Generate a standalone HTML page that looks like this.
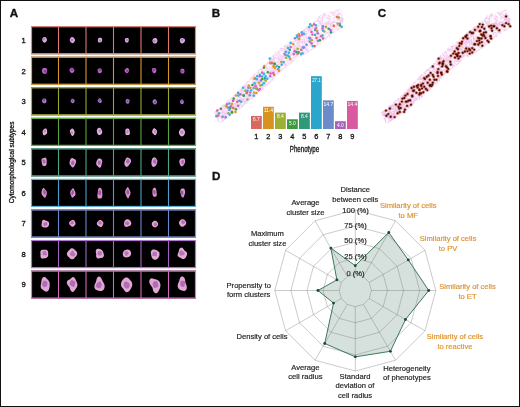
<!DOCTYPE html>
<html><head><meta charset="utf-8"><style>
html,body{margin:0;padding:0;background:#fff}
svg{display:block;filter:blur(0.5px)}
text{font-family:"Liberation Sans",sans-serif;stroke-width:0.18px;paint-order:stroke}
</style></head><body>
<svg width="520" height="407" viewBox="0 0 520 407">
<rect x="0" y="0" width="520" height="407" fill="#fff"/>
<rect x="31" y="26.20" width="165" height="28" fill="#000"/><g transform="translate(44.54,39.78) rotate(-10.3)"><path d="M2.36,0.00 L2.31,0.62 L2.11,1.19 L1.78,1.67 L1.40,2.06 L0.97,2.37 L0.51,2.64 L0.00,2.81 L-0.55,2.82 L-1.07,2.62 L-1.52,2.23 L-1.85,1.74 L-2.10,1.19 L-2.27,0.61 L-2.36,0.00 L-2.31,-0.62 L-2.11,-1.19 L-1.79,-1.68 L-1.40,-2.06 L-0.98,-2.38 L-0.51,-2.64 L-0.00,-2.80 L0.55,-2.81 L1.07,-2.61 L1.51,-2.23 L1.86,-1.74 L2.11,-1.19 L2.28,-0.61Z" fill="#dcaee0"/><path transform="translate(-0.52,-0.77)" d="M1.33,0.00 L1.37,0.33 L1.25,0.64 L1.02,0.86 L0.76,1.02 L0.52,1.16 L0.28,1.32 L0.00,1.43 L-0.30,1.41 L-0.56,1.24 L-0.76,1.01 L-0.93,0.79 L-1.14,0.59 L-1.36,0.33 L-1.50,0.00 L-1.44,-0.35 L-1.20,-0.62 L-0.89,-0.76 L-0.64,-0.86 L-0.46,-1.02 L-0.27,-1.28 L-0.00,-1.52 L0.34,-1.59 L0.64,-1.43 L0.83,-1.11 L0.93,-0.79 L1.03,-0.53 L1.18,-0.29Z" fill="#a070c0" opacity="0.72"/></g><g transform="translate(72.34,40.08) rotate(-10.9)"><path d="M2.65,0.00 L2.59,0.69 L2.32,1.31 L1.91,1.79 L1.48,2.17 L1.04,2.54 L0.56,2.88 L0.00,3.10 L-0.60,3.07 L-1.14,2.77 L-1.55,2.29 L-1.87,1.75 L-2.15,1.21 L-2.40,0.64 L-2.56,0.00 L-2.54,-0.68 L-2.32,-1.31 L-1.96,-1.83 L-1.53,-2.26 L-1.08,-2.62 L-0.57,-2.92 L-0.00,-3.07 L0.58,-2.99 L1.10,-2.67 L1.51,-2.22 L1.86,-1.74 L2.19,-1.24 L2.48,-0.66Z" fill="#dcaee0"/><path transform="translate(-0.38,-0.09)" d="M1.37,0.00 L1.31,0.32 L1.21,0.62 L1.06,0.91 L0.87,1.16 L0.61,1.36 L0.31,1.47 L0.00,1.48 L-0.31,1.43 L-0.60,1.32 L-0.87,1.16 L-1.10,0.94 L-1.27,0.65 L-1.36,0.33 L-1.36,0.00 L-1.31,-0.32 L-1.22,-0.63 L-1.08,-0.92 L-0.88,-1.18 L-0.62,-1.37 L-0.31,-1.46 L-0.00,-1.47 L0.30,-1.41 L0.59,-1.30 L0.86,-1.16 L1.11,-0.94 L1.29,-0.66 L1.37,-0.33Z" fill="#a070c0" opacity="0.72"/></g><g transform="translate(99.97,40.11) rotate(2.1)"><path d="M2.17,0.00 L2.10,0.56 L1.95,1.10 L1.69,1.58 L1.32,1.94 L0.90,2.19 L0.46,2.34 L0.00,2.46 L-0.49,2.51 L-1.00,2.44 L-1.47,2.17 L-1.83,1.71 L-2.03,1.14 L-2.10,0.56 L-2.11,0.00 L-2.07,-0.55 L-1.96,-1.11 L-1.72,-1.61 L-1.36,-2.00 L-0.92,-2.24 L-0.46,-2.37 L-0.00,-2.43 L0.48,-2.45 L0.97,-2.37 L1.44,-2.12 L1.82,-1.70 L2.05,-1.16 L2.16,-0.58Z" fill="#dcaee0"/><path transform="translate(0.03,0.33)" d="M1.23,0.00 L1.26,0.31 L1.17,0.60 L0.95,0.81 L0.69,0.93 L0.46,1.01 L0.24,1.14 L0.00,1.30 L-0.30,1.39 L-0.60,1.33 L-0.82,1.10 L-0.92,0.78 L-0.96,0.49 L-1.01,0.25 L-1.11,0.00 L-1.19,-0.29 L-1.17,-0.60 L-1.01,-0.86 L-0.76,-1.02 L-0.50,-1.12 L-0.26,-1.19 L-0.00,-1.27 L0.28,-1.30 L0.55,-1.21 L0.76,-1.02 L0.90,-0.77 L1.01,-0.52 L1.12,-0.27Z" fill="#a070c0" opacity="0.72"/></g><g transform="translate(126.83,40.19) rotate(4.0)"><path d="M1.92,0.00 L1.89,0.51 L1.80,1.02 L1.61,1.50 L1.30,1.91 L0.90,2.21 L0.47,2.39 L0.00,2.47 L-0.47,2.43 L-0.91,2.23 L-1.28,1.88 L-1.54,1.44 L-1.72,0.97 L-1.87,0.50 L-1.99,0.00 L-2.04,-0.55 L-1.95,-1.10 L-1.69,-1.58 L-1.30,-1.91 L-0.86,-2.09 L-0.43,-2.20 L-0.00,-2.29 L0.46,-2.34 L0.93,-2.27 L1.36,-2.01 L1.67,-1.57 L1.84,-1.04 L1.90,-0.51Z" fill="#dcaee0"/><path transform="translate(0.10,-0.26)" d="M1.06,0.00 L0.99,0.24 L0.92,0.48 L0.87,0.74 L0.76,1.02 L0.56,1.25 L0.29,1.34 L0.00,1.29 L-0.24,1.15 L-0.45,1.00 L-0.65,0.87 L-0.85,0.73 L-1.02,0.53 L-1.10,0.27 L-1.07,0.00 L-0.99,-0.24 L-0.91,-0.47 L-0.85,-0.73 L-0.75,-1.01 L-0.56,-1.25 L-0.29,-1.35 L-0.00,-1.31 L0.25,-1.16 L0.45,-1.00 L0.65,-0.87 L0.85,-0.72 L1.01,-0.52 L1.08,-0.26Z" fill="#a070c0" opacity="0.72"/></g><g transform="translate(154.93,40.79) rotate(-5.2)"><path d="M2.47,0.00 L2.39,0.64 L2.19,1.24 L1.88,1.76 L1.49,2.19 L1.03,2.52 L0.53,2.73 L0.00,2.83 L-0.54,2.78 L-1.06,2.59 L-1.53,2.26 L-1.93,1.81 L-2.24,1.26 L-2.44,0.65 L-2.51,0.00 L-2.43,-0.65 L-2.22,-1.25 L-1.88,-1.76 L-1.47,-2.16 L-1.01,-2.47 L-0.52,-2.68 L-0.00,-2.80 L0.54,-2.79 L1.08,-2.63 L1.56,-2.30 L1.96,-1.84 L2.25,-1.27 L2.42,-0.65Z" fill="#dcaee0"/><path transform="translate(-0.53,0.18)" d="M1.50,0.00 L1.43,0.35 L1.28,0.66 L1.08,0.92 L0.86,1.16 L0.60,1.33 L0.30,1.41 L0.00,1.37 L-0.27,1.25 L-0.50,1.11 L-0.73,0.98 L-0.98,0.84 L-1.24,0.64 L-1.42,0.35 L-1.48,0.00 L-1.41,-0.34 L-1.27,-0.65 L-1.09,-0.93 L-0.88,-1.17 L-0.61,-1.36 L-0.31,-1.43 L-0.00,-1.37 L0.26,-1.23 L0.49,-1.08 L0.72,-0.96 L0.98,-0.83 L1.24,-0.64 L1.44,-0.35Z" fill="#a070c0" opacity="0.72"/></g><g transform="translate(182.31,40.66) rotate(8.7)"><path d="M2.65,0.00 L2.46,0.66 L2.15,1.21 L1.79,1.67 L1.41,2.08 L1.00,2.44 L0.53,2.73 L0.00,2.87 L-0.55,2.83 L-1.07,2.60 L-1.51,2.22 L-1.88,1.76 L-2.17,1.23 L-2.39,0.64 L-2.51,0.00 L-2.50,-0.67 L-2.33,-1.32 L-2.00,-1.88 L-1.56,-2.29 L-1.04,-2.53 L-0.51,-2.62 L-0.00,-2.59 L0.49,-2.51 L0.98,-2.39 L1.50,-2.20 L2.00,-1.87 L2.41,-1.36 L2.65,-0.71Z" fill="#dcaee0"/><path transform="translate(-0.39,-0.58)" d="M1.35,0.00 L1.28,0.31 L1.19,0.61 L1.06,0.91 L0.87,1.16 L0.60,1.33 L0.30,1.38 L0.00,1.35 L-0.27,1.28 L-0.55,1.22 L-0.83,1.11 L-1.10,0.93 L-1.29,0.66 L-1.36,0.33 L-1.35,0.00 L-1.28,-0.31 L-1.19,-0.61 L-1.07,-0.91 L-0.87,-1.16 L-0.60,-1.33 L-0.30,-1.38 L-0.00,-1.35 L0.27,-1.28 L0.55,-1.21 L0.83,-1.11 L1.10,-0.93 L1.29,-0.66 L1.36,-0.33Z" fill="#a070c0" opacity="0.72"/></g><rect x="31.5" y="26.70" width="164" height="27" fill="none" stroke="#e3887f" stroke-width="1.2"/><line x1="58.50" y1="26.20" x2="58.50" y2="54.20" stroke="#e0786e" stroke-width="1.1"/><line x1="86.00" y1="26.20" x2="86.00" y2="54.20" stroke="#e0786e" stroke-width="1.1"/><line x1="113.50" y1="26.20" x2="113.50" y2="54.20" stroke="#e0786e" stroke-width="1.1"/><line x1="141.00" y1="26.20" x2="141.00" y2="54.20" stroke="#e0786e" stroke-width="1.1"/><line x1="168.50" y1="26.20" x2="168.50" y2="54.20" stroke="#e0786e" stroke-width="1.1"/><text x="25.8" y="43.00" text-anchor="end" font-size="7.6" style="stroke-width:0.3px" fill="#111" stroke="#111">1</text><rect x="31" y="56.75" width="165" height="28" fill="#000"/><g transform="translate(44.59,70.83) rotate(4.6)"><path d="M2.41,0.00 L2.30,0.61 L2.21,1.24 L2.06,1.91 L1.73,2.53 L1.22,2.95 L0.61,3.10 L0.00,3.05 L-0.56,2.88 L-1.10,2.65 L-1.60,2.34 L-2.04,1.90 L-2.36,1.33 L-2.54,0.68 L-2.60,0.00 L-2.57,-0.69 L-2.43,-1.37 L-2.14,-1.99 L-1.68,-2.45 L-1.12,-2.70 L-0.54,-2.78 L-0.00,-2.80 L0.55,-2.83 L1.16,-2.80 L1.76,-2.58 L2.25,-2.10 L2.50,-1.41 L2.52,-0.67Z" fill="#b868c6"/><path transform="translate(0.45,0.22)" d="M1.52,0.00 L1.44,0.35 L1.27,0.65 L1.06,0.90 L0.82,1.09 L0.57,1.26 L0.30,1.39 L0.00,1.47 L-0.32,1.48 L-0.64,1.41 L-0.94,1.25 L-1.19,1.01 L-1.38,0.70 L-1.49,0.36 L-1.51,0.00 L-1.44,-0.35 L-1.29,-0.66 L-1.08,-0.91 L-0.83,-1.11 L-0.57,-1.26 L-0.30,-1.38 L-0.00,-1.45 L0.31,-1.46 L0.63,-1.40 L0.94,-1.25 L1.20,-1.01 L1.39,-0.71 L1.51,-0.36Z" fill="#7a3090" opacity="0.72"/></g><g transform="translate(71.90,70.34) rotate(-10.7)"><path d="M2.37,0.00 L2.38,0.63 L2.17,1.22 L1.81,1.69 L1.39,2.04 L0.96,2.33 L0.51,2.59 L0.00,2.75 L-0.53,2.72 L-1.01,2.45 L-1.39,2.03 L-1.67,1.56 L-1.93,1.09 L-2.18,0.58 L-2.36,0.00 L-2.37,-0.63 L-2.17,-1.22 L-1.81,-1.69 L-1.39,-2.04 L-0.96,-2.34 L-0.51,-2.60 L-0.00,-2.76 L0.53,-2.72 L1.01,-2.45 L1.38,-2.02 L1.67,-1.55 L1.93,-1.08 L2.18,-0.58Z" fill="#b868c6"/><path transform="translate(0.14,-0.69)" d="M1.50,0.00 L1.27,0.31 L0.99,0.51 L0.79,0.67 L0.67,0.89 L0.54,1.18 L0.31,1.43 L0.00,1.52 L-0.30,1.41 L-0.54,1.19 L-0.73,0.97 L-0.93,0.78 L-1.12,0.57 L-1.26,0.31 L-1.29,0.00 L-1.20,-0.29 L-1.08,-0.55 L-0.96,-0.81 L-0.83,-1.10 L-0.61,-1.34 L-0.31,-1.45 L-0.00,-1.36 L0.25,-1.15 L0.44,-0.96 L0.65,-0.87 L0.96,-0.81 L1.30,-0.66 L1.51,-0.37Z" fill="#7a3090" opacity="0.72"/></g><g transform="translate(99.71,70.73) rotate(-9.5)"><path d="M2.07,0.00 L2.09,0.56 L2.02,1.13 L1.78,1.65 L1.38,2.02 L0.91,2.21 L0.45,2.30 L0.00,2.37 L-0.47,2.42 L-0.97,2.35 L-1.43,2.09 L-1.76,1.63 L-1.93,1.09 L-2.01,0.54 L-2.06,0.00 L-2.09,-0.56 L-2.02,-1.13 L-1.78,-1.65 L-1.38,-2.02 L-0.91,-2.22 L-0.45,-2.30 L-0.00,-2.37 L0.47,-2.41 L0.97,-2.35 L1.42,-2.08 L1.75,-1.63 L1.93,-1.09 L2.02,-0.54Z" fill="#b868c6"/><path transform="translate(0.03,-0.69)" d="M1.15,0.00 L1.07,0.26 L0.98,0.50 L0.88,0.74 L0.72,0.96 L0.50,1.11 L0.25,1.16 L0.00,1.15 L-0.25,1.15 L-0.53,1.16 L-0.85,1.14 L-1.16,0.98 L-1.33,0.68 L-1.30,0.32 L-1.11,0.00 L-0.89,-0.22 L-0.76,-0.39 L-0.72,-0.61 L-0.68,-0.90 L-0.54,-1.20 L-0.30,-1.38 L-0.00,-1.41 L0.28,-1.32 L0.53,-1.18 L0.77,-1.02 L0.98,-0.83 L1.13,-0.58 L1.19,-0.29Z" fill="#7a3090" opacity="0.72"/></g><g transform="translate(126.96,70.59) rotate(6.5)"><path d="M2.20,0.00 L2.08,0.55 L1.88,1.05 L1.64,1.53 L1.37,2.01 L1.00,2.43 L0.53,2.69 L0.00,2.68 L-0.48,2.46 L-0.88,2.14 L-1.26,1.84 L-1.66,1.54 L-2.07,1.16 L-2.36,0.63 L-2.41,0.00 L-2.22,-0.59 L-1.89,-1.06 L-1.55,-1.44 L-1.24,-1.82 L-0.92,-2.23 L-0.50,-2.57 L-0.00,-2.73 L0.52,-2.64 L0.98,-2.36 L1.36,-1.99 L1.70,-1.59 L1.99,-1.12 L2.18,-0.58Z" fill="#b868c6"/><path transform="translate(0.42,0.23)" d="M1.09,0.00 L1.09,0.26 L1.06,0.54 L0.97,0.82 L0.81,1.08 L0.58,1.27 L0.29,1.37 L0.00,1.36 L-0.27,1.27 L-0.51,1.13 L-0.71,0.95 L-0.89,0.75 L-1.04,0.53 L-1.15,0.28 L-1.20,0.00 L-1.18,-0.28 L-1.09,-0.56 L-0.94,-0.80 L-0.75,-1.00 L-0.53,-1.17 L-0.28,-1.30 L-0.00,-1.36 L0.29,-1.33 L0.55,-1.22 L0.77,-1.03 L0.93,-0.78 L1.02,-0.52 L1.07,-0.26Z" fill="#7a3090" opacity="0.72"/></g><g transform="translate(154.18,70.49) rotate(4.6)"><path d="M2.24,0.00 L2.20,0.58 L2.04,1.15 L1.78,1.65 L1.43,2.09 L1.01,2.44 L0.52,2.68 L0.00,2.79 L-0.53,2.70 L-0.99,2.40 L-1.34,1.96 L-1.58,1.47 L-1.76,0.99 L-1.95,0.52 L-2.15,0.00 L-2.28,-0.61 L-2.24,-1.26 L-1.98,-1.84 L-1.54,-2.25 L-1.02,-2.47 L-0.49,-2.53 L-0.00,-2.50 L0.47,-2.42 L0.93,-2.26 L1.36,-1.99 L1.72,-1.60 L1.99,-1.12 L2.17,-0.58Z" fill="#b868c6"/><path transform="translate(-0.34,-0.58)" d="M1.43,0.00 L1.38,0.33 L1.24,0.63 L1.02,0.87 L0.76,1.02 L0.49,1.08 L0.23,1.08 L0.00,1.09 L-0.24,1.12 L-0.52,1.14 L-0.82,1.09 L-1.07,0.91 L-1.22,0.62 L-1.24,0.30 L-1.19,0.00 L-1.15,-0.28 L-1.13,-0.58 L-1.06,-0.89 L-0.88,-1.17 L-0.60,-1.32 L-0.28,-1.30 L-0.00,-1.16 L0.22,-1.02 L0.42,-0.93 L0.66,-0.88 L0.94,-0.80 L1.20,-0.61 L1.38,-0.33Z" fill="#7a3090" opacity="0.72"/></g><g transform="translate(182.43,71.11) rotate(3.9)"><path d="M2.00,0.00 L2.02,0.54 L1.98,1.11 L1.80,1.68 L1.45,2.12 L0.98,2.38 L0.48,2.45 L0.00,2.43 L-0.46,2.37 L-0.93,2.25 L-1.36,1.99 L-1.71,1.59 L-1.92,1.08 L-2.01,0.54 L-2.04,0.00 L-2.05,-0.55 L-1.98,-1.11 L-1.78,-1.66 L-1.42,-2.08 L-0.96,-2.33 L-0.48,-2.43 L-0.00,-2.44 L0.47,-2.41 L0.95,-2.29 L1.39,-2.03 L1.72,-1.60 L1.90,-1.07 L1.97,-0.52Z" fill="#b868c6"/><path transform="translate(-0.20,0.22)" d="M1.24,0.00 L1.18,0.29 L1.07,0.55 L0.93,0.79 L0.76,1.02 L0.55,1.22 L0.29,1.36 L0.00,1.39 L-0.28,1.29 L-0.50,1.10 L-0.66,0.88 L-0.78,0.66 L-0.89,0.46 L-1.00,0.24 L-1.11,0.00 L-1.19,-0.29 L-1.19,-0.61 L-1.09,-0.92 L-0.88,-1.17 L-0.59,-1.30 L-0.28,-1.31 L-0.00,-1.21 L0.23,-1.08 L0.43,-0.95 L0.64,-0.85 L0.86,-0.72 L1.06,-0.54 L1.20,-0.29Z" fill="#7a3090" opacity="0.72"/></g><rect x="31.5" y="57.25" width="164" height="27" fill="none" stroke="#dca443" stroke-width="1.2"/><line x1="58.50" y1="56.75" x2="58.50" y2="84.75" stroke="#d8982a" stroke-width="1.1"/><line x1="86.00" y1="56.75" x2="86.00" y2="84.75" stroke="#d8982a" stroke-width="1.1"/><line x1="113.50" y1="56.75" x2="113.50" y2="84.75" stroke="#d8982a" stroke-width="1.1"/><line x1="141.00" y1="56.75" x2="141.00" y2="84.75" stroke="#d8982a" stroke-width="1.1"/><line x1="168.50" y1="56.75" x2="168.50" y2="84.75" stroke="#d8982a" stroke-width="1.1"/><text x="25.8" y="73.55" text-anchor="end" font-size="7.6" style="stroke-width:0.3px" fill="#111" stroke="#111">2</text><rect x="31" y="87.30" width="165" height="28" fill="#000"/><g transform="translate(44.30,100.88) rotate(7.4)"><path d="M2.18,0.00 L2.22,0.61 L2.09,1.21 L1.80,1.72 L1.38,2.08 L0.92,2.30 L0.46,2.42 L0.00,2.47 L-0.46,2.44 L-0.91,2.27 L-1.31,1.97 L-1.64,1.57 L-1.91,1.11 L-2.13,0.58 L-2.26,0.00 L-2.25,-0.62 L-2.07,-1.20 L-1.74,-1.67 L-1.33,-1.99 L-0.89,-2.22 L-0.46,-2.40 L-0.00,-2.52 L0.48,-2.53 L0.95,-2.37 L1.35,-2.03 L1.64,-1.57 L1.86,-1.07 L2.04,-0.56Z" fill="#ac7ace"/><path transform="translate(-0.44,-0.88)" d="M1.09,0.00 L1.02,0.26 L1.00,0.53 L0.99,0.86 L0.89,1.21 L0.64,1.46 L0.31,1.50 L0.00,1.34 L-0.23,1.11 L-0.41,0.93 L-0.60,0.83 L-0.84,0.73 L-1.05,0.55 L-1.18,0.29 L-1.19,0.00 L-1.15,-0.29 L-1.09,-0.57 L-1.01,-0.87 L-0.85,-1.16 L-0.60,-1.35 L-0.29,-1.37 L-0.00,-1.26 L0.23,-1.11 L0.45,-1.01 L0.68,-0.93 L0.92,-0.80 L1.10,-0.58 L1.15,-0.29Z" fill="#703098" opacity="0.72"/></g><g transform="translate(72.64,100.95) rotate(-5.0)"><path d="M2.01,0.00 L1.91,0.52 L1.68,0.97 L1.39,1.33 L1.11,1.67 L0.80,1.99 L0.43,2.24 L0.00,2.33 L-0.42,2.21 L-0.78,1.95 L-1.09,1.64 L-1.39,1.33 L-1.69,0.97 L-1.93,0.53 L-2.03,0.00 L-1.94,-0.53 L-1.70,-0.98 L-1.41,-1.34 L-1.11,-1.66 L-0.79,-1.96 L-0.42,-2.20 L-0.00,-2.30 L0.42,-2.20 L0.79,-1.96 L1.11,-1.67 L1.41,-1.35 L1.70,-0.98 L1.93,-0.53Z" fill="#ac7ace"/><path transform="translate(-0.18,-0.26)" d="M0.97,0.00 L0.89,0.22 L0.81,0.42 L0.73,0.63 L0.62,0.85 L0.46,1.04 L0.24,1.15 L0.00,1.16 L-0.23,1.10 L-0.45,1.01 L-0.67,0.92 L-0.89,0.78 L-1.06,0.56 L-1.12,0.28 L-1.04,0.00 L-0.88,-0.22 L-0.73,-0.38 L-0.63,-0.55 L-0.55,-0.76 L-0.44,-1.00 L-0.25,-1.19 L-0.00,-1.27 L0.26,-1.23 L0.49,-1.10 L0.68,-0.93 L0.84,-0.73 L0.96,-0.50 L1.00,-0.25Z" fill="#703098" opacity="0.72"/></g><g transform="translate(99.78,100.72) rotate(-7.6)"><path d="M1.93,0.00 L1.94,0.53 L1.82,1.05 L1.59,1.52 L1.26,1.90 L0.88,2.19 L0.45,2.36 L0.00,2.38 L-0.43,2.24 L-0.80,1.99 L-1.12,1.69 L-1.42,1.36 L-1.72,1.00 L-1.97,0.54 L-2.09,0.00 L-2.03,-0.56 L-1.81,-1.05 L-1.49,-1.43 L-1.16,-1.74 L-0.82,-2.03 L-0.44,-2.29 L-0.00,-2.44 L0.46,-2.41 L0.87,-2.17 L1.20,-1.80 L1.44,-1.38 L1.64,-0.95 L1.82,-0.50Z" fill="#ac7ace"/><path transform="translate(-0.21,-0.17)" d="M1.04,0.00 L1.01,0.25 L0.93,0.49 L0.79,0.69 L0.63,0.86 L0.45,1.02 L0.24,1.14 L0.00,1.22 L-0.25,1.21 L-0.49,1.11 L-0.69,0.95 L-0.86,0.75 L-0.99,0.52 L-1.07,0.27 L-1.10,0.00 L-1.05,-0.26 L-0.93,-0.49 L-0.76,-0.66 L-0.59,-0.81 L-0.42,-0.96 L-0.23,-1.11 L-0.00,-1.23 L0.26,-1.26 L0.52,-1.18 L0.73,-0.99 L0.87,-0.76 L0.96,-0.50 L1.02,-0.25Z" fill="#703098" opacity="0.72"/></g><g transform="translate(127.58,101.31) rotate(6.2)"><path d="M1.94,0.00 L1.85,0.51 L1.74,1.00 L1.57,1.50 L1.31,1.97 L0.93,2.31 L0.47,2.46 L0.00,2.45 L-0.44,2.33 L-0.86,2.13 L-1.23,1.86 L-1.55,1.48 L-1.77,1.02 L-1.87,0.51 L-1.90,0.00 L-1.89,-0.52 L-1.83,-1.06 L-1.67,-1.60 L-1.36,-2.05 L-0.93,-2.32 L-0.45,-2.39 L-0.00,-2.31 L0.42,-2.19 L0.83,-2.06 L1.24,-1.87 L1.62,-1.55 L1.88,-1.08 L1.97,-0.54Z" fill="#ac7ace"/><path transform="translate(-0.06,-0.15)" d="M1.04,0.00 L1.05,0.26 L1.01,0.53 L0.89,0.78 L0.69,0.95 L0.45,1.02 L0.21,1.03 L0.00,1.02 L-0.22,1.05 L-0.48,1.09 L-0.78,1.06 L-1.05,0.91 L-1.21,0.64 L-1.23,0.31 L-1.13,0.00 L-0.98,-0.24 L-0.83,-0.43 L-0.70,-0.61 L-0.58,-0.79 L-0.44,-0.99 L-0.24,-1.16 L-0.00,-1.28 L0.27,-1.31 L0.54,-1.23 L0.77,-1.05 L0.91,-0.79 L0.99,-0.52 L1.02,-0.25Z" fill="#703098" opacity="0.72"/></g><g transform="translate(154.82,101.83) rotate(-8.7)"><path d="M2.19,0.00 L2.18,0.60 L2.00,1.16 L1.68,1.61 L1.29,1.94 L0.89,2.22 L0.46,2.44 L0.00,2.59 L-0.49,2.57 L-0.94,2.35 L-1.31,1.97 L-1.59,1.53 L-1.83,1.06 L-2.04,0.56 L-2.19,0.00 L-2.19,-0.60 L-2.01,-1.16 L-1.69,-1.62 L-1.30,-1.96 L-0.89,-2.22 L-0.46,-2.43 L-0.00,-2.56 L0.48,-2.55 L0.94,-2.34 L1.31,-1.97 L1.60,-1.54 L1.85,-1.07 L2.06,-0.56Z" fill="#ac7ace"/><path transform="translate(0.34,0.36)" d="M0.95,0.00 L0.93,0.23 L0.98,0.52 L1.01,0.88 L0.88,1.20 L0.60,1.37 L0.28,1.32 L0.00,1.16 L-0.22,1.03 L-0.43,0.98 L-0.69,0.94 L-0.96,0.83 L-1.14,0.60 L-1.21,0.30 L-1.19,0.00 L-1.14,-0.28 L-1.08,-0.57 L-0.96,-0.84 L-0.76,-1.04 L-0.50,-1.12 L-0.23,-1.12 L-0.00,-1.11 L0.24,-1.15 L0.53,-1.20 L0.84,-1.15 L1.08,-0.94 L1.14,-0.60 L1.06,-0.26Z" fill="#703098" opacity="0.72"/></g><g transform="translate(181.91,101.84) rotate(-0.3)"><path d="M1.91,0.00 L1.92,0.53 L1.80,1.04 L1.57,1.50 L1.25,1.88 L0.86,2.15 L0.44,2.31 L0.00,2.33 L-0.42,2.22 L-0.80,2.00 L-1.14,1.72 L-1.45,1.38 L-1.72,0.99 L-1.92,0.53 L-2.02,0.00 L-1.96,-0.54 L-1.77,-1.02 L-1.50,-1.43 L-1.18,-1.77 L-0.83,-2.06 L-0.44,-2.29 L-0.00,-2.40 L0.45,-2.35 L0.85,-2.13 L1.18,-1.78 L1.44,-1.38 L1.65,-0.95 L1.81,-0.50Z" fill="#ac7ace"/><path transform="translate(-0.37,-0.45)" d="M1.00,0.00 L0.95,0.24 L0.89,0.47 L0.81,0.71 L0.68,0.94 L0.49,1.11 L0.25,1.20 L0.00,1.20 L-0.24,1.15 L-0.46,1.05 L-0.68,0.92 L-0.86,0.74 L-0.97,0.51 L-1.02,0.25 L-0.99,0.00 L-0.94,-0.24 L-0.89,-0.47 L-0.81,-0.70 L-0.68,-0.94 L-0.49,-1.11 L-0.25,-1.21 L-0.00,-1.21 L0.24,-1.15 L0.46,-1.05 L0.67,-0.92 L0.85,-0.74 L0.97,-0.51 L1.01,-0.25Z" fill="#703098" opacity="0.72"/></g><rect x="31.5" y="87.80" width="164" height="27" fill="none" stroke="#a6b045" stroke-width="1.2"/><line x1="58.50" y1="87.30" x2="58.50" y2="115.30" stroke="#9aa62c" stroke-width="1.1"/><line x1="86.00" y1="87.30" x2="86.00" y2="115.30" stroke="#9aa62c" stroke-width="1.1"/><line x1="113.50" y1="87.30" x2="113.50" y2="115.30" stroke="#9aa62c" stroke-width="1.1"/><line x1="141.00" y1="87.30" x2="141.00" y2="115.30" stroke="#9aa62c" stroke-width="1.1"/><line x1="168.50" y1="87.30" x2="168.50" y2="115.30" stroke="#9aa62c" stroke-width="1.1"/><text x="25.8" y="104.10" text-anchor="end" font-size="7.6" style="stroke-width:0.3px" fill="#111" stroke="#111">3</text><rect x="31" y="117.85" width="165" height="28" fill="#000"/><g transform="translate(44.90,131.86) rotate(11.6)"><path d="M2.36,0.00 L2.37,0.77 L2.16,1.48 L1.80,2.04 L1.39,2.47 L0.97,2.86 L0.52,3.24 L0.00,3.49 L-0.56,3.47 L-1.06,3.12 L-1.43,2.55 L-1.70,1.93 L-1.95,1.33 L-2.19,0.71 L-2.37,0.00 L-2.37,-0.77 L-2.15,-1.48 L-1.79,-2.03 L-1.38,-2.46 L-0.97,-2.86 L-0.52,-3.25 L-0.00,-3.51 L0.56,-3.49 L1.06,-3.13 L1.43,-2.55 L1.69,-1.92 L1.93,-1.33 L2.18,-0.71Z" fill="#e6b6dc"/><path transform="translate(-0.28,-0.72)" d="M1.16,0.00 L1.22,0.36 L1.23,0.77 L1.10,1.14 L0.84,1.37 L0.53,1.42 L0.25,1.40 L0.00,1.44 L-0.27,1.54 L-0.59,1.59 L-0.90,1.46 L-1.11,1.14 L-1.18,0.74 L-1.18,0.35 L-1.18,0.00 L-1.21,-0.36 L-1.20,-0.75 L-1.07,-1.10 L-0.82,-1.33 L-0.52,-1.40 L-0.25,-1.42 L-0.00,-1.49 L0.28,-1.60 L0.61,-1.63 L0.91,-1.47 L1.09,-1.12 L1.14,-0.71 L1.13,-0.33Z" fill="#b070c0" opacity="0.72"/></g><g transform="translate(72.33,132.09) rotate(-10.6)"><path d="M2.30,0.00 L2.23,0.72 L1.99,1.37 L1.66,1.88 L1.31,2.33 L0.96,2.84 L0.54,3.39 L0.00,3.80 L-0.62,3.85 L-1.17,3.44 L-1.52,2.72 L-1.70,1.93 L-1.83,1.25 L-2.00,0.65 L-2.19,0.00 L-2.28,-0.74 L-2.16,-1.48 L-1.84,-2.09 L-1.43,-2.54 L-0.99,-2.91 L-0.52,-3.25 L-0.00,-3.50 L0.57,-3.53 L1.10,-3.25 L1.52,-2.71 L1.82,-2.06 L2.04,-1.39 L2.21,-0.72Z" fill="#e6b6dc"/><path transform="translate(-0.50,0.30)" d="M1.28,0.00 L1.20,0.35 L1.11,0.69 L1.03,1.06 L0.89,1.45 L0.64,1.73 L0.32,1.79 L0.00,1.62 L-0.24,1.36 L-0.44,1.19 L-0.69,1.12 L-1.01,1.04 L-1.31,0.82 L-1.47,0.43 L-1.41,0.00 L-1.23,-0.36 L-1.04,-0.65 L-0.91,-0.94 L-0.79,-1.28 L-0.60,-1.61 L-0.32,-1.80 L-0.00,-1.76 L0.28,-1.58 L0.51,-1.36 L0.73,-1.19 L0.97,-1.00 L1.19,-0.74 L1.30,-0.38Z" fill="#b070c0" opacity="0.72"/></g><g transform="translate(99.47,131.41) rotate(-6.3)"><path d="M2.69,0.00 L2.68,0.87 L2.46,1.69 L2.07,2.34 L1.58,2.82 L1.07,3.17 L0.55,3.45 L0.00,3.63 L-0.58,3.63 L-1.15,3.39 L-1.64,2.92 L-2.01,2.28 L-2.29,1.57 L-2.48,0.81 L-2.58,0.00 L-2.56,-0.83 L-2.38,-1.63 L-2.05,-2.33 L-1.62,-2.90 L-1.13,-3.33 L-0.58,-3.62 L-0.00,-3.72 L0.58,-3.61 L1.11,-3.28 L1.56,-2.78 L1.93,-2.19 L2.25,-1.54 L2.52,-0.82Z" fill="#e6b6dc"/><path transform="translate(0.31,-0.49)" d="M1.46,0.00 L1.43,0.42 L1.30,0.81 L1.11,1.14 L0.87,1.41 L0.60,1.61 L0.31,1.75 L0.00,1.82 L-0.32,1.81 L-0.63,1.70 L-0.91,1.48 L-1.14,1.18 L-1.29,0.81 L-1.37,0.41 L-1.39,0.00 L-1.35,-0.40 L-1.26,-0.78 L-1.11,-1.14 L-0.90,-1.46 L-0.64,-1.71 L-0.33,-1.85 L-0.00,-1.87 L0.32,-1.79 L0.60,-1.62 L0.86,-1.40 L1.09,-1.12 L1.28,-0.80 L1.41,-0.42Z" fill="#b070c0" opacity="0.72"/></g><g transform="translate(127.53,131.91) rotate(-0.6)"><path d="M2.28,0.00 L2.39,0.78 L2.36,1.62 L2.08,2.36 L1.60,2.85 L1.03,3.04 L0.49,3.08 L0.00,3.14 L-0.52,3.24 L-1.08,3.20 L-1.61,2.87 L-1.96,2.23 L-2.11,1.45 L-2.14,0.69 L-2.16,0.00 L-2.21,-0.72 L-2.20,-1.51 L-2.02,-2.29 L-1.62,-2.89 L-1.09,-3.23 L-0.54,-3.35 L-0.00,-3.36 L0.53,-3.30 L1.05,-3.10 L1.50,-2.68 L1.82,-2.06 L2.00,-1.37 L2.14,-0.69Z" fill="#e6b6dc"/><path transform="translate(-0.13,-0.19)" d="M1.27,0.00 L1.22,0.36 L1.11,0.69 L0.98,1.01 L0.81,1.32 L0.60,1.61 L0.32,1.79 L0.00,1.83 L-0.30,1.72 L-0.57,1.54 L-0.83,1.35 L-1.08,1.12 L-1.29,0.80 L-1.37,0.40 L-1.29,0.00 L-1.11,-0.33 L-0.92,-0.58 L-0.81,-0.84 L-0.74,-1.20 L-0.61,-1.63 L-0.35,-1.99 L-0.00,-2.11 L0.35,-1.96 L0.61,-1.63 L0.78,-1.27 L0.93,-0.96 L1.09,-0.68 L1.22,-0.36Z" fill="#b070c0" opacity="0.72"/></g><g transform="translate(154.64,131.67) rotate(-8.9)"><path d="M2.47,0.00 L2.36,0.77 L2.08,1.42 L1.73,1.96 L1.38,2.47 L1.01,2.97 L0.54,3.37 L0.00,3.51 L-0.53,3.30 L-0.97,2.87 L-1.33,2.37 L-1.68,1.91 L-2.05,1.41 L-2.37,0.77 L-2.50,0.00 L-2.39,-0.78 L-2.08,-1.43 L-1.72,-1.95 L-1.37,-2.44 L-0.99,-2.93 L-0.54,-3.34 L-0.00,-3.50 L0.53,-3.33 L0.98,-2.90 L1.35,-2.40 L1.69,-1.92 L2.05,-1.40 L2.35,-0.76Z" fill="#e6b6dc"/><path transform="translate(0.44,0.04)" d="M1.43,0.00 L1.34,0.40 L1.15,0.72 L0.94,0.97 L0.73,1.19 L0.52,1.40 L0.28,1.57 L0.00,1.64 L-0.28,1.59 L-0.54,1.44 L-0.77,1.24 L-0.99,1.02 L-1.20,0.75 L-1.35,0.40 L-1.39,0.00 L-1.31,-0.39 L-1.14,-0.71 L-0.95,-0.98 L-0.76,-1.23 L-0.54,-1.46 L-0.28,-1.61 L-0.00,-1.65 L0.27,-1.55 L0.52,-1.38 L0.74,-1.20 L0.97,-1.00 L1.20,-0.75 L1.38,-0.41Z" fill="#b070c0" opacity="0.72"/></g><g transform="translate(181.97,132.40) rotate(1.1)"><path d="M3.01,0.00 L2.87,0.93 L2.57,1.76 L2.17,2.47 L1.73,3.08 L1.22,3.60 L0.63,3.95 L0.00,4.05 L-0.62,3.88 L-1.19,3.52 L-1.71,3.05 L-2.19,2.48 L-2.62,1.79 L-2.92,0.95 L-3.01,0.00 L-2.87,-0.93 L-2.57,-1.76 L-2.17,-2.47 L-1.73,-3.08 L-1.22,-3.60 L-0.63,-3.95 L-0.00,-4.05 L0.62,-3.88 L1.19,-3.52 L1.71,-3.05 L2.19,-2.48 L2.62,-1.79 L2.92,-0.95Z" fill="#e6b6dc"/><path transform="translate(-0.03,-0.20)" d="M1.61,0.00 L1.62,0.48 L1.50,0.93 L1.25,1.29 L0.95,1.54 L0.64,1.72 L0.33,1.87 L0.00,1.99 L-0.35,2.00 L-0.69,1.86 L-0.97,1.58 L-1.18,1.22 L-1.34,0.84 L-1.49,0.44 L-1.61,0.00 L-1.64,-0.48 L-1.53,-0.95 L-1.28,-1.32 L-0.96,-1.56 L-0.64,-1.71 L-0.32,-1.84 L-0.00,-1.94 L0.35,-1.97 L0.69,-1.86 L0.98,-1.60 L1.20,-1.24 L1.37,-0.86 L1.51,-0.45Z" fill="#b070c0" opacity="0.72"/></g><rect x="31.5" y="118.35" width="164" height="27" fill="none" stroke="#6db053" stroke-width="1.2"/><line x1="58.50" y1="117.85" x2="58.50" y2="145.85" stroke="#5aa63c" stroke-width="1.1"/><line x1="86.00" y1="117.85" x2="86.00" y2="145.85" stroke="#5aa63c" stroke-width="1.1"/><line x1="113.50" y1="117.85" x2="113.50" y2="145.85" stroke="#5aa63c" stroke-width="1.1"/><line x1="141.00" y1="117.85" x2="141.00" y2="145.85" stroke="#5aa63c" stroke-width="1.1"/><line x1="168.50" y1="117.85" x2="168.50" y2="145.85" stroke="#5aa63c" stroke-width="1.1"/><text x="25.8" y="134.65" text-anchor="end" font-size="7.6" style="stroke-width:0.3px" fill="#111" stroke="#111">4</text><rect x="31" y="148.40" width="165" height="28" fill="#000"/><g transform="translate(44.20,161.83) rotate(-6.4)"><path d="M2.45,0.00 L2.33,0.82 L2.24,1.68 L2.08,2.57 L1.73,3.37 L1.21,3.91 L0.62,4.20 L0.00,4.32 L-0.63,4.31 L-1.28,4.11 L-1.85,3.60 L-2.25,2.78 L-2.43,1.81 L-2.48,0.88 L-2.51,0.00 L-2.56,-0.91 L-2.53,-1.89 L-2.27,-2.82 L-1.78,-3.47 L-1.16,-3.74 L-0.56,-3.78 L-0.00,-3.84 L0.59,-4.00 L1.27,-4.09 L1.96,-3.82 L2.48,-3.07 L2.69,-2.01 L2.62,-0.93Z" fill="#e0a2d2"/><path transform="translate(-0.13,-0.44)" d="M1.36,0.00 L1.41,0.45 L1.45,0.98 L1.37,1.54 L1.10,1.95 L0.72,2.11 L0.33,2.05 L0.00,1.93 L-0.30,1.87 L-0.63,1.83 L-0.95,1.69 L-1.21,1.36 L-1.33,0.90 L-1.34,0.43 L-1.34,0.00 L-1.39,-0.45 L-1.44,-0.98 L-1.36,-1.53 L-1.11,-1.96 L-0.73,-2.13 L-0.33,-2.07 L-0.00,-1.94 L0.30,-1.87 L0.62,-1.82 L0.95,-1.67 L1.20,-1.35 L1.32,-0.90 L1.34,-0.43Z" fill="#9050a8" opacity="0.72"/></g><g transform="translate(72.72,162.55) rotate(7.5)"><path d="M3.14,0.00 L2.84,1.01 L2.55,1.91 L2.30,2.84 L1.96,3.82 L1.43,4.60 L0.72,4.93 L0.00,4.74 L-0.62,4.23 L-1.15,3.70 L-1.66,3.24 L-2.22,2.74 L-2.73,2.04 L-3.08,1.09 L-3.20,0.00 L-3.12,-1.10 L-2.90,-2.17 L-2.55,-3.15 L-2.03,-3.96 L-1.37,-4.40 L-0.65,-4.42 L-0.00,-4.14 L0.56,-3.83 L1.13,-3.65 L1.80,-3.50 L2.51,-3.10 L3.06,-2.28 L3.27,-1.16Z" fill="#e0a2d2"/><path transform="translate(0.10,0.35)" d="M1.70,0.00 L1.64,0.53 L1.47,1.00 L1.25,1.41 L1.00,1.78 L0.72,2.12 L0.38,2.37 L0.00,2.46 L-0.38,2.35 L-0.71,2.08 L-0.98,1.74 L-1.23,1.39 L-1.47,1.00 L-1.67,0.54 L-1.75,0.00 L-1.69,-0.54 L-1.50,-1.02 L-1.25,-1.40 L-0.98,-1.74 L-0.70,-2.05 L-0.37,-2.31 L-0.00,-2.44 L0.38,-2.38 L0.73,-2.14 L1.02,-1.80 L1.26,-1.42 L1.48,-1.00 L1.64,-0.53Z" fill="#9050a8" opacity="0.72"/></g><g transform="translate(99.28,162.80) rotate(3.1)"><path d="M2.75,0.00 L2.53,0.90 L2.36,1.76 L2.21,2.73 L1.93,3.75 L1.41,4.55 L0.72,4.87 L0.00,4.65 L-0.61,4.14 L-1.12,3.62 L-1.64,3.20 L-2.21,2.74 L-2.74,2.04 L-3.06,1.08 L-3.09,0.00 L-2.89,-1.02 L-2.57,-1.92 L-2.20,-2.73 L-1.78,-3.46 L-1.26,-4.05 L-0.64,-4.37 L-0.00,-4.41 L0.63,-4.27 L1.25,-4.03 L1.88,-3.65 L2.44,-3.02 L2.81,-2.10 L2.89,-1.03Z" fill="#e0a2d2"/><path transform="translate(0.00,-0.15)" d="M1.51,0.00 L1.49,0.48 L1.42,0.96 L1.27,1.42 L1.02,1.80 L0.70,2.05 L0.35,2.18 L0.00,2.22 L-0.36,2.21 L-0.72,2.10 L-1.05,1.86 L-1.31,1.48 L-1.46,0.99 L-1.51,0.49 L-1.50,0.00 L-1.47,-0.47 L-1.39,-0.95 L-1.25,-1.41 L-1.02,-1.80 L-0.71,-2.07 L-0.36,-2.21 L-0.00,-2.26 L0.36,-2.23 L0.72,-2.10 L1.04,-1.84 L1.29,-1.45 L1.44,-0.98 L1.50,-0.48Z" fill="#9050a8" opacity="0.72"/></g><g transform="translate(127.53,162.05) rotate(11.4)"><path d="M3.18,0.00 L2.80,0.99 L2.38,1.78 L2.04,2.52 L1.71,3.32 L1.28,4.11 L0.69,4.70 L0.00,4.93 L-0.71,4.80 L-1.37,4.41 L-1.97,3.83 L-2.47,3.06 L-2.83,2.11 L-2.97,1.05 L-2.93,0.00 L-2.77,-0.98 L-2.57,-1.92 L-2.31,-2.86 L-1.92,-3.74 L-1.35,-4.36 L-0.68,-4.61 L-0.00,-4.50 L0.62,-4.24 L1.24,-3.98 L1.90,-3.70 L2.58,-3.19 L3.12,-2.33 L3.33,-1.18Z" fill="#e0a2d2"/><path transform="translate(0.17,-0.79)" d="M1.82,0.00 L1.76,0.57 L1.57,1.07 L1.30,1.46 L0.99,1.75 L0.67,1.97 L0.35,2.15 L0.00,2.28 L-0.37,2.30 L-0.74,2.18 L-1.07,1.90 L-1.32,1.48 L-1.48,1.00 L-1.56,0.50 L-1.60,0.00 L-1.59,-0.51 L-1.53,-1.04 L-1.38,-1.55 L-1.12,-1.98 L-0.77,-2.25 L-0.38,-2.34 L-0.00,-2.27 L0.34,-2.10 L0.65,-1.90 L0.95,-1.67 L1.25,-1.40 L1.53,-1.04 L1.74,-0.56Z" fill="#9050a8" opacity="0.72"/></g><g transform="translate(154.22,162.12) rotate(4.6)"><path d="M2.99,0.00 L2.84,1.01 L2.57,1.92 L2.21,2.74 L1.78,3.47 L1.27,4.10 L0.67,4.57 L0.00,4.82 L-0.70,4.78 L-1.37,4.43 L-1.95,3.79 L-2.38,2.94 L-2.64,1.98 L-2.76,0.98 L-2.77,0.00 L-2.71,-0.96 L-2.57,-1.92 L-2.32,-2.88 L-1.92,-3.73 L-1.36,-4.38 L-0.69,-4.71 L-0.00,-4.73 L0.66,-4.51 L1.28,-4.12 L1.84,-3.59 L2.35,-2.90 L2.74,-2.05 L2.96,-1.05Z" fill="#e0a2d2"/><path transform="translate(0.47,-0.62)" d="M1.58,0.00 L1.82,0.59 L1.81,1.23 L1.52,1.71 L1.09,1.93 L0.68,1.98 L0.33,2.03 L0.00,2.15 L-0.36,2.22 L-0.72,2.11 L-1.01,1.79 L-1.22,1.37 L-1.38,0.94 L-1.56,0.50 L-1.71,0.00 L-1.74,-0.56 L-1.58,-1.07 L-1.27,-1.43 L-0.94,-1.66 L-0.65,-1.91 L-0.36,-2.24 L-0.00,-2.57 L0.43,-2.65 L0.80,-2.35 L1.00,-1.78 L1.05,-1.18 L1.09,-0.74 L1.28,-0.41Z" fill="#9050a8" opacity="0.72"/></g><g transform="translate(182.19,162.12) rotate(10.7)"><path d="M2.72,0.00 L2.57,0.91 L2.33,1.74 L2.04,2.52 L1.67,3.24 L1.19,3.85 L0.62,4.24 L0.00,4.31 L-0.60,4.06 L-1.11,3.57 L-1.53,2.98 L-1.92,2.37 L-2.30,1.72 L-2.67,0.95 L-2.92,0.00 L-2.94,-1.04 L-2.69,-2.01 L-2.22,-2.75 L-1.65,-3.21 L-1.08,-3.47 L-0.53,-3.63 L-0.00,-3.76 L0.56,-3.82 L1.16,-3.73 L1.74,-3.38 L2.24,-2.77 L2.58,-1.93 L2.73,-0.97Z" fill="#e0a2d2"/><path transform="translate(0.38,-0.19)" d="M1.29,0.00 L1.32,0.43 L1.32,0.90 L1.24,1.39 L1.05,1.85 L0.75,2.19 L0.38,2.33 L0.00,2.27 L-0.33,2.05 L-0.60,1.74 L-0.81,1.43 L-1.00,1.12 L-1.18,0.80 L-1.35,0.43 L-1.46,0.00 L-1.48,-0.48 L-1.40,-0.95 L-1.22,-1.37 L-0.97,-1.71 L-0.67,-1.97 L-0.35,-2.14 L-0.00,-2.20 L0.35,-2.14 L0.66,-1.93 L0.91,-1.62 L1.09,-1.22 L1.19,-0.81 L1.25,-0.40Z" fill="#9050a8" opacity="0.72"/></g><rect x="31.5" y="148.90" width="164" height="27" fill="none" stroke="#5fb296" stroke-width="1.2"/><line x1="58.50" y1="148.40" x2="58.50" y2="176.40" stroke="#4aa888" stroke-width="1.1"/><line x1="86.00" y1="148.40" x2="86.00" y2="176.40" stroke="#4aa888" stroke-width="1.1"/><line x1="113.50" y1="148.40" x2="113.50" y2="176.40" stroke="#4aa888" stroke-width="1.1"/><line x1="141.00" y1="148.40" x2="141.00" y2="176.40" stroke="#4aa888" stroke-width="1.1"/><line x1="168.50" y1="148.40" x2="168.50" y2="176.40" stroke="#4aa888" stroke-width="1.1"/><text x="25.8" y="165.20" text-anchor="end" font-size="7.6" style="stroke-width:0.3px" fill="#111" stroke="#111">5</text><rect x="31" y="178.95" width="165" height="28" fill="#000"/><g transform="translate(44.15,192.94) rotate(-4.8)"><path d="M2.66,0.00 L2.52,1.20 L2.20,2.20 L1.82,3.03 L1.45,3.78 L1.04,4.48 L0.54,4.92 L0.00,4.91 L-0.49,4.48 L-0.89,3.85 L-1.26,3.29 L-1.68,2.79 L-2.14,2.15 L-2.52,1.20 L-2.66,0.00 L-2.52,-1.20 L-2.20,-2.20 L-1.82,-3.03 L-1.45,-3.79 L-1.04,-4.48 L-0.54,-4.92 L-0.00,-4.91 L0.49,-4.47 L0.89,-3.85 L1.26,-3.29 L1.68,-2.79 L2.15,-2.15 L2.52,-1.20Z" fill="#da96ca"/><path transform="translate(0.41,-0.73)" d="M1.18,0.00 L1.22,0.53 L1.21,1.10 L1.09,1.64 L0.87,2.06 L0.59,2.31 L0.29,2.42 L0.00,2.44 L-0.29,2.37 L-0.55,2.18 L-0.78,1.86 L-0.96,1.44 L-1.09,0.99 L-1.20,0.52 L-1.29,0.00 L-1.33,-0.57 L-1.26,-1.14 L-1.07,-1.62 L-0.81,-1.93 L-0.54,-2.11 L-0.27,-2.26 L-0.00,-2.39 L0.30,-2.46 L0.60,-2.36 L0.85,-2.03 L1.01,-1.53 L1.09,-0.99 L1.13,-0.49Z" fill="#8a3c9c" opacity="0.72"/></g><g transform="translate(72.85,193.06) rotate(-1.7)"><path d="M2.64,0.00 L2.66,1.27 L2.35,2.35 L1.82,3.02 L1.28,3.34 L0.84,3.62 L0.45,4.07 L0.00,4.54 L-0.52,4.72 L-1.02,4.42 L-1.43,3.74 L-1.76,2.92 L-2.08,2.08 L-2.39,1.14 L-2.60,0.00 L-2.56,-1.22 L-2.23,-2.23 L-1.74,-2.89 L-1.27,-3.31 L-0.87,-3.75 L-0.47,-4.32 L-0.00,-4.80 L0.53,-4.87 L1.02,-4.40 L1.37,-3.59 L1.66,-2.75 L1.97,-1.98 L2.35,-1.12Z" fill="#da96ca"/><path transform="translate(-0.30,-0.53)" d="M1.47,0.00 L1.28,0.55 L1.01,0.92 L0.78,1.18 L0.62,1.47 L0.47,1.86 L0.27,2.25 L0.00,2.49 L-0.30,2.52 L-0.60,2.38 L-0.89,2.11 L-1.14,1.73 L-1.31,1.20 L-1.34,0.58 L-1.22,0.00 L-1.03,-0.44 L-0.87,-0.79 L-0.79,-1.20 L-0.73,-1.74 L-0.59,-2.31 L-0.32,-2.68 L-0.00,-2.68 L0.29,-2.38 L0.51,-2.00 L0.72,-1.72 L0.99,-1.49 L1.28,-1.16 L1.47,-0.64Z" fill="#8a3c9c" opacity="0.72"/></g><g transform="translate(99.91,193.45) rotate(1.2)"><path d="M2.39,0.00 L2.48,1.18 L2.46,2.47 L2.22,3.70 L1.74,4.56 L1.14,4.92 L0.54,4.94 L0.00,4.94 L-0.56,5.07 L-1.19,5.13 L-1.83,4.78 L-2.31,3.84 L-2.50,2.51 L-2.43,1.16 L-2.27,0.00 L-2.16,-1.03 L-2.11,-2.12 L-2.00,-3.33 L-1.71,-4.47 L-1.22,-5.29 L-0.62,-5.68 L-0.00,-5.72 L0.60,-5.51 L1.17,-5.07 L1.66,-4.34 L2.01,-3.34 L2.20,-2.21 L2.30,-1.09Z" fill="#da96ca"/><path transform="translate(-0.26,-0.83)" d="M1.47,0.00 L1.37,0.59 L1.24,1.13 L1.11,1.68 L0.94,2.23 L0.68,2.67 L0.34,2.85 L0.00,2.74 L-0.30,2.49 L-0.57,2.24 L-0.85,2.02 L-1.14,1.72 L-1.37,1.25 L-1.46,0.63 L-1.39,0.00 L-1.27,-0.55 L-1.16,-1.06 L-1.09,-1.64 L-0.96,-2.29 L-0.72,-2.82 L-0.37,-3.04 L-0.00,-2.88 L0.30,-2.50 L0.54,-2.14 L0.79,-1.87 L1.07,-1.61 L1.32,-1.21 L1.47,-0.63Z" fill="#8a3c9c" opacity="0.72"/></g><g transform="translate(127.82,192.66) rotate(-4.8)"><path d="M2.67,0.00 L2.57,1.22 L2.21,2.22 L1.75,2.91 L1.34,3.51 L0.98,4.25 L0.56,5.08 L0.00,5.64 L-0.61,5.58 L-1.13,4.88 L-1.49,3.88 L-1.76,2.92 L-2.06,2.06 L-2.38,1.13 L-2.61,0.00 L-2.57,-1.22 L-2.27,-2.28 L-1.83,-3.04 L-1.40,-3.66 L-1.00,-4.33 L-0.55,-5.03 L-0.00,-5.47 L0.59,-5.37 L1.09,-4.73 L1.47,-3.85 L1.79,-2.98 L2.14,-2.15 L2.48,-1.18Z" fill="#da96ca"/><path transform="translate(-0.00,-0.59)" d="M1.34,0.00 L1.33,0.57 L1.24,1.13 L1.08,1.64 L0.87,2.06 L0.60,2.36 L0.30,2.51 L0.00,2.53 L-0.29,2.44 L-0.57,2.26 L-0.83,1.98 L-1.06,1.61 L-1.24,1.13 L-1.33,0.58 L-1.34,0.00 L-1.29,-0.56 L-1.18,-1.08 L-1.04,-1.57 L-0.85,-2.02 L-0.60,-2.38 L-0.31,-2.60 L-0.00,-2.65 L0.31,-2.53 L0.58,-2.28 L0.82,-1.95 L1.02,-1.54 L1.18,-1.08 L1.29,-0.56Z" fill="#8a3c9c" opacity="0.72"/></g><g transform="translate(154.56,192.46) rotate(-5.8)"><path d="M2.02,0.00 L2.04,0.97 L2.01,2.01 L1.83,3.04 L1.47,3.84 L0.98,4.26 L0.48,4.36 L0.00,4.35 L-0.48,4.35 L-0.99,4.28 L-1.50,3.93 L-1.92,3.19 L-2.15,2.16 L-2.20,1.05 L-2.14,0.00 L-2.04,-0.97 L-1.91,-1.92 L-1.69,-2.81 L-1.36,-3.56 L-0.95,-4.09 L-0.49,-4.43 L-0.00,-4.65 L0.52,-4.73 L1.05,-4.56 L1.53,-4.00 L1.86,-3.09 L2.00,-2.01 L2.02,-0.96Z" fill="#da96ca"/><path transform="translate(-0.15,-0.43)" d="M1.29,0.00 L1.32,0.57 L1.21,1.11 L0.99,1.49 L0.72,1.71 L0.47,1.85 L0.25,2.06 L0.00,2.31 L-0.30,2.46 L-0.60,2.36 L-0.83,1.97 L-0.95,1.43 L-1.00,0.91 L-1.05,0.46 L-1.15,0.00 L-1.22,-0.53 L-1.21,-1.10 L-1.05,-1.59 L-0.81,-1.92 L-0.53,-2.09 L-0.26,-2.19 L-0.00,-2.26 L0.27,-2.25 L0.53,-2.10 L0.75,-1.79 L0.92,-1.39 L1.05,-0.96 L1.18,-0.51Z" fill="#8a3c9c" opacity="0.72"/></g><g transform="translate(182.69,192.61) rotate(-6.0)"><path d="M2.43,0.00 L2.17,1.03 L1.84,1.85 L1.51,2.52 L1.21,3.16 L0.88,3.82 L0.49,4.44 L0.00,4.85 L-0.54,4.89 L-1.05,4.53 L-1.47,3.85 L-1.79,2.98 L-2.02,2.03 L-2.20,1.04 L-2.30,0.00 L-2.30,-1.09 L-2.14,-2.15 L-1.82,-3.02 L-1.38,-3.61 L-0.90,-3.91 L-0.44,-4.02 L-0.00,-4.07 L0.45,-4.14 L0.96,-4.14 L1.50,-3.92 L2.01,-3.34 L2.38,-2.38 L2.52,-1.20Z" fill="#da96ca"/><path transform="translate(-0.56,0.09)" d="M1.18,0.00 L1.05,0.45 L0.98,0.89 L0.94,1.41 L0.82,1.96 L0.60,2.35 L0.30,2.45 L0.00,2.32 L-0.26,2.13 L-0.50,1.99 L-0.77,1.83 L-1.02,1.55 L-1.18,1.08 L-1.21,0.52 L-1.16,0.00 L-1.10,-0.48 L-1.08,-0.98 L-1.02,-1.55 L-0.87,-2.06 L-0.59,-2.33 L-0.28,-2.31 L-0.00,-2.10 L0.23,-1.94 L0.49,-1.91 L0.79,-1.88 L1.10,-1.66 L1.29,-1.17 L1.30,-0.56Z" fill="#8a3c9c" opacity="0.72"/></g><rect x="31.5" y="179.45" width="164" height="27" fill="none" stroke="#5fabd2" stroke-width="1.2"/><line x1="58.50" y1="178.95" x2="58.50" y2="206.95" stroke="#4aa0cc" stroke-width="1.1"/><line x1="86.00" y1="178.95" x2="86.00" y2="206.95" stroke="#4aa0cc" stroke-width="1.1"/><line x1="113.50" y1="178.95" x2="113.50" y2="206.95" stroke="#4aa0cc" stroke-width="1.1"/><line x1="141.00" y1="178.95" x2="141.00" y2="206.95" stroke="#4aa0cc" stroke-width="1.1"/><line x1="168.50" y1="178.95" x2="168.50" y2="206.95" stroke="#4aa0cc" stroke-width="1.1"/><text x="25.8" y="195.75" text-anchor="end" font-size="7.6" style="stroke-width:0.3px" fill="#111" stroke="#111">6</text><rect x="31" y="209.50" width="165" height="28" fill="#000"/><g transform="translate(45.14,223.93) rotate(-6.0)"><path d="M4.05,0.00 L3.90,0.94 L3.54,1.80 L3.03,2.56 L2.38,3.17 L1.61,3.54 L0.79,3.67 L0.00,3.60 L-0.75,3.48 L-1.52,3.34 L-2.34,3.10 L-3.09,2.61 L-3.60,1.83 L-3.74,0.90 L-3.59,0.00 L-3.35,-0.81 L-3.17,-1.62 L-2.97,-2.50 L-2.56,-3.40 L-1.84,-4.04 L-0.91,-4.22 L-0.00,-3.94 L0.74,-3.44 L1.36,-2.98 L1.99,-2.64 L2.71,-2.29 L3.41,-1.74 L3.90,-0.94Z" fill="#e6a6d4"/><path transform="translate(0.18,0.17)" d="M2.13,0.00 L2.11,0.46 L1.87,0.87 L1.47,1.13 L1.06,1.28 L0.73,1.45 L0.41,1.72 L0.00,2.03 L-0.52,2.17 L-1.02,2.04 L-1.38,1.67 L-1.59,1.22 L-1.75,0.81 L-1.97,0.43 L-2.17,0.00 L-2.21,-0.49 L-1.97,-0.91 L-1.53,-1.18 L-1.07,-1.29 L-0.70,-1.40 L-0.38,-1.62 L-0.00,-1.92 L0.50,-2.12 L1.03,-2.05 L1.43,-1.73 L1.68,-1.29 L1.84,-0.85 L2.00,-0.44Z" fill="#a85aa8" opacity="0.72"/></g><g transform="translate(72.42,223.26) rotate(-6.0)"><path d="M3.05,0.00 L3.02,0.73 L2.78,1.42 L2.39,2.02 L1.90,2.52 L1.34,2.95 L0.71,3.28 L0.00,3.43 L-0.71,3.31 L-1.34,2.94 L-1.83,2.43 L-2.25,1.90 L-2.66,1.35 L-3.05,0.74 L-3.29,0.00 L-3.25,-0.79 L-2.91,-1.48 L-2.36,-1.99 L-1.78,-2.36 L-1.23,-2.70 L-0.66,-3.05 L-0.00,-3.34 L0.73,-3.40 L1.43,-3.15 L1.99,-2.64 L2.39,-2.02 L2.68,-1.37 L2.91,-0.70Z" fill="#e6a6d4"/><path transform="translate(-0.13,-0.59)" d="M1.78,0.00 L1.75,0.38 L1.56,0.72 L1.29,0.99 L1.01,1.22 L0.71,1.41 L0.37,1.56 L0.00,1.62 L-0.37,1.58 L-0.73,1.47 L-1.09,1.32 L-1.44,1.11 L-1.73,0.80 L-1.86,0.41 L-1.75,0.00 L-1.49,-0.33 L-1.21,-0.56 L-1.03,-0.79 L-0.92,-1.11 L-0.76,-1.51 L-0.44,-1.86 L-0.00,-2.00 L0.44,-1.85 L0.76,-1.52 L0.97,-1.17 L1.16,-0.89 L1.40,-0.65 L1.64,-0.36Z" fill="#a85aa8" opacity="0.72"/></g><g transform="translate(100.21,223.47) rotate(-6.1)"><path d="M3.21,0.00 L3.03,0.73 L2.72,1.39 L2.36,2.00 L1.96,2.61 L1.44,3.17 L0.76,3.53 L0.00,3.56 L-0.71,3.27 L-1.28,2.82 L-1.79,2.37 L-2.31,1.95 L-2.86,1.46 L-3.30,0.80 L-3.45,0.00 L-3.25,-0.79 L-2.83,-1.44 L-2.33,-1.97 L-1.85,-2.45 L-1.33,-2.93 L-0.72,-3.32 L-0.00,-3.49 L0.73,-3.37 L1.38,-3.03 L1.94,-2.58 L2.45,-2.07 L2.88,-1.47 L3.16,-0.76Z" fill="#e6a6d4"/><path transform="translate(-0.10,-0.54)" d="M1.79,0.00 L1.77,0.39 L1.61,0.74 L1.36,1.04 L1.07,1.29 L0.75,1.50 L0.39,1.65 L0.00,1.71 L-0.39,1.64 L-0.74,1.47 L-1.04,1.26 L-1.33,1.02 L-1.60,0.74 L-1.80,0.40 L-1.86,0.00 L-1.74,-0.38 L-1.51,-0.70 L-1.25,-0.96 L-1.00,-1.20 L-0.73,-1.47 L-0.40,-1.71 L-0.00,-1.83 L0.42,-1.77 L0.78,-1.55 L1.04,-1.26 L1.26,-0.97 L1.48,-0.69 L1.67,-0.37Z" fill="#a85aa8" opacity="0.72"/></g><g transform="translate(127.47,223.14) rotate(5.7)"><path d="M3.80,0.00 L3.71,0.90 L3.33,1.70 L2.74,2.31 L2.06,2.74 L1.40,3.08 L0.73,3.41 L0.00,3.72 L-0.84,3.88 L-1.71,3.75 L-2.46,3.27 L-2.98,2.52 L-3.25,1.66 L-3.34,0.81 L-3.35,0.00 L-3.29,-0.79 L-3.13,-1.59 L-2.80,-2.36 L-2.28,-3.03 L-1.60,-3.52 L-0.82,-3.80 L-0.00,-3.86 L0.80,-3.70 L1.53,-3.36 L2.17,-2.88 L2.74,-2.31 L3.23,-1.65 L3.61,-0.87Z" fill="#e6a6d4"/><path transform="translate(-0.33,0.16)" d="M2.00,0.00 L1.90,0.42 L1.75,0.81 L1.55,1.19 L1.26,1.53 L0.88,1.77 L0.44,1.86 L0.00,1.81 L-0.40,1.70 L-0.80,1.59 L-1.21,1.46 L-1.62,1.24 L-1.94,0.90 L-2.09,0.46 L-2.03,0.00 L-1.86,-0.41 L-1.66,-0.77 L-1.46,-1.12 L-1.22,-1.47 L-0.88,-1.76 L-0.45,-1.91 L-0.00,-1.91 L0.43,-1.80 L0.82,-1.64 L1.20,-1.45 L1.56,-1.20 L1.85,-0.86 L2.00,-0.44Z" fill="#a85aa8" opacity="0.72"/></g><g transform="translate(154.95,224.04) rotate(-2.6)"><path d="M3.19,0.00 L3.14,0.76 L2.85,1.46 L2.41,2.03 L1.88,2.50 L1.31,2.88 L0.69,3.18 L0.00,3.34 L-0.71,3.27 L-1.36,2.98 L-1.91,2.53 L-2.36,1.99 L-2.74,1.40 L-3.04,0.74 L-3.19,0.00 L-3.12,-0.75 L-2.83,-1.44 L-2.39,-2.01 L-1.87,-2.48 L-1.31,-2.88 L-0.69,-3.20 L-0.00,-3.37 L0.71,-3.30 L1.36,-3.00 L1.90,-2.52 L2.34,-1.98 L2.72,-1.39 L3.02,-0.73Z" fill="#e6a6d4"/><path transform="translate(0.48,0.34)" d="M1.56,0.00 L1.71,0.38 L1.70,0.79 L1.46,1.12 L1.08,1.30 L0.69,1.37 L0.34,1.45 L0.00,1.59 L-0.41,1.71 L-0.84,1.68 L-1.18,1.42 L-1.35,1.04 L-1.40,0.65 L-1.45,0.32 L-1.56,0.00 L-1.66,-0.37 L-1.63,-0.76 L-1.40,-1.08 L-1.06,-1.27 L-0.69,-1.39 L-0.36,-1.51 L-0.00,-1.67 L0.42,-1.77 L0.85,-1.69 L1.16,-1.40 L1.30,-1.00 L1.33,-0.62 L1.40,-0.31Z" fill="#a85aa8" opacity="0.72"/></g><g transform="translate(182.55,222.94) rotate(-2.9)"><path d="M3.64,0.00 L3.52,0.85 L3.15,1.61 L2.63,2.22 L2.07,2.74 L1.46,3.21 L0.78,3.60 L0.00,3.82 L-0.81,3.77 L-1.56,3.43 L-2.17,2.88 L-2.65,2.24 L-3.04,1.55 L-3.34,0.81 L-3.51,0.00 L-3.46,-0.84 L-3.19,-1.63 L-2.73,-2.31 L-2.16,-2.87 L-1.51,-3.32 L-0.78,-3.63 L-0.00,-3.74 L0.78,-3.62 L1.49,-3.28 L2.11,-2.80 L2.66,-2.24 L3.13,-1.60 L3.49,-0.84Z" fill="#e6a6d4"/><path transform="translate(0.55,-0.73)" d="M2.14,0.00 L2.08,0.46 L1.85,0.86 L1.53,1.18 L1.20,1.45 L0.84,1.69 L0.44,1.86 L0.00,1.92 L-0.43,1.83 L-0.82,1.64 L-1.15,1.38 L-1.42,1.09 L-1.62,0.75 L-1.74,0.38 L-1.77,0.00 L-1.74,-0.38 L-1.68,-0.78 L-1.58,-1.22 L-1.38,-1.66 L-1.01,-2.01 L-0.51,-2.15 L-0.00,-2.01 L0.40,-1.69 L0.68,-1.35 L0.91,-1.10 L1.22,-0.94 L1.61,-0.74 L1.96,-0.43Z" fill="#a85aa8" opacity="0.72"/></g><rect x="31.5" y="210.00" width="164" height="27" fill="none" stroke="#7b96d2" stroke-width="1.2"/><line x1="58.50" y1="209.50" x2="58.50" y2="237.50" stroke="#6a88cc" stroke-width="1.1"/><line x1="86.00" y1="209.50" x2="86.00" y2="237.50" stroke="#6a88cc" stroke-width="1.1"/><line x1="113.50" y1="209.50" x2="113.50" y2="237.50" stroke="#6a88cc" stroke-width="1.1"/><line x1="141.00" y1="209.50" x2="141.00" y2="237.50" stroke="#6a88cc" stroke-width="1.1"/><line x1="168.50" y1="209.50" x2="168.50" y2="237.50" stroke="#6a88cc" stroke-width="1.1"/><text x="25.8" y="226.30" text-anchor="end" font-size="7.6" style="stroke-width:0.3px" fill="#111" stroke="#111">7</text><rect x="31" y="240.05" width="165" height="28" fill="#000"/><g transform="translate(44.21,254.02) rotate(10.1)"><path d="M4.07,0.00 L4.16,1.08 L3.94,2.16 L3.35,3.05 L2.52,3.60 L1.66,3.92 L0.85,4.22 L0.00,4.60 L-0.97,4.86 L-1.99,4.70 L-2.80,4.01 L-3.25,2.95 L-3.41,1.87 L-3.55,0.92 L-3.82,0.00 L-4.10,-1.07 L-4.08,-2.24 L-3.60,-3.27 L-2.72,-3.89 L-1.74,-4.12 L-0.84,-4.20 L-0.00,-4.34 L0.90,-4.49 L1.86,-4.40 L2.72,-3.89 L3.32,-3.02 L3.66,-2.01 L3.88,-1.01Z" fill="#e4aad4"/><path transform="translate(0.32,-0.84)" d="M2.25,0.00 L2.53,0.60 L2.50,1.25 L2.10,1.73 L1.47,1.91 L0.88,1.88 L0.41,1.87 L0.00,2.02 L-0.50,2.25 L-1.08,2.32 L-1.59,2.07 L-1.90,1.57 L-2.00,1.00 L-2.02,0.48 L-2.09,0.00 L-2.18,-0.51 L-2.14,-1.07 L-1.88,-1.56 L-1.46,-1.90 L-0.98,-2.10 L-0.50,-2.27 L-0.00,-2.41 L0.54,-2.45 L1.05,-2.25 L1.40,-1.82 L1.58,-1.31 L1.70,-0.85 L1.91,-0.45Z" fill="#a060b0" opacity="0.72"/></g><g transform="translate(72.06,253.78) rotate(2.8)"><path d="M5.14,0.00 L4.77,1.24 L4.10,2.25 L3.41,3.09 L2.76,3.94 L2.03,4.80 L1.09,5.43 L0.00,5.57 L-1.04,5.19 L-1.91,4.52 L-2.69,3.84 L-3.52,3.20 L-4.37,2.40 L-5.00,1.30 L-5.14,0.00 L-4.77,-1.24 L-4.10,-2.25 L-3.40,-3.09 L-2.76,-3.94 L-2.03,-4.79 L-1.09,-5.42 L-0.00,-5.57 L1.04,-5.19 L1.91,-4.52 L2.69,-3.85 L3.52,-3.20 L4.37,-2.40 L4.99,-1.30Z" fill="#e4aad4"/><path transform="translate(0.50,-0.01)" d="M2.87,0.00 L2.94,0.70 L2.63,1.31 L2.11,1.74 L1.58,2.05 L1.09,2.35 L0.58,2.61 L0.00,2.73 L-0.57,2.60 L-1.06,2.28 L-1.48,1.92 L-1.91,1.58 L-2.36,1.18 L-2.71,0.64 L-2.78,0.00 L-2.52,-0.60 L-2.09,-1.04 L-1.73,-1.43 L-1.47,-1.91 L-1.19,-2.55 L-0.69,-3.13 L-0.00,-3.33 L0.66,-3.00 L1.08,-2.32 L1.27,-1.65 L1.46,-1.21 L1.86,-0.93 L2.42,-0.57Z" fill="#a060b0" opacity="0.72"/></g><g transform="translate(99.61,253.75) rotate(-0.2)"><path d="M4.06,0.00 L4.30,1.12 L4.24,2.32 L3.71,3.37 L2.81,4.01 L1.79,4.23 L0.86,4.28 L0.00,4.42 L-0.93,4.63 L-1.95,4.62 L-2.88,4.11 L-3.43,3.11 L-3.53,1.94 L-3.43,0.89 L-3.43,0.00 L-3.65,-0.95 L-3.86,-2.12 L-3.72,-3.38 L-3.08,-4.41 L-2.08,-4.93 L-0.99,-4.96 L-0.00,-4.74 L0.89,-4.44 L1.72,-4.06 L2.45,-3.50 L3.02,-2.74 L3.41,-1.87 L3.74,-0.97Z" fill="#e4aad4"/><path transform="translate(0.13,-0.44)" d="M2.16,0.00 L2.18,0.52 L2.14,1.07 L1.92,1.58 L1.50,1.95 L0.98,2.11 L0.47,2.15 L0.00,2.19 L-0.50,2.27 L-1.06,2.27 L-1.58,2.05 L-1.93,1.60 L-2.06,1.03 L-2.06,0.49 L-2.08,0.00 L-2.16,-0.51 L-2.18,-1.09 L-2.00,-1.65 L-1.57,-2.03 L-1.01,-2.17 L-0.47,-2.14 L-0.00,-2.12 L0.48,-2.16 L1.01,-2.18 L1.55,-2.02 L1.95,-1.61 L2.14,-1.07 L2.17,-0.51Z" fill="#a060b0" opacity="0.72"/></g><g transform="translate(126.95,253.53) rotate(1.3)"><path d="M4.12,0.00 L4.00,1.04 L3.62,1.98 L3.01,2.73 L2.27,3.24 L1.49,3.54 L0.74,3.71 L0.00,3.83 L-0.78,3.90 L-1.62,3.83 L-2.48,3.54 L-3.25,2.95 L-3.82,2.10 L-4.13,1.07 L-4.14,0.00 L-3.90,-1.01 L-3.44,-1.89 L-2.86,-2.60 L-2.20,-3.14 L-1.50,-3.56 L-0.77,-3.86 L-0.00,-4.06 L0.82,-4.09 L1.65,-3.91 L2.44,-3.48 L3.11,-2.83 L3.64,-2.00 L3.99,-1.04Z" fill="#e4aad4"/><path transform="translate(-0.48,-0.20)" d="M2.22,0.00 L2.01,0.48 L1.68,0.84 L1.37,1.13 L1.14,1.48 L0.90,1.93 L0.52,2.38 L0.00,2.61 L-0.55,2.49 L-0.97,2.10 L-1.24,1.61 L-1.43,1.18 L-1.66,0.83 L-1.93,0.46 L-2.11,0.00 L-2.11,-0.50 L-1.92,-0.96 L-1.61,-1.33 L-1.28,-1.66 L-0.91,-1.96 L-0.49,-2.21 L-0.00,-2.30 L0.48,-2.19 L0.90,-1.94 L1.26,-1.64 L1.61,-1.33 L1.94,-0.97 L2.19,-0.52Z" fill="#a060b0" opacity="0.72"/></g><g transform="translate(155.05,254.47) rotate(-9.1)"><path d="M4.55,0.00 L4.32,1.12 L3.88,2.13 L3.32,3.02 L2.67,3.81 L1.90,4.49 L1.00,4.99 L0.00,5.25 L-1.04,5.20 L-2.03,4.81 L-2.87,4.10 L-3.45,3.14 L-3.77,2.07 L-3.89,1.01 L-3.92,0.00 L-3.95,-1.03 L-3.91,-2.15 L-3.66,-3.33 L-3.07,-4.38 L-2.14,-5.07 L-1.06,-5.27 L-0.00,-5.05 L0.92,-4.61 L1.75,-4.14 L2.56,-3.66 L3.37,-3.06 L4.05,-2.22 L4.47,-1.16Z" fill="#e4aad4"/><path transform="translate(-0.30,-0.56)" d="M2.29,0.00 L2.17,0.51 L2.13,1.06 L2.05,1.69 L1.75,2.27 L1.20,2.57 L0.55,2.50 L0.00,2.20 L-0.43,1.95 L-0.88,1.89 L-1.46,1.89 L-2.09,1.72 L-2.53,1.26 L-2.63,0.62 L-2.45,0.00 L-2.19,-0.52 L-2.01,-1.00 L-1.88,-1.55 L-1.61,-2.10 L-1.15,-2.47 L-0.56,-2.54 L-0.00,-2.38 L0.48,-2.19 L0.96,-2.06 L1.50,-1.94 L2.02,-1.67 L2.35,-1.17 L2.41,-0.57Z" fill="#a060b0" opacity="0.72"/></g><g transform="translate(182.26,253.73) rotate(3.7)"><path d="M4.82,0.00 L4.66,1.21 L4.29,2.35 L3.79,3.44 L3.09,4.42 L2.15,5.08 L1.05,5.23 L0.00,4.94 L-0.90,4.48 L-1.74,4.12 L-2.68,3.82 L-3.65,3.32 L-4.39,2.41 L-4.62,1.20 L-4.36,0.00 L-3.94,-1.02 L-3.66,-2.01 L-3.51,-3.19 L-3.19,-4.55 L-2.40,-5.68 L-1.22,-6.08 L-0.00,-5.63 L0.94,-4.69 L1.61,-3.80 L2.25,-3.22 L3.07,-2.79 L3.95,-2.17 L4.60,-1.20Z" fill="#e4aad4"/><path transform="translate(-0.55,-0.49)" d="M2.86,0.00 L2.93,0.69 L2.65,1.32 L2.11,1.74 L1.48,1.93 L0.93,2.01 L0.47,2.13 L0.00,2.34 L-0.55,2.52 L-1.16,2.49 L-1.68,2.18 L-2.02,1.67 L-2.18,1.09 L-2.26,0.53 L-2.34,0.00 L-2.41,-0.57 L-2.37,-1.18 L-2.14,-1.77 L-1.72,-2.23 L-1.17,-2.52 L-0.58,-2.62 L-0.00,-2.56 L0.52,-2.36 L0.96,-2.06 L1.33,-1.73 L1.69,-1.40 L2.10,-1.05 L2.53,-0.60Z" fill="#a060b0" opacity="0.72"/></g><rect x="31.5" y="240.55" width="164" height="27" fill="none" stroke="#ad76c7" stroke-width="1.2"/><line x1="58.50" y1="240.05" x2="58.50" y2="268.05" stroke="#a264c0" stroke-width="1.1"/><line x1="86.00" y1="240.05" x2="86.00" y2="268.05" stroke="#a264c0" stroke-width="1.1"/><line x1="113.50" y1="240.05" x2="113.50" y2="268.05" stroke="#a264c0" stroke-width="1.1"/><line x1="141.00" y1="240.05" x2="141.00" y2="268.05" stroke="#a264c0" stroke-width="1.1"/><line x1="168.50" y1="240.05" x2="168.50" y2="268.05" stroke="#a264c0" stroke-width="1.1"/><text x="25.8" y="256.85" text-anchor="end" font-size="7.6" style="stroke-width:0.3px" fill="#111" stroke="#111">8</text><rect x="31" y="270.60" width="165" height="28" fill="#000"/><g transform="translate(45.19,284.54) rotate(6.7)"><path d="M4.51,0.00 L4.57,1.45 L4.54,3.04 L4.24,4.71 L3.51,6.13 L2.39,6.91 L1.13,6.92 L0.00,6.43 L-0.96,5.86 L-1.87,5.42 L-2.82,4.92 L-3.67,4.08 L-4.21,2.83 L-4.35,1.38 L-4.25,0.00 L-4.18,-1.33 L-4.20,-2.82 L-4.10,-4.55 L-3.57,-6.22 L-2.53,-7.31 L-1.23,-7.48 L-0.00,-6.88 L0.98,-5.99 L1.80,-5.19 L2.59,-4.51 L3.36,-3.73 L3.98,-2.67 L4.35,-1.38Z" fill="#e2a6d2"/><path transform="translate(-0.43,-0.61)" d="M2.61,0.00 L2.52,0.73 L2.36,1.44 L2.10,2.12 L1.69,2.69 L1.16,3.04 L0.57,3.17 L0.00,3.14 L-0.55,3.05 L-1.11,2.91 L-1.66,2.63 L-2.14,2.16 L-2.47,1.51 L-2.61,0.76 L-2.61,0.00 L-2.53,-0.73 L-2.37,-1.44 L-2.11,-2.12 L-1.69,-2.69 L-1.15,-3.04 L-0.57,-3.16 L-0.00,-3.14 L0.55,-3.05 L1.11,-2.91 L1.66,-2.64 L2.15,-2.17 L2.48,-1.51 L2.61,-0.76Z" fill="#9a58ac" opacity="0.72"/></g><g transform="translate(72.46,284.22) rotate(-7.1)"><path d="M4.84,0.00 L4.84,1.54 L4.37,2.93 L3.59,3.99 L2.76,4.82 L1.99,5.75 L1.12,6.83 L0.00,7.66 L-1.25,7.65 L-2.29,6.62 L-2.87,5.01 L-3.14,3.48 L-3.52,2.36 L-4.24,1.35 L-5.06,0.00 L-5.45,-1.73 L-5.06,-3.39 L-4.03,-4.47 L-2.83,-4.95 L-1.82,-5.27 L-0.96,-5.87 L-0.00,-6.64 L1.16,-7.07 L2.32,-6.69 L3.19,-5.57 L3.73,-4.14 L4.11,-2.76 L4.51,-1.43Z" fill="#e2a6d2"/><path transform="translate(0.17,-0.77)" d="M2.81,0.00 L2.50,0.72 L2.17,1.32 L1.94,1.95 L1.70,2.69 L1.28,3.38 L0.67,3.70 L0.00,3.52 L-0.54,3.01 L-0.96,2.52 L-1.40,2.22 L-1.98,1.99 L-2.59,1.58 L-2.99,0.86 L-2.99,0.00 L-2.68,-0.77 L-2.26,-1.38 L-1.92,-1.94 L-1.61,-2.56 L-1.20,-3.15 L-0.63,-3.49 L-0.00,-3.43 L0.56,-3.09 L1.03,-2.71 L1.52,-2.41 L2.08,-2.10 L2.61,-1.59 L2.89,-0.83Z" fill="#9a58ac" opacity="0.72"/></g><g transform="translate(99.52,284.68) rotate(-2.0)"><path d="M4.88,0.00 L5.10,1.62 L4.89,3.28 L4.25,4.72 L3.30,5.76 L2.18,6.31 L1.05,6.41 L0.00,6.23 L-0.98,5.96 L-1.97,5.70 L-3.05,5.33 L-4.13,4.59 L-4.95,3.32 L-5.22,1.66 L-4.91,0.00 L-4.26,-1.36 L-3.65,-2.44 L-3.24,-3.59 L-2.89,-5.05 L-2.31,-6.66 L-1.29,-7.89 L-0.00,-8.21 L1.23,-7.50 L2.12,-6.14 L2.69,-4.69 L3.14,-3.49 L3.69,-2.47 L4.33,-1.38Z" fill="#e2a6d2"/><path transform="translate(-0.59,0.36)" d="M2.72,0.00 L2.55,0.74 L2.30,1.40 L1.99,2.01 L1.59,2.53 L1.11,2.92 L0.57,3.14 L0.00,3.19 L-0.56,3.12 L-1.13,2.98 L-1.73,2.74 L-2.31,2.33 L-2.79,1.70 L-3.04,0.88 L-2.98,0.00 L-2.68,-0.77 L-2.25,-1.37 L-1.81,-1.82 L-1.41,-2.23 L-1.01,-2.65 L-0.55,-3.06 L-0.00,-3.35 L0.62,-3.45 L1.26,-3.31 L1.84,-2.92 L2.31,-2.33 L2.62,-1.60 L2.75,-0.80Z" fill="#9a58ac" opacity="0.72"/></g><g transform="translate(126.67,284.66) rotate(9.8)"><path d="M5.59,0.00 L5.34,1.70 L4.82,3.23 L4.20,4.66 L3.44,6.01 L2.46,7.10 L1.24,7.59 L0.00,7.31 L-1.06,6.46 L-1.89,5.47 L-2.67,4.67 L-3.58,3.98 L-4.59,3.08 L-5.43,1.73 L-5.81,0.00 L-5.63,-1.79 L-5.06,-3.39 L-4.28,-4.75 L-3.38,-5.91 L-2.34,-6.78 L-1.18,-7.18 L-0.00,-7.01 L1.05,-6.40 L1.96,-5.67 L2.85,-4.98 L3.81,-4.23 L4.74,-3.18 L5.40,-1.72Z" fill="#e2a6d2"/><path transform="translate(0.03,0.40)" d="M3.04,0.00 L3.03,0.88 L2.84,1.73 L2.46,2.48 L1.91,3.03 L1.28,3.35 L0.62,3.45 L0.00,3.39 L-0.58,3.21 L-1.12,2.93 L-1.61,2.56 L-2.06,2.08 L-2.45,1.49 L-2.79,0.81 L-3.03,0.00 L-3.11,-0.90 L-2.96,-1.80 L-2.55,-2.58 L-1.95,-3.10 L-1.27,-3.33 L-0.60,-3.33 L-0.00,-3.22 L0.55,-3.08 L1.10,-2.89 L1.64,-2.61 L2.15,-2.17 L2.57,-1.57 L2.88,-0.83Z" fill="#9a58ac" opacity="0.72"/></g><g transform="translate(155.28,285.17) rotate(-10.7)"><path d="M5.20,0.00 L4.96,1.58 L4.45,2.99 L3.79,4.21 L3.06,5.34 L2.23,6.46 L1.23,7.49 L0.00,8.14 L-1.32,8.03 L-2.42,7.00 L-3.05,5.33 L-3.22,3.57 L-3.22,2.16 L-3.47,1.10 L-4.12,0.00 L-4.91,-1.56 L-5.35,-3.59 L-5.04,-5.60 L-4.00,-6.99 L-2.57,-7.42 L-1.16,-7.06 L-0.00,-6.39 L0.95,-5.78 L1.85,-5.34 L2.79,-4.87 L3.74,-4.15 L4.55,-3.05 L5.06,-1.61Z" fill="#e2a6d2"/><path transform="translate(0.34,-0.59)" d="M2.62,0.00 L2.66,0.77 L2.58,1.57 L2.28,2.30 L1.78,2.83 L1.18,3.10 L0.58,3.20 L0.00,3.26 L-0.59,3.29 L-1.22,3.20 L-1.81,2.87 L-2.28,2.30 L-2.56,1.56 L-2.70,0.78 L-2.74,0.00 L-2.70,-0.78 L-2.53,-1.54 L-2.19,-2.21 L-1.69,-2.69 L-1.14,-2.99 L-0.58,-3.19 L-0.00,-3.36 L0.62,-3.46 L1.28,-3.35 L1.86,-2.94 L2.26,-2.28 L2.47,-1.50 L2.56,-0.74Z" fill="#9a58ac" opacity="0.72"/></g><g transform="translate(182.27,284.46) rotate(-6.1)"><path d="M3.70,0.00 L4.07,1.29 L4.26,2.85 L4.01,4.45 L3.28,5.73 L2.23,6.44 L1.08,6.59 L0.00,6.39 L-0.99,6.05 L-1.95,5.65 L-2.92,5.10 L-3.82,4.24 L-4.48,3.00 L-4.74,1.50 L-4.54,0.00 L-4.04,-1.28 L-3.44,-2.31 L-2.93,-3.26 L-2.50,-4.37 L-1.98,-5.72 L-1.16,-7.06 L-0.00,-7.95 L1.30,-7.95 L2.42,-7.00 L3.10,-5.41 L3.32,-3.69 L3.33,-2.23 L3.41,-1.08Z" fill="#e2a6d2"/><path transform="translate(0.41,-0.74)" d="M2.32,0.00 L2.12,0.61 L2.01,1.22 L1.90,1.91 L1.64,2.61 L1.19,3.12 L0.60,3.33 L0.00,3.28 L-0.56,3.11 L-1.10,2.89 L-1.62,2.58 L-2.07,2.09 L-2.35,1.43 L-2.44,0.70 L-2.40,0.00 L-2.33,-0.67 L-2.24,-1.36 L-2.04,-2.06 L-1.66,-2.64 L-1.13,-2.97 L-0.55,-3.03 L-0.00,-2.97 L0.53,-2.94 L1.11,-2.91 L1.73,-2.75 L2.27,-2.29 L2.55,-1.55 L2.53,-0.73Z" fill="#9a58ac" opacity="0.72"/></g><rect x="31.5" y="271.10" width="164" height="27" fill="none" stroke="#d97ac0" stroke-width="1.2"/><line x1="58.50" y1="270.60" x2="58.50" y2="298.60" stroke="#d468b8" stroke-width="1.1"/><line x1="86.00" y1="270.60" x2="86.00" y2="298.60" stroke="#d468b8" stroke-width="1.1"/><line x1="113.50" y1="270.60" x2="113.50" y2="298.60" stroke="#d468b8" stroke-width="1.1"/><line x1="141.00" y1="270.60" x2="141.00" y2="298.60" stroke="#d468b8" stroke-width="1.1"/><line x1="168.50" y1="270.60" x2="168.50" y2="298.60" stroke="#d468b8" stroke-width="1.1"/><text x="25.8" y="287.40" text-anchor="end" font-size="7.6" style="stroke-width:0.3px" fill="#111" stroke="#111">9</text>
<g transform="translate(0,0)"><polygon points="214.0,112.0 226.0,102.0 236.0,93.0 243.0,86.0 255.0,73.0 262.0,67.0 270.0,58.0 278.0,50.0 289.0,41.0 299.0,33.0 312.0,22.0 322.0,13.5 329.0,12.0 335.0,9.5 339.0,8.5 342.5,9.5 343.8,20.0 342.5,28.0 338.0,31.0 332.0,34.5 321.5,44.0 314.0,49.0 307.0,54.0 299.0,57.5 292.0,63.0 284.0,69.5 274.0,79.5 262.0,91.0 248.0,103.0 232.5,115.0 219.0,124.0" fill="#fdf6fc"/><clipPath id="cp0"><polygon points="214.0,112.0 226.0,102.0 236.0,93.0 243.0,86.0 255.0,73.0 262.0,67.0 270.0,58.0 278.0,50.0 289.0,41.0 299.0,33.0 312.0,22.0 322.0,13.5 329.0,12.0 335.0,9.5 339.0,8.5 342.5,9.5 343.8,20.0 342.5,28.0 338.0,31.0 332.0,34.5 321.5,44.0 314.0,49.0 307.0,54.0 299.0,57.5 292.0,63.0 284.0,69.5 274.0,79.5 262.0,91.0 248.0,103.0 232.5,115.0 219.0,124.0"/></clipPath><g fill="#ecb4e8" opacity="0.62" clip-path="url(#cp0)"><ellipse cx="270.9" cy="74.0" rx="4.5" ry="0.44" transform="rotate(-86 270.9 74.0)"/><ellipse cx="273.0" cy="70.8" rx="1.8" ry="0.34" transform="rotate(62 273.0 70.8)"/><ellipse cx="267.1" cy="64.1" rx="1.9" ry="0.58" transform="rotate(-83 267.1 64.1)"/><ellipse cx="257.9" cy="87.8" rx="4.4" ry="0.34" transform="rotate(71 257.9 87.8)"/><ellipse cx="329.4" cy="36.1" rx="2.4" ry="0.54" transform="rotate(61 329.4 36.1)"/><ellipse cx="318.8" cy="36.5" rx="3.8" ry="0.35" transform="rotate(60 318.8 36.5)"/><ellipse cx="328.5" cy="18.4" rx="2.1" ry="0.38" transform="rotate(27 328.5 18.4)"/><ellipse cx="277.6" cy="58.7" rx="3.5" ry="0.57" transform="rotate(29 277.6 58.7)"/><ellipse cx="240.3" cy="104.6" rx="4.4" ry="0.44" transform="rotate(47 240.3 104.6)"/><ellipse cx="282.3" cy="63.2" rx="3.7" ry="0.41" transform="rotate(33 282.3 63.2)"/><ellipse cx="262.8" cy="75.1" rx="2.0" ry="0.52" transform="rotate(-51 262.8 75.1)"/><ellipse cx="224.6" cy="117.1" rx="4.3" ry="0.57" transform="rotate(87 224.6 117.1)"/><ellipse cx="311.1" cy="43.8" rx="3.0" ry="0.57" transform="rotate(35 311.1 43.8)"/><ellipse cx="232.3" cy="100.9" rx="2.4" ry="0.46" transform="rotate(21 232.3 100.9)"/><ellipse cx="281.7" cy="57.1" rx="2.0" ry="0.30" transform="rotate(27 281.7 57.1)"/><ellipse cx="319.9" cy="36.3" rx="3.8" ry="0.42" transform="rotate(-64 319.9 36.3)"/><ellipse cx="246.9" cy="82.5" rx="3.2" ry="0.48" transform="rotate(-27 246.9 82.5)"/><ellipse cx="280.3" cy="60.3" rx="2.7" ry="0.37" transform="rotate(-50 280.3 60.3)"/><ellipse cx="225.7" cy="115.6" rx="2.7" ry="0.46" transform="rotate(-55 225.7 115.6)"/><ellipse cx="297.8" cy="50.1" rx="2.4" ry="0.31" transform="rotate(-43 297.8 50.1)"/><ellipse cx="331.8" cy="28.7" rx="4.2" ry="0.32" transform="rotate(62 331.8 28.7)"/><ellipse cx="295.7" cy="40.5" rx="2.5" ry="0.52" transform="rotate(-25 295.7 40.5)"/><ellipse cx="307.0" cy="49.5" rx="3.6" ry="0.58" transform="rotate(33 307.0 49.5)"/><ellipse cx="339.5" cy="13.6" rx="1.5" ry="0.38" transform="rotate(-75 339.5 13.6)"/><ellipse cx="248.6" cy="96.8" rx="2.5" ry="0.37" transform="rotate(57 248.6 96.8)"/><ellipse cx="333.2" cy="24.5" rx="2.9" ry="0.46" transform="rotate(53 333.2 24.5)"/><ellipse cx="215.1" cy="111.9" rx="2.7" ry="0.48" transform="rotate(-26 215.1 111.9)"/><ellipse cx="283.9" cy="49.7" rx="2.5" ry="0.34" transform="rotate(-54 283.9 49.7)"/><ellipse cx="218.0" cy="109.7" rx="1.6" ry="0.56" transform="rotate(35 218.0 109.7)"/><ellipse cx="309.9" cy="30.0" rx="4.3" ry="0.33" transform="rotate(30 309.9 30.0)"/><ellipse cx="240.7" cy="91.1" rx="1.8" ry="0.53" transform="rotate(56 240.7 91.1)"/><ellipse cx="295.0" cy="48.0" rx="2.5" ry="0.43" transform="rotate(60 295.0 48.0)"/><ellipse cx="218.1" cy="113.0" rx="3.8" ry="0.48" transform="rotate(56 218.1 113.0)"/><ellipse cx="273.8" cy="61.8" rx="3.8" ry="0.40" transform="rotate(-84 273.8 61.8)"/><ellipse cx="305.5" cy="42.6" rx="2.0" ry="0.30" transform="rotate(63 305.5 42.6)"/><ellipse cx="244.4" cy="100.8" rx="3.6" ry="0.55" transform="rotate(20 244.4 100.8)"/><ellipse cx="340.6" cy="18.6" rx="2.4" ry="0.36" transform="rotate(-26 340.6 18.6)"/><ellipse cx="304.5" cy="42.3" rx="3.2" ry="0.33" transform="rotate(-75 304.5 42.3)"/><ellipse cx="254.6" cy="76.2" rx="4.2" ry="0.31" transform="rotate(65 254.6 76.2)"/><ellipse cx="241.7" cy="93.2" rx="2.2" ry="0.44" transform="rotate(-22 241.7 93.2)"/><ellipse cx="284.1" cy="63.2" rx="3.1" ry="0.56" transform="rotate(52 284.1 63.2)"/><ellipse cx="272.9" cy="69.3" rx="3.2" ry="0.34" transform="rotate(43 272.9 69.3)"/><ellipse cx="276.8" cy="73.4" rx="4.0" ry="0.49" transform="rotate(-36 276.8 73.4)"/><ellipse cx="311.9" cy="49.3" rx="2.5" ry="0.36" transform="rotate(-33 311.9 49.3)"/><ellipse cx="341.8" cy="19.7" rx="2.0" ry="0.34" transform="rotate(68 341.8 19.7)"/><ellipse cx="253.3" cy="82.4" rx="2.1" ry="0.42" transform="rotate(25 253.3 82.4)"/><ellipse cx="220.5" cy="113.4" rx="2.4" ry="0.31" transform="rotate(0 220.5 113.4)"/><ellipse cx="251.1" cy="94.4" rx="3.2" ry="0.52" transform="rotate(64 251.1 94.4)"/><ellipse cx="267.1" cy="67.5" rx="3.3" ry="0.37" transform="rotate(49 267.1 67.5)"/><ellipse cx="237.9" cy="94.0" rx="2.2" ry="0.42" transform="rotate(33 237.9 94.0)"/><ellipse cx="303.1" cy="34.3" rx="3.1" ry="0.50" transform="rotate(44 303.1 34.3)"/><ellipse cx="330.5" cy="32.3" rx="1.6" ry="0.46" transform="rotate(-45 330.5 32.3)"/><ellipse cx="239.3" cy="105.4" rx="2.9" ry="0.36" transform="rotate(-72 239.3 105.4)"/><ellipse cx="271.6" cy="57.3" rx="4.3" ry="0.36" transform="rotate(-28 271.6 57.3)"/><ellipse cx="301.5" cy="41.8" rx="3.4" ry="0.38" transform="rotate(26 301.5 41.8)"/><ellipse cx="261.2" cy="69.5" rx="2.6" ry="0.38" transform="rotate(23 261.2 69.5)"/><ellipse cx="247.1" cy="98.1" rx="2.9" ry="0.35" transform="rotate(46 247.1 98.1)"/><ellipse cx="331.9" cy="12.7" rx="2.2" ry="0.59" transform="rotate(26 331.9 12.7)"/><ellipse cx="262.0" cy="82.0" rx="3.8" ry="0.49" transform="rotate(61 262.0 82.0)"/><ellipse cx="314.8" cy="33.6" rx="2.3" ry="0.43" transform="rotate(37 314.8 33.6)"/><ellipse cx="237.6" cy="91.8" rx="2.5" ry="0.45" transform="rotate(34 237.6 91.8)"/><ellipse cx="290.7" cy="42.1" rx="1.7" ry="0.55" transform="rotate(28 290.7 42.1)"/><ellipse cx="334.2" cy="27.6" rx="3.5" ry="0.36" transform="rotate(-51 334.2 27.6)"/><ellipse cx="225.0" cy="108.2" rx="3.8" ry="0.40" transform="rotate(-37 225.0 108.2)"/><ellipse cx="238.9" cy="107.9" rx="4.4" ry="0.33" transform="rotate(70 238.9 107.9)"/><ellipse cx="331.6" cy="23.4" rx="3.1" ry="0.52" transform="rotate(-36 331.6 23.4)"/><ellipse cx="274.1" cy="76.1" rx="2.9" ry="0.47" transform="rotate(-38 274.1 76.1)"/><ellipse cx="279.6" cy="71.1" rx="4.1" ry="0.30" transform="rotate(-60 279.6 71.1)"/><ellipse cx="322.5" cy="27.0" rx="2.8" ry="0.60" transform="rotate(53 322.5 27.0)"/><ellipse cx="298.5" cy="38.6" rx="3.5" ry="0.58" transform="rotate(-44 298.5 38.6)"/><ellipse cx="261.9" cy="90.1" rx="2.1" ry="0.42" transform="rotate(-40 261.9 90.1)"/><ellipse cx="230.9" cy="99.7" rx="3.8" ry="0.36" transform="rotate(50 230.9 99.7)"/><ellipse cx="270.1" cy="68.9" rx="2.7" ry="0.45" transform="rotate(61 270.1 68.9)"/><ellipse cx="251.2" cy="89.2" rx="2.1" ry="0.51" transform="rotate(53 251.2 89.2)"/><ellipse cx="236.1" cy="111.4" rx="4.2" ry="0.46" transform="rotate(-18 236.1 111.4)"/><ellipse cx="222.1" cy="110.6" rx="3.8" ry="0.32" transform="rotate(76 222.1 110.6)"/><ellipse cx="278.7" cy="63.1" rx="3.3" ry="0.50" transform="rotate(31 278.7 63.1)"/><ellipse cx="245.1" cy="98.3" rx="4.1" ry="0.43" transform="rotate(-41 245.1 98.3)"/><ellipse cx="232.3" cy="113.6" rx="3.2" ry="0.38" transform="rotate(64 232.3 113.6)"/><ellipse cx="254.2" cy="84.4" rx="3.0" ry="0.46" transform="rotate(-45 254.2 84.4)"/><ellipse cx="323.4" cy="35.1" rx="1.5" ry="0.42" transform="rotate(-42 323.4 35.1)"/><ellipse cx="293.3" cy="60.1" rx="1.7" ry="0.44" transform="rotate(-26 293.3 60.1)"/><ellipse cx="331.4" cy="25.2" rx="2.2" ry="0.34" transform="rotate(-42 331.4 25.2)"/><ellipse cx="273.3" cy="62.0" rx="2.6" ry="0.52" transform="rotate(-38 273.3 62.0)"/><ellipse cx="300.7" cy="36.0" rx="2.9" ry="0.58" transform="rotate(35 300.7 36.0)"/><ellipse cx="252.3" cy="98.2" rx="3.6" ry="0.49" transform="rotate(-87 252.3 98.2)"/><ellipse cx="264.0" cy="72.7" rx="1.7" ry="0.41" transform="rotate(60 264.0 72.7)"/><ellipse cx="287.2" cy="53.3" rx="4.4" ry="0.35" transform="rotate(27 287.2 53.3)"/><ellipse cx="317.7" cy="31.5" rx="2.5" ry="0.38" transform="rotate(-41 317.7 31.5)"/><ellipse cx="294.9" cy="52.0" rx="4.4" ry="0.55" transform="rotate(67 294.9 52.0)"/><ellipse cx="289.6" cy="48.3" rx="2.6" ry="0.53" transform="rotate(-22 289.6 48.3)"/><ellipse cx="246.4" cy="92.7" rx="3.3" ry="0.54" transform="rotate(-34 246.4 92.7)"/><ellipse cx="325.0" cy="14.2" rx="1.9" ry="0.59" transform="rotate(66 325.0 14.2)"/><ellipse cx="317.8" cy="33.4" rx="3.2" ry="0.54" transform="rotate(6 317.8 33.4)"/><ellipse cx="244.1" cy="100.8" rx="2.7" ry="0.51" transform="rotate(19 244.1 100.8)"/><ellipse cx="335.6" cy="22.4" rx="3.9" ry="0.53" transform="rotate(7 335.6 22.4)"/><ellipse cx="247.1" cy="94.8" rx="3.0" ry="0.36" transform="rotate(64 247.1 94.8)"/><ellipse cx="241.4" cy="90.0" rx="2.7" ry="0.46" transform="rotate(34 241.4 90.0)"/><ellipse cx="233.4" cy="96.6" rx="2.9" ry="0.32" transform="rotate(-71 233.4 96.6)"/><ellipse cx="252.9" cy="76.5" rx="4.5" ry="0.56" transform="rotate(-47 252.9 76.5)"/><ellipse cx="277.2" cy="65.2" rx="3.8" ry="0.55" transform="rotate(59 277.2 65.2)"/><ellipse cx="338.2" cy="13.6" rx="1.6" ry="0.31" transform="rotate(-54 338.2 13.6)"/><ellipse cx="264.5" cy="81.2" rx="3.4" ry="0.58" transform="rotate(71 264.5 81.2)"/><ellipse cx="301.7" cy="33.7" rx="3.0" ry="0.35" transform="rotate(-74 301.7 33.7)"/><ellipse cx="322.7" cy="24.0" rx="4.3" ry="0.32" transform="rotate(56 322.7 24.0)"/><ellipse cx="281.1" cy="48.6" rx="3.4" ry="0.60" transform="rotate(2 281.1 48.6)"/><ellipse cx="222.1" cy="108.1" rx="3.3" ry="0.43" transform="rotate(67 222.1 108.1)"/><ellipse cx="297.8" cy="46.1" rx="2.0" ry="0.37" transform="rotate(40 297.8 46.1)"/><ellipse cx="236.4" cy="105.8" rx="2.0" ry="0.55" transform="rotate(-55 236.4 105.8)"/><ellipse cx="227.5" cy="111.8" rx="4.3" ry="0.42" transform="rotate(-44 227.5 111.8)"/><ellipse cx="217.3" cy="110.8" rx="3.4" ry="0.34" transform="rotate(-26 217.3 110.8)"/><ellipse cx="242.3" cy="88.4" rx="2.3" ry="0.42" transform="rotate(-34 242.3 88.4)"/><ellipse cx="235.5" cy="99.0" rx="1.8" ry="0.44" transform="rotate(37 235.5 99.0)"/><ellipse cx="273.5" cy="58.8" rx="3.2" ry="0.55" transform="rotate(-40 273.5 58.8)"/><ellipse cx="233.7" cy="109.4" rx="4.3" ry="0.33" transform="rotate(-26 233.7 109.4)"/><ellipse cx="256.2" cy="93.3" rx="1.5" ry="0.54" transform="rotate(-37 256.2 93.3)"/><ellipse cx="256.7" cy="75.3" rx="2.6" ry="0.31" transform="rotate(-55 256.7 75.3)"/><ellipse cx="266.0" cy="69.8" rx="3.6" ry="0.36" transform="rotate(-50 266.0 69.8)"/><ellipse cx="224.8" cy="104.9" rx="1.9" ry="0.50" transform="rotate(-37 224.8 104.9)"/><ellipse cx="292.2" cy="43.4" rx="2.7" ry="0.52" transform="rotate(35 292.2 43.4)"/><ellipse cx="225.5" cy="116.3" rx="1.8" ry="0.42" transform="rotate(62 225.5 116.3)"/><ellipse cx="309.4" cy="28.5" rx="1.6" ry="0.51" transform="rotate(32 309.4 28.5)"/><ellipse cx="290.5" cy="60.4" rx="1.9" ry="0.51" transform="rotate(-44 290.5 60.4)"/><ellipse cx="323.2" cy="37.9" rx="2.4" ry="0.33" transform="rotate(-45 323.2 37.9)"/><ellipse cx="308.1" cy="38.1" rx="4.4" ry="0.37" transform="rotate(-54 308.1 38.1)"/><ellipse cx="237.8" cy="93.6" rx="4.3" ry="0.52" transform="rotate(-47 237.8 93.6)"/><ellipse cx="252.3" cy="95.4" rx="1.8" ry="0.56" transform="rotate(43 252.3 95.4)"/><ellipse cx="302.7" cy="31.7" rx="1.8" ry="0.34" transform="rotate(45 302.7 31.7)"/><ellipse cx="329.0" cy="24.3" rx="3.7" ry="0.35" transform="rotate(31 329.0 24.3)"/><ellipse cx="325.1" cy="38.3" rx="1.6" ry="0.59" transform="rotate(61 325.1 38.3)"/><ellipse cx="222.7" cy="111.1" rx="3.9" ry="0.57" transform="rotate(39 222.7 111.1)"/><ellipse cx="322.9" cy="37.7" rx="2.2" ry="0.43" transform="rotate(46 322.9 37.7)"/><ellipse cx="294.1" cy="46.0" rx="3.5" ry="0.37" transform="rotate(-12 294.1 46.0)"/><ellipse cx="268.3" cy="70.3" rx="1.6" ry="0.49" transform="rotate(-25 268.3 70.3)"/><ellipse cx="251.7" cy="92.5" rx="1.8" ry="0.34" transform="rotate(76 251.7 92.5)"/><ellipse cx="217.0" cy="113.6" rx="1.9" ry="0.48" transform="rotate(-54 217.0 113.6)"/><ellipse cx="339.1" cy="18.5" rx="2.8" ry="0.45" transform="rotate(-47 339.1 18.5)"/><ellipse cx="332.4" cy="31.7" rx="3.1" ry="0.55" transform="rotate(42 332.4 31.7)"/><ellipse cx="292.8" cy="51.9" rx="4.2" ry="0.39" transform="rotate(30 292.8 51.9)"/><ellipse cx="278.1" cy="70.4" rx="2.6" ry="0.48" transform="rotate(-56 278.1 70.4)"/><ellipse cx="217.4" cy="115.1" rx="2.3" ry="0.56" transform="rotate(32 217.4 115.1)"/><ellipse cx="241.6" cy="89.0" rx="2.8" ry="0.32" transform="rotate(48 241.6 89.0)"/><ellipse cx="264.8" cy="74.9" rx="3.7" ry="0.35" transform="rotate(-49 264.8 74.9)"/><ellipse cx="257.9" cy="79.2" rx="1.8" ry="0.56" transform="rotate(63 257.9 79.2)"/><ellipse cx="338.3" cy="30.2" rx="1.9" ry="0.56" transform="rotate(24 338.3 30.2)"/><ellipse cx="218.4" cy="120.6" rx="1.9" ry="0.55" transform="rotate(83 218.4 120.6)"/><ellipse cx="253.0" cy="90.1" rx="3.7" ry="0.39" transform="rotate(63 253.0 90.1)"/><ellipse cx="266.0" cy="76.4" rx="2.6" ry="0.39" transform="rotate(36 266.0 76.4)"/><ellipse cx="285.1" cy="63.5" rx="2.5" ry="0.55" transform="rotate(39 285.1 63.5)"/><ellipse cx="326.8" cy="37.4" rx="1.6" ry="0.38" transform="rotate(-49 326.8 37.4)"/><ellipse cx="328.6" cy="18.9" rx="3.1" ry="0.46" transform="rotate(36 328.6 18.9)"/><ellipse cx="301.6" cy="41.7" rx="3.5" ry="0.46" transform="rotate(-44 301.6 41.7)"/><ellipse cx="229.0" cy="106.5" rx="4.4" ry="0.45" transform="rotate(-43 229.0 106.5)"/><ellipse cx="272.3" cy="71.7" rx="2.0" ry="0.40" transform="rotate(-25 272.3 71.7)"/><ellipse cx="342.4" cy="20.8" rx="2.5" ry="0.58" transform="rotate(71 342.4 20.8)"/><ellipse cx="282.9" cy="69.4" rx="3.0" ry="0.36" transform="rotate(-36 282.9 69.4)"/><ellipse cx="241.1" cy="101.0" rx="3.7" ry="0.51" transform="rotate(89 241.1 101.0)"/><ellipse cx="215.5" cy="111.1" rx="4.0" ry="0.48" transform="rotate(48 215.5 111.1)"/><ellipse cx="297.6" cy="39.6" rx="4.2" ry="0.45" transform="rotate(-42 297.6 39.6)"/><ellipse cx="233.6" cy="99.3" rx="1.8" ry="0.33" transform="rotate(3 233.6 99.3)"/><ellipse cx="238.9" cy="100.8" rx="3.5" ry="0.51" transform="rotate(-30 238.9 100.8)"/><ellipse cx="285.4" cy="47.8" rx="1.8" ry="0.57" transform="rotate(-84 285.4 47.8)"/><ellipse cx="287.4" cy="51.0" rx="3.2" ry="0.59" transform="rotate(39 287.4 51.0)"/><ellipse cx="272.2" cy="71.7" rx="2.4" ry="0.57" transform="rotate(-48 272.2 71.7)"/><ellipse cx="317.8" cy="26.3" rx="2.2" ry="0.42" transform="rotate(-37 317.8 26.3)"/><ellipse cx="304.5" cy="35.0" rx="1.8" ry="0.35" transform="rotate(-46 304.5 35.0)"/><ellipse cx="260.5" cy="68.9" rx="3.1" ry="0.42" transform="rotate(40 260.5 68.9)"/><ellipse cx="263.8" cy="67.1" rx="2.7" ry="0.44" transform="rotate(-51 263.8 67.1)"/><ellipse cx="259.4" cy="79.7" rx="3.6" ry="0.33" transform="rotate(-47 259.4 79.7)"/><ellipse cx="253.3" cy="94.5" rx="2.0" ry="0.41" transform="rotate(-51 253.3 94.5)"/><ellipse cx="306.4" cy="37.6" rx="2.1" ry="0.56" transform="rotate(81 306.4 37.6)"/><ellipse cx="305.0" cy="53.1" rx="3.1" ry="0.42" transform="rotate(50 305.0 53.1)"/><ellipse cx="276.6" cy="55.0" rx="3.7" ry="0.53" transform="rotate(54 276.6 55.0)"/><ellipse cx="221.4" cy="117.8" rx="2.0" ry="0.56" transform="rotate(38 221.4 117.8)"/><ellipse cx="258.3" cy="86.0" rx="3.8" ry="0.36" transform="rotate(-25 258.3 86.0)"/><ellipse cx="303.3" cy="32.3" rx="2.7" ry="0.57" transform="rotate(61 303.3 32.3)"/><ellipse cx="318.1" cy="42.6" rx="2.6" ry="0.54" transform="rotate(-29 318.1 42.6)"/><ellipse cx="306.9" cy="50.9" rx="2.6" ry="0.49" transform="rotate(55 306.9 50.9)"/><ellipse cx="237.8" cy="93.9" rx="2.7" ry="0.48" transform="rotate(-28 237.8 93.9)"/><ellipse cx="272.2" cy="75.0" rx="3.4" ry="0.35" transform="rotate(9 272.2 75.0)"/><ellipse cx="323.3" cy="29.3" rx="3.2" ry="0.58" transform="rotate(-12 323.3 29.3)"/><ellipse cx="232.8" cy="110.2" rx="3.3" ry="0.31" transform="rotate(68 232.8 110.2)"/><ellipse cx="245.3" cy="86.5" rx="4.2" ry="0.43" transform="rotate(75 245.3 86.5)"/><ellipse cx="314.9" cy="47.8" rx="4.3" ry="0.43" transform="rotate(31 314.9 47.8)"/><ellipse cx="337.0" cy="23.9" rx="3.0" ry="0.50" transform="rotate(61 337.0 23.9)"/><ellipse cx="244.3" cy="99.1" rx="1.6" ry="0.51" transform="rotate(-30 244.3 99.1)"/><ellipse cx="316.2" cy="26.6" rx="2.3" ry="0.59" transform="rotate(25 316.2 26.6)"/><ellipse cx="237.6" cy="98.6" rx="3.6" ry="0.50" transform="rotate(-65 237.6 98.6)"/><ellipse cx="245.4" cy="89.2" rx="3.6" ry="0.34" transform="rotate(42 245.4 89.2)"/><ellipse cx="306.3" cy="43.2" rx="3.8" ry="0.35" transform="rotate(51 306.3 43.2)"/><ellipse cx="300.8" cy="47.3" rx="3.6" ry="0.30" transform="rotate(-41 300.8 47.3)"/><ellipse cx="273.1" cy="56.4" rx="2.8" ry="0.33" transform="rotate(35 273.1 56.4)"/><ellipse cx="257.3" cy="82.5" rx="2.9" ry="0.59" transform="rotate(-44 257.3 82.5)"/><ellipse cx="278.5" cy="68.3" rx="3.0" ry="0.43" transform="rotate(-42 278.5 68.3)"/><ellipse cx="241.5" cy="99.0" rx="3.3" ry="0.52" transform="rotate(26 241.5 99.0)"/><ellipse cx="305.8" cy="45.4" rx="4.0" ry="0.39" transform="rotate(57 305.8 45.4)"/><ellipse cx="241.6" cy="100.8" rx="4.0" ry="0.52" transform="rotate(-60 241.6 100.8)"/><ellipse cx="255.3" cy="77.7" rx="4.3" ry="0.55" transform="rotate(-24 255.3 77.7)"/><ellipse cx="246.0" cy="84.6" rx="2.7" ry="0.32" transform="rotate(76 246.0 84.6)"/><ellipse cx="244.0" cy="94.3" rx="1.7" ry="0.51" transform="rotate(18 244.0 94.3)"/><ellipse cx="237.6" cy="100.4" rx="2.9" ry="0.37" transform="rotate(24 237.6 100.4)"/><ellipse cx="259.8" cy="70.0" rx="2.3" ry="0.50" transform="rotate(-37 259.8 70.0)"/><ellipse cx="279.4" cy="59.5" rx="4.2" ry="0.35" transform="rotate(-45 279.4 59.5)"/><ellipse cx="253.6" cy="85.5" rx="3.1" ry="0.46" transform="rotate(-38 253.6 85.5)"/><ellipse cx="270.2" cy="71.6" rx="3.4" ry="0.54" transform="rotate(-18 270.2 71.6)"/><ellipse cx="225.4" cy="114.2" rx="2.9" ry="0.49" transform="rotate(35 225.4 114.2)"/><ellipse cx="253.3" cy="83.5" rx="3.7" ry="0.51" transform="rotate(-56 253.3 83.5)"/><ellipse cx="236.3" cy="104.1" rx="3.2" ry="0.42" transform="rotate(-38 236.3 104.1)"/><ellipse cx="229.8" cy="102.3" rx="3.4" ry="0.36" transform="rotate(47 229.8 102.3)"/><ellipse cx="302.3" cy="49.1" rx="1.8" ry="0.45" transform="rotate(7 302.3 49.1)"/><ellipse cx="286.2" cy="45.7" rx="3.2" ry="0.51" transform="rotate(-11 286.2 45.7)"/><ellipse cx="308.5" cy="28.8" rx="2.7" ry="0.35" transform="rotate(-72 308.5 28.8)"/><ellipse cx="339.8" cy="18.9" rx="2.7" ry="0.31" transform="rotate(-32 339.8 18.9)"/><ellipse cx="223.1" cy="116.3" rx="2.8" ry="0.57" transform="rotate(-26 223.1 116.3)"/><ellipse cx="296.6" cy="55.9" rx="2.6" ry="0.55" transform="rotate(-38 296.6 55.9)"/><ellipse cx="320.5" cy="36.6" rx="3.7" ry="0.58" transform="rotate(-47 320.5 36.6)"/><ellipse cx="303.3" cy="31.1" rx="1.8" ry="0.58" transform="rotate(9 303.3 31.1)"/><ellipse cx="299.1" cy="40.1" rx="2.8" ry="0.54" transform="rotate(61 299.1 40.1)"/><ellipse cx="273.6" cy="56.8" rx="3.5" ry="0.55" transform="rotate(78 273.6 56.8)"/><ellipse cx="287.5" cy="48.6" rx="1.5" ry="0.40" transform="rotate(58 287.5 48.6)"/><ellipse cx="236.3" cy="102.6" rx="3.4" ry="0.49" transform="rotate(-29 236.3 102.6)"/><ellipse cx="293.6" cy="57.6" rx="4.1" ry="0.48" transform="rotate(-26 293.6 57.6)"/><ellipse cx="225.7" cy="108.3" rx="2.1" ry="0.55" transform="rotate(-49 225.7 108.3)"/><ellipse cx="306.6" cy="36.2" rx="3.2" ry="0.40" transform="rotate(67 306.6 36.2)"/><ellipse cx="219.0" cy="115.5" rx="1.9" ry="0.42" transform="rotate(-64 219.0 115.5)"/><ellipse cx="227.6" cy="117.8" rx="4.5" ry="0.31" transform="rotate(-44 227.6 117.8)"/><ellipse cx="287.9" cy="60.4" rx="1.8" ry="0.54" transform="rotate(24 287.9 60.4)"/><ellipse cx="314.3" cy="27.5" rx="3.7" ry="0.45" transform="rotate(27 314.3 27.5)"/><ellipse cx="294.4" cy="45.5" rx="3.5" ry="0.57" transform="rotate(40 294.4 45.5)"/><ellipse cx="315.5" cy="34.1" rx="1.9" ry="0.30" transform="rotate(-28 315.5 34.1)"/><ellipse cx="326.2" cy="23.4" rx="3.3" ry="0.34" transform="rotate(-42 326.2 23.4)"/><ellipse cx="304.9" cy="35.4" rx="4.3" ry="0.48" transform="rotate(-38 304.9 35.4)"/><ellipse cx="225.4" cy="105.9" rx="2.8" ry="0.56" transform="rotate(-26 225.4 105.9)"/><ellipse cx="225.4" cy="111.1" rx="3.8" ry="0.49" transform="rotate(-28 225.4 111.1)"/><ellipse cx="243.8" cy="86.0" rx="4.1" ry="0.49" transform="rotate(42 243.8 86.0)"/><ellipse cx="243.6" cy="101.0" rx="2.5" ry="0.34" transform="rotate(-76 243.6 101.0)"/><ellipse cx="241.2" cy="99.1" rx="2.5" ry="0.56" transform="rotate(-29 241.2 99.1)"/><ellipse cx="220.0" cy="115.1" rx="3.9" ry="0.33" transform="rotate(60 220.0 115.1)"/><ellipse cx="294.7" cy="55.1" rx="1.6" ry="0.40" transform="rotate(-25 294.7 55.1)"/><ellipse cx="296.7" cy="43.1" rx="1.8" ry="0.35" transform="rotate(-43 296.7 43.1)"/><ellipse cx="236.8" cy="107.1" rx="3.5" ry="0.56" transform="rotate(-14 236.8 107.1)"/><ellipse cx="239.5" cy="108.9" rx="2.9" ry="0.31" transform="rotate(21 239.5 108.9)"/><ellipse cx="298.5" cy="49.8" rx="3.1" ry="0.58" transform="rotate(55 298.5 49.8)"/><ellipse cx="231.0" cy="98.0" rx="2.0" ry="0.49" transform="rotate(53 231.0 98.0)"/><ellipse cx="270.3" cy="82.1" rx="3.0" ry="0.47" transform="rotate(-68 270.3 82.1)"/><ellipse cx="242.9" cy="105.4" rx="4.1" ry="0.53" transform="rotate(-58 242.9 105.4)"/><ellipse cx="280.5" cy="56.7" rx="3.4" ry="0.40" transform="rotate(-34 280.5 56.7)"/><ellipse cx="317.4" cy="31.3" rx="1.5" ry="0.54" transform="rotate(-71 317.4 31.3)"/><ellipse cx="334.5" cy="24.9" rx="4.3" ry="0.49" transform="rotate(31 334.5 24.9)"/><ellipse cx="243.8" cy="91.0" rx="2.5" ry="0.43" transform="rotate(-47 243.8 91.0)"/><ellipse cx="254.7" cy="94.2" rx="4.1" ry="0.56" transform="rotate(69 254.7 94.2)"/><ellipse cx="252.4" cy="93.5" rx="4.1" ry="0.37" transform="rotate(34 252.4 93.5)"/><ellipse cx="257.8" cy="85.3" rx="4.1" ry="0.52" transform="rotate(-26 257.8 85.3)"/><ellipse cx="224.1" cy="116.7" rx="3.6" ry="0.54" transform="rotate(42 224.1 116.7)"/><ellipse cx="238.9" cy="108.1" rx="1.8" ry="0.35" transform="rotate(35 238.9 108.1)"/><ellipse cx="298.7" cy="36.2" rx="4.4" ry="0.31" transform="rotate(66 298.7 36.2)"/><ellipse cx="248.7" cy="97.7" rx="3.2" ry="0.51" transform="rotate(-34 248.7 97.7)"/><ellipse cx="304.2" cy="30.5" rx="4.4" ry="0.46" transform="rotate(23 304.2 30.5)"/><ellipse cx="215.5" cy="114.6" rx="3.1" ry="0.55" transform="rotate(-39 215.5 114.6)"/><ellipse cx="336.2" cy="11.0" rx="3.7" ry="0.38" transform="rotate(-26 336.2 11.0)"/><ellipse cx="238.2" cy="96.5" rx="3.9" ry="0.59" transform="rotate(22 238.2 96.5)"/><ellipse cx="249.4" cy="87.0" rx="3.6" ry="0.59" transform="rotate(43 249.4 87.0)"/><ellipse cx="329.0" cy="28.5" rx="2.7" ry="0.42" transform="rotate(-43 329.0 28.5)"/><ellipse cx="265.2" cy="67.5" rx="3.6" ry="0.52" transform="rotate(20 265.2 67.5)"/><ellipse cx="343.1" cy="19.1" rx="4.2" ry="0.31" transform="rotate(-35 343.1 19.1)"/><ellipse cx="302.2" cy="39.5" rx="1.5" ry="0.52" transform="rotate(-33 302.2 39.5)"/><ellipse cx="324.5" cy="26.5" rx="3.9" ry="0.56" transform="rotate(-48 324.5 26.5)"/><ellipse cx="257.9" cy="72.5" rx="1.7" ry="0.54" transform="rotate(33 257.9 72.5)"/><ellipse cx="303.2" cy="53.5" rx="2.5" ry="0.48" transform="rotate(61 303.2 53.5)"/><ellipse cx="291.0" cy="63.3" rx="3.1" ry="0.54" transform="rotate(-53 291.0 63.3)"/><ellipse cx="245.0" cy="88.1" rx="4.1" ry="0.31" transform="rotate(25 245.0 88.1)"/><ellipse cx="266.9" cy="81.9" rx="2.6" ry="0.41" transform="rotate(26 266.9 81.9)"/><ellipse cx="299.7" cy="46.2" rx="4.5" ry="0.51" transform="rotate(53 299.7 46.2)"/><ellipse cx="272.2" cy="68.1" rx="1.9" ry="0.45" transform="rotate(-63 272.2 68.1)"/><ellipse cx="300.1" cy="48.2" rx="2.1" ry="0.47" transform="rotate(-44 300.1 48.2)"/><ellipse cx="222.5" cy="108.3" rx="2.3" ry="0.43" transform="rotate(-33 222.5 108.3)"/><ellipse cx="281.2" cy="59.5" rx="3.4" ry="0.41" transform="rotate(26 281.2 59.5)"/><ellipse cx="222.1" cy="112.9" rx="2.8" ry="0.48" transform="rotate(56 222.1 112.9)"/><ellipse cx="247.6" cy="86.9" rx="3.2" ry="0.32" transform="rotate(21 247.6 86.9)"/><ellipse cx="245.2" cy="102.1" rx="3.0" ry="0.57" transform="rotate(42 245.2 102.1)"/><ellipse cx="307.7" cy="27.0" rx="2.7" ry="0.44" transform="rotate(43 307.7 27.0)"/><ellipse cx="329.0" cy="21.9" rx="2.2" ry="0.36" transform="rotate(58 329.0 21.9)"/><ellipse cx="286.7" cy="65.1" rx="1.9" ry="0.37" transform="rotate(37 286.7 65.1)"/><ellipse cx="228.5" cy="114.4" rx="2.9" ry="0.55" transform="rotate(46 228.5 114.4)"/><ellipse cx="241.4" cy="94.9" rx="1.9" ry="0.42" transform="rotate(45 241.4 94.9)"/><ellipse cx="223.8" cy="114.6" rx="4.5" ry="0.38" transform="rotate(-45 223.8 114.6)"/><ellipse cx="248.8" cy="87.4" rx="4.2" ry="0.50" transform="rotate(10 248.8 87.4)"/><ellipse cx="253.5" cy="81.1" rx="2.1" ry="0.32" transform="rotate(42 253.5 81.1)"/><ellipse cx="281.8" cy="56.2" rx="4.3" ry="0.40" transform="rotate(44 281.8 56.2)"/><ellipse cx="274.8" cy="71.1" rx="2.7" ry="0.47" transform="rotate(-35 274.8 71.1)"/><ellipse cx="255.7" cy="79.5" rx="3.3" ry="0.42" transform="rotate(38 255.7 79.5)"/><ellipse cx="305.5" cy="33.6" rx="1.6" ry="0.56" transform="rotate(-49 305.5 33.6)"/><ellipse cx="226.6" cy="112.1" rx="3.0" ry="0.50" transform="rotate(-50 226.6 112.1)"/><ellipse cx="299.4" cy="40.8" rx="2.1" ry="0.33" transform="rotate(-64 299.4 40.8)"/><ellipse cx="230.8" cy="112.2" rx="3.6" ry="0.43" transform="rotate(41 230.8 112.2)"/><ellipse cx="272.3" cy="77.5" rx="2.4" ry="0.37" transform="rotate(27 272.3 77.5)"/><ellipse cx="287.2" cy="50.5" rx="3.1" ry="0.36" transform="rotate(28 287.2 50.5)"/><ellipse cx="339.0" cy="22.2" rx="3.4" ry="0.37" transform="rotate(-48 339.0 22.2)"/><ellipse cx="280.7" cy="50.5" rx="2.7" ry="0.31" transform="rotate(-13 280.7 50.5)"/><ellipse cx="262.0" cy="82.4" rx="2.4" ry="0.40" transform="rotate(-49 262.0 82.4)"/><ellipse cx="311.2" cy="37.1" rx="3.3" ry="0.46" transform="rotate(25 311.2 37.1)"/><ellipse cx="226.3" cy="104.6" rx="3.2" ry="0.39" transform="rotate(-47 226.3 104.6)"/><ellipse cx="285.2" cy="46.9" rx="1.7" ry="0.40" transform="rotate(30 285.2 46.9)"/><ellipse cx="270.4" cy="64.3" rx="3.9" ry="0.52" transform="rotate(29 270.4 64.3)"/><ellipse cx="274.9" cy="71.9" rx="1.6" ry="0.45" transform="rotate(-52 274.9 71.9)"/><ellipse cx="230.3" cy="110.2" rx="3.7" ry="0.52" transform="rotate(49 230.3 110.2)"/><ellipse cx="263.0" cy="81.7" rx="2.4" ry="0.38" transform="rotate(20 263.0 81.7)"/><ellipse cx="229.2" cy="103.9" rx="2.9" ry="0.35" transform="rotate(34 229.2 103.9)"/><ellipse cx="282.6" cy="58.6" rx="4.5" ry="0.57" transform="rotate(-44 282.6 58.6)"/><ellipse cx="308.4" cy="40.3" rx="3.0" ry="0.54" transform="rotate(-48 308.4 40.3)"/><ellipse cx="288.6" cy="58.0" rx="4.5" ry="0.43" transform="rotate(58 288.6 58.0)"/><ellipse cx="291.0" cy="42.4" rx="2.2" ry="0.48" transform="rotate(-38 291.0 42.4)"/><ellipse cx="317.7" cy="38.2" rx="1.6" ry="0.49" transform="rotate(-53 317.7 38.2)"/><ellipse cx="306.3" cy="49.2" rx="1.5" ry="0.58" transform="rotate(-45 306.3 49.2)"/><ellipse cx="267.4" cy="71.5" rx="2.0" ry="0.54" transform="rotate(42 267.4 71.5)"/><ellipse cx="311.0" cy="29.2" rx="4.5" ry="0.54" transform="rotate(-27 311.0 29.2)"/><ellipse cx="275.9" cy="64.8" rx="1.7" ry="0.56" transform="rotate(45 275.9 64.8)"/><ellipse cx="222.5" cy="111.3" rx="2.0" ry="0.59" transform="rotate(85 222.5 111.3)"/><ellipse cx="303.0" cy="49.5" rx="3.7" ry="0.55" transform="rotate(-51 303.0 49.5)"/><ellipse cx="318.8" cy="33.8" rx="2.4" ry="0.59" transform="rotate(51 318.8 33.8)"/><ellipse cx="285.6" cy="66.5" rx="3.8" ry="0.55" transform="rotate(68 285.6 66.5)"/><ellipse cx="248.0" cy="94.1" rx="4.2" ry="0.32" transform="rotate(14 248.0 94.1)"/><ellipse cx="298.7" cy="43.7" rx="2.7" ry="0.33" transform="rotate(59 298.7 43.7)"/><ellipse cx="300.7" cy="52.7" rx="1.5" ry="0.45" transform="rotate(50 300.7 52.7)"/><ellipse cx="216.8" cy="111.8" rx="1.9" ry="0.46" transform="rotate(41 216.8 111.8)"/><ellipse cx="227.0" cy="108.4" rx="2.1" ry="0.57" transform="rotate(22 227.0 108.4)"/><ellipse cx="267.8" cy="74.2" rx="4.0" ry="0.36" transform="rotate(31 267.8 74.2)"/><ellipse cx="254.4" cy="96.2" rx="4.1" ry="0.59" transform="rotate(70 254.4 96.2)"/><ellipse cx="254.2" cy="82.0" rx="2.7" ry="0.30" transform="rotate(-29 254.2 82.0)"/><ellipse cx="320.7" cy="18.1" rx="2.6" ry="0.33" transform="rotate(28 320.7 18.1)"/><ellipse cx="287.6" cy="62.8" rx="3.5" ry="0.32" transform="rotate(39 287.6 62.8)"/><ellipse cx="293.6" cy="48.2" rx="3.6" ry="0.58" transform="rotate(29 293.6 48.2)"/><ellipse cx="314.6" cy="22.1" rx="1.7" ry="0.55" transform="rotate(-35 314.6 22.1)"/><ellipse cx="302.9" cy="45.1" rx="3.3" ry="0.44" transform="rotate(70 302.9 45.1)"/><ellipse cx="338.0" cy="18.7" rx="3.3" ry="0.47" transform="rotate(-55 338.0 18.7)"/><ellipse cx="222.2" cy="112.0" rx="2.4" ry="0.46" transform="rotate(-33 222.2 112.0)"/><ellipse cx="272.7" cy="79.8" rx="3.0" ry="0.59" transform="rotate(60 272.7 79.8)"/><ellipse cx="264.9" cy="85.5" rx="3.9" ry="0.40" transform="rotate(-45 264.9 85.5)"/><ellipse cx="235.0" cy="104.0" rx="3.5" ry="0.57" transform="rotate(-29 235.0 104.0)"/><ellipse cx="292.9" cy="61.1" rx="2.4" ry="0.58" transform="rotate(38 292.9 61.1)"/><ellipse cx="241.0" cy="95.0" rx="2.5" ry="0.54" transform="rotate(25 241.0 95.0)"/><ellipse cx="272.0" cy="59.2" rx="3.4" ry="0.53" transform="rotate(51 272.0 59.2)"/><ellipse cx="253.7" cy="78.6" rx="2.7" ry="0.32" transform="rotate(11 253.7 78.6)"/><ellipse cx="267.3" cy="78.9" rx="2.3" ry="0.53" transform="rotate(-43 267.3 78.9)"/><ellipse cx="223.7" cy="117.9" rx="4.4" ry="0.57" transform="rotate(38 223.7 117.9)"/><ellipse cx="323.6" cy="15.8" rx="1.8" ry="0.39" transform="rotate(60 323.6 15.8)"/><ellipse cx="300.7" cy="55.6" rx="4.0" ry="0.54" transform="rotate(55 300.7 55.6)"/><ellipse cx="321.7" cy="25.8" rx="4.1" ry="0.46" transform="rotate(66 321.7 25.8)"/><ellipse cx="282.1" cy="62.9" rx="4.3" ry="0.32" transform="rotate(-28 282.1 62.9)"/><ellipse cx="217.3" cy="118.5" rx="2.3" ry="0.55" transform="rotate(-51 217.3 118.5)"/><ellipse cx="319.5" cy="40.4" rx="1.9" ry="0.38" transform="rotate(46 319.5 40.4)"/><ellipse cx="223.3" cy="120.3" rx="3.6" ry="0.51" transform="rotate(-38 223.3 120.3)"/><ellipse cx="290.8" cy="46.5" rx="3.3" ry="0.57" transform="rotate(50 290.8 46.5)"/><ellipse cx="254.6" cy="82.6" rx="3.6" ry="0.32" transform="rotate(-38 254.6 82.6)"/><ellipse cx="320.9" cy="24.3" rx="3.0" ry="0.59" transform="rotate(51 320.9 24.3)"/><ellipse cx="290.4" cy="54.4" rx="2.2" ry="0.49" transform="rotate(47 290.4 54.4)"/><ellipse cx="258.1" cy="78.5" rx="2.3" ry="0.59" transform="rotate(-38 258.1 78.5)"/><ellipse cx="289.7" cy="57.7" rx="2.8" ry="0.32" transform="rotate(29 289.7 57.7)"/><ellipse cx="296.6" cy="52.5" rx="2.7" ry="0.50" transform="rotate(2 296.6 52.5)"/><ellipse cx="324.2" cy="14.7" rx="1.7" ry="0.44" transform="rotate(47 324.2 14.7)"/><ellipse cx="233.8" cy="103.8" rx="3.3" ry="0.33" transform="rotate(55 233.8 103.8)"/><ellipse cx="239.7" cy="104.6" rx="3.9" ry="0.52" transform="rotate(-53 239.7 104.6)"/><ellipse cx="311.4" cy="28.8" rx="4.3" ry="0.52" transform="rotate(-32 311.4 28.8)"/><ellipse cx="303.2" cy="31.7" rx="3.7" ry="0.46" transform="rotate(65 303.2 31.7)"/><ellipse cx="286.4" cy="58.3" rx="1.6" ry="0.35" transform="rotate(-38 286.4 58.3)"/><ellipse cx="264.3" cy="86.0" rx="4.1" ry="0.41" transform="rotate(-31 264.3 86.0)"/><ellipse cx="328.4" cy="23.2" rx="4.0" ry="0.46" transform="rotate(-53 328.4 23.2)"/><ellipse cx="248.0" cy="89.8" rx="3.6" ry="0.58" transform="rotate(-44 248.0 89.8)"/><ellipse cx="341.1" cy="15.1" rx="1.9" ry="0.30" transform="rotate(39 341.1 15.1)"/><ellipse cx="244.8" cy="97.0" rx="2.9" ry="0.31" transform="rotate(-44 244.8 97.0)"/><ellipse cx="329.6" cy="23.8" rx="3.0" ry="0.49" transform="rotate(36 329.6 23.8)"/><ellipse cx="241.6" cy="92.9" rx="4.1" ry="0.58" transform="rotate(-71 241.6 92.9)"/><ellipse cx="271.8" cy="70.8" rx="3.2" ry="0.52" transform="rotate(-27 271.8 70.8)"/><ellipse cx="322.4" cy="18.6" rx="3.4" ry="0.51" transform="rotate(88 322.4 18.6)"/><ellipse cx="272.1" cy="59.8" rx="3.9" ry="0.57" transform="rotate(-28 272.1 59.8)"/><ellipse cx="217.5" cy="118.3" rx="1.6" ry="0.33" transform="rotate(43 217.5 118.3)"/><ellipse cx="342.2" cy="20.7" rx="3.8" ry="0.31" transform="rotate(-54 342.2 20.7)"/><ellipse cx="285.9" cy="57.6" rx="3.8" ry="0.33" transform="rotate(22 285.9 57.6)"/><ellipse cx="341.6" cy="19.7" rx="2.5" ry="0.45" transform="rotate(-61 341.6 19.7)"/><ellipse cx="338.2" cy="16.2" rx="4.0" ry="0.45" transform="rotate(-85 338.2 16.2)"/><ellipse cx="294.2" cy="51.3" rx="3.3" ry="0.44" transform="rotate(-80 294.2 51.3)"/><ellipse cx="301.1" cy="46.2" rx="2.1" ry="0.51" transform="rotate(29 301.1 46.2)"/><ellipse cx="310.8" cy="42.1" rx="2.6" ry="0.33" transform="rotate(-74 310.8 42.1)"/><ellipse cx="311.7" cy="46.2" rx="2.4" ry="0.39" transform="rotate(25 311.7 46.2)"/><ellipse cx="278.2" cy="64.5" rx="1.8" ry="0.51" transform="rotate(-45 278.2 64.5)"/><ellipse cx="290.9" cy="52.2" rx="2.1" ry="0.53" transform="rotate(20 290.9 52.2)"/><ellipse cx="307.5" cy="28.6" rx="3.5" ry="0.55" transform="rotate(41 307.5 28.6)"/><ellipse cx="273.1" cy="77.0" rx="1.9" ry="0.54" transform="rotate(-10 273.1 77.0)"/><ellipse cx="319.1" cy="17.3" rx="3.5" ry="0.44" transform="rotate(-61 319.1 17.3)"/><ellipse cx="295.9" cy="53.7" rx="2.7" ry="0.31" transform="rotate(-32 295.9 53.7)"/><ellipse cx="248.9" cy="99.5" rx="4.2" ry="0.54" transform="rotate(-27 248.9 99.5)"/><ellipse cx="279.0" cy="52.1" rx="1.7" ry="0.34" transform="rotate(36 279.0 52.1)"/><ellipse cx="271.1" cy="62.7" rx="4.3" ry="0.46" transform="rotate(53 271.1 62.7)"/><ellipse cx="315.9" cy="37.3" rx="3.6" ry="0.43" transform="rotate(-36 315.9 37.3)"/><ellipse cx="234.7" cy="112.0" rx="2.4" ry="0.42" transform="rotate(-60 234.7 112.0)"/><ellipse cx="263.1" cy="88.5" rx="4.4" ry="0.49" transform="rotate(25 263.1 88.5)"/><ellipse cx="291.0" cy="55.3" rx="3.7" ry="0.46" transform="rotate(-37 291.0 55.3)"/><ellipse cx="224.0" cy="105.3" rx="3.6" ry="0.38" transform="rotate(27 224.0 105.3)"/><ellipse cx="310.7" cy="28.7" rx="2.0" ry="0.60" transform="rotate(-16 310.7 28.7)"/><ellipse cx="330.9" cy="31.2" rx="4.0" ry="0.37" transform="rotate(36 330.9 31.2)"/><ellipse cx="327.4" cy="32.4" rx="1.7" ry="0.33" transform="rotate(-35 327.4 32.4)"/><ellipse cx="317.0" cy="37.3" rx="1.8" ry="0.59" transform="rotate(33 317.0 37.3)"/><ellipse cx="265.8" cy="78.8" rx="2.3" ry="0.58" transform="rotate(-38 265.8 78.8)"/><ellipse cx="335.2" cy="17.4" rx="2.3" ry="0.41" transform="rotate(-24 335.2 17.4)"/><ellipse cx="278.0" cy="53.3" rx="4.3" ry="0.31" transform="rotate(60 278.0 53.3)"/><ellipse cx="300.6" cy="53.9" rx="2.3" ry="0.30" transform="rotate(63 300.6 53.9)"/><ellipse cx="229.1" cy="106.5" rx="1.8" ry="0.44" transform="rotate(34 229.1 106.5)"/><ellipse cx="302.4" cy="33.2" rx="2.8" ry="0.32" transform="rotate(-51 302.4 33.2)"/><ellipse cx="239.9" cy="95.0" rx="1.7" ry="0.37" transform="rotate(-42 239.9 95.0)"/><ellipse cx="311.0" cy="39.1" rx="1.7" ry="0.43" transform="rotate(-29 311.0 39.1)"/><ellipse cx="224.1" cy="112.7" rx="2.3" ry="0.58" transform="rotate(36 224.1 112.7)"/><ellipse cx="275.5" cy="71.0" rx="2.3" ry="0.54" transform="rotate(-53 275.5 71.0)"/><ellipse cx="226.7" cy="113.8" rx="3.5" ry="0.45" transform="rotate(2 226.7 113.8)"/><ellipse cx="219.6" cy="115.2" rx="3.5" ry="0.34" transform="rotate(47 219.6 115.2)"/><ellipse cx="261.5" cy="76.7" rx="3.5" ry="0.50" transform="rotate(36 261.5 76.7)"/><ellipse cx="300.2" cy="32.9" rx="2.4" ry="0.59" transform="rotate(-41 300.2 32.9)"/><ellipse cx="320.8" cy="23.8" rx="3.5" ry="0.30" transform="rotate(-46 320.8 23.8)"/><ellipse cx="336.1" cy="14.3" rx="3.5" ry="0.36" transform="rotate(46 336.1 14.3)"/><ellipse cx="329.3" cy="16.3" rx="2.2" ry="0.59" transform="rotate(35 329.3 16.3)"/><ellipse cx="256.5" cy="81.8" rx="3.8" ry="0.37" transform="rotate(53 256.5 81.8)"/><ellipse cx="319.1" cy="21.0" rx="3.6" ry="0.34" transform="rotate(-4 319.1 21.0)"/><ellipse cx="244.9" cy="87.1" rx="1.9" ry="0.40" transform="rotate(-65 244.9 87.1)"/><ellipse cx="308.5" cy="30.2" rx="2.3" ry="0.47" transform="rotate(24 308.5 30.2)"/><ellipse cx="243.0" cy="89.6" rx="1.7" ry="0.57" transform="rotate(-33 243.0 89.6)"/><ellipse cx="227.6" cy="101.3" rx="2.8" ry="0.46" transform="rotate(-46 227.6 101.3)"/><ellipse cx="326.7" cy="33.1" rx="3.0" ry="0.46" transform="rotate(-35 326.7 33.1)"/><ellipse cx="300.7" cy="41.8" rx="4.2" ry="0.47" transform="rotate(-12 300.7 41.8)"/><ellipse cx="241.4" cy="102.0" rx="2.3" ry="0.55" transform="rotate(-24 241.4 102.0)"/><ellipse cx="300.8" cy="33.6" rx="2.8" ry="0.40" transform="rotate(-35 300.8 33.6)"/><ellipse cx="316.8" cy="45.4" rx="4.4" ry="0.33" transform="rotate(-28 316.8 45.4)"/><ellipse cx="340.6" cy="17.4" rx="3.7" ry="0.41" transform="rotate(27 340.6 17.4)"/><ellipse cx="301.8" cy="50.7" rx="1.8" ry="0.45" transform="rotate(31 301.8 50.7)"/><ellipse cx="329.6" cy="25.7" rx="3.2" ry="0.41" transform="rotate(43 329.6 25.7)"/><ellipse cx="304.6" cy="40.7" rx="3.8" ry="0.42" transform="rotate(-87 304.6 40.7)"/><ellipse cx="232.7" cy="107.9" rx="3.6" ry="0.59" transform="rotate(-46 232.7 107.9)"/><ellipse cx="243.7" cy="101.5" rx="2.9" ry="0.50" transform="rotate(58 243.7 101.5)"/><ellipse cx="309.1" cy="26.3" rx="2.3" ry="0.32" transform="rotate(-16 309.1 26.3)"/><ellipse cx="215.6" cy="113.7" rx="4.2" ry="0.54" transform="rotate(20 215.6 113.7)"/><ellipse cx="243.8" cy="86.1" rx="2.5" ry="0.46" transform="rotate(24 243.8 86.1)"/><ellipse cx="256.4" cy="82.2" rx="2.3" ry="0.38" transform="rotate(-41 256.4 82.2)"/><ellipse cx="222.6" cy="106.1" rx="2.5" ry="0.45" transform="rotate(27 222.6 106.1)"/><ellipse cx="243.7" cy="104.6" rx="2.8" ry="0.39" transform="rotate(-62 243.7 104.6)"/><ellipse cx="217.8" cy="114.1" rx="2.1" ry="0.51" transform="rotate(-53 217.8 114.1)"/><ellipse cx="321.0" cy="37.7" rx="2.8" ry="0.30" transform="rotate(29 321.0 37.7)"/><ellipse cx="333.7" cy="15.1" rx="2.8" ry="0.46" transform="rotate(45 333.7 15.1)"/><ellipse cx="303.5" cy="30.6" rx="3.7" ry="0.44" transform="rotate(-38 303.5 30.6)"/><ellipse cx="239.6" cy="93.6" rx="2.0" ry="0.37" transform="rotate(-25 239.6 93.6)"/><ellipse cx="317.0" cy="41.8" rx="2.7" ry="0.46" transform="rotate(68 317.0 41.8)"/><ellipse cx="257.4" cy="89.5" rx="2.0" ry="0.58" transform="rotate(-46 257.4 89.5)"/><ellipse cx="327.2" cy="23.1" rx="4.1" ry="0.51" transform="rotate(1 327.2 23.1)"/><ellipse cx="274.0" cy="62.1" rx="3.0" ry="0.38" transform="rotate(53 274.0 62.1)"/><ellipse cx="297.9" cy="40.1" rx="2.6" ry="0.43" transform="rotate(38 297.9 40.1)"/><ellipse cx="338.6" cy="28.6" rx="4.3" ry="0.34" transform="rotate(-8 338.6 28.6)"/><ellipse cx="329.1" cy="34.9" rx="2.4" ry="0.32" transform="rotate(-38 329.1 34.9)"/><ellipse cx="313.7" cy="42.6" rx="3.6" ry="0.52" transform="rotate(-42 313.7 42.6)"/><ellipse cx="222.8" cy="119.7" rx="2.0" ry="0.46" transform="rotate(47 222.8 119.7)"/><ellipse cx="318.8" cy="21.7" rx="2.6" ry="0.57" transform="rotate(58 318.8 21.7)"/><ellipse cx="273.8" cy="68.3" rx="4.2" ry="0.44" transform="rotate(79 273.8 68.3)"/><ellipse cx="339.7" cy="20.0" rx="3.9" ry="0.52" transform="rotate(39 339.7 20.0)"/><ellipse cx="333.3" cy="21.4" rx="2.3" ry="0.44" transform="rotate(-29 333.3 21.4)"/></g><circle cx="238.1" cy="92.9" r="1.3" fill="#6c90e0"/><circle cx="235.9" cy="95.5" r="1.3" fill="#e09a28"/><circle cx="238.5" cy="95.5" r="1.3" fill="#3cb4e0"/><circle cx="243.9" cy="95.5" r="1.3" fill="#30a07c"/><circle cx="247.0" cy="92.9" r="1.3" fill="#e07064"/><circle cx="233.7" cy="98.6" r="1.3" fill="#40a040"/><circle cx="233.2" cy="100.8" r="1.3" fill="#d050d0"/><circle cx="237.2" cy="101.7" r="1.3" fill="#e07064"/><circle cx="239.4" cy="100.8" r="1.3" fill="#6c90e0"/><circle cx="241.2" cy="101.7" r="1.3" fill="#3cb4e0"/><circle cx="247.4" cy="99.5" r="1.3" fill="#a0b030"/><circle cx="227.0" cy="104.4" r="1.3" fill="#e060b8"/><circle cx="229.3" cy="103.5" r="1.3" fill="#3cb4e0"/><circle cx="231.9" cy="103.9" r="1.3" fill="#e09a28"/><circle cx="231.0" cy="106.2" r="1.3" fill="#e060b8"/><circle cx="238.1" cy="105.7" r="1.3" fill="#b070d0"/><circle cx="226.2" cy="106.2" r="1.3" fill="#e09a28"/><circle cx="228.0" cy="107.5" r="1.3" fill="#3cb4e0"/><circle cx="230.1" cy="107.9" r="1.3" fill="#30a07c"/><circle cx="233.2" cy="107.9" r="1.3" fill="#e07064"/><circle cx="229.3" cy="109.7" r="1.3" fill="#6c90e0"/><circle cx="235.9" cy="109.3" r="1.3" fill="#40a040"/><circle cx="220.8" cy="108.8" r="1.3" fill="#40a040"/><circle cx="217.3" cy="110.6" r="1.3" fill="#e060b8"/><circle cx="231.9" cy="111.9" r="1.3" fill="#a0b030"/><circle cx="235.5" cy="111.9" r="1.3" fill="#e09a28"/><circle cx="228.4" cy="113.2" r="1.3" fill="#a0b030"/><circle cx="229.7" cy="114.6" r="1.3" fill="#3cb4e0"/><circle cx="219.1" cy="113.2" r="1.3" fill="#3cb4e0"/><circle cx="218.2" cy="115.5" r="1.3" fill="#e07064"/><circle cx="216.4" cy="116.3" r="1.3" fill="#6c90e0"/><circle cx="222.6" cy="116.8" r="1.3" fill="#6c90e0"/><circle cx="225.7" cy="117.2" r="1.3" fill="#6c90e0"/><circle cx="231.9" cy="112.4" r="1.3" fill="#40a040"/><circle cx="270.1" cy="62.9" r="1.3" fill="#e09a28"/><circle cx="271.9" cy="62.9" r="1.3" fill="#e07064"/><circle cx="274.5" cy="63.8" r="1.3" fill="#40a040"/><circle cx="264.3" cy="66.0" r="1.3" fill="#e09a28"/><circle cx="263.9" cy="67.8" r="1.3" fill="#40a040"/><circle cx="273.6" cy="66.4" r="1.3" fill="#e09a28"/><circle cx="275.0" cy="67.8" r="1.3" fill="#a0b030"/><circle cx="267.9" cy="72.2" r="1.3" fill="#40a040"/><circle cx="270.5" cy="73.5" r="1.3" fill="#e060b8"/><circle cx="273.2" cy="73.1" r="1.3" fill="#e060b8"/><circle cx="274.1" cy="74.8" r="1.3" fill="#e07064"/><circle cx="262.1" cy="72.6" r="1.3" fill="#e060b8"/><circle cx="263.9" cy="73.9" r="1.3" fill="#3cb4e0"/><circle cx="259.9" cy="74.8" r="1.3" fill="#3cb4e0"/><circle cx="257.3" cy="76.2" r="1.3" fill="#3cb4e0"/><circle cx="259.9" cy="76.2" r="1.3" fill="#d050d0"/><circle cx="262.1" cy="76.6" r="1.3" fill="#3cb4e0"/><circle cx="265.7" cy="76.2" r="1.3" fill="#3cb4e0"/><circle cx="270.1" cy="76.2" r="1.3" fill="#b070d0"/><circle cx="255.0" cy="78.4" r="1.3" fill="#e07064"/><circle cx="254.2" cy="78.8" r="1.3" fill="#e09a28"/><circle cx="256.8" cy="79.3" r="1.3" fill="#3cb4e0"/><circle cx="262.1" cy="79.3" r="1.3" fill="#40a040"/><circle cx="264.8" cy="78.4" r="1.3" fill="#30a07c"/><circle cx="267.4" cy="78.8" r="1.3" fill="#3cb4e0"/><circle cx="260.8" cy="80.6" r="1.3" fill="#6c90e0"/><circle cx="265.7" cy="80.6" r="1.3" fill="#a0b030"/><circle cx="259.0" cy="82.8" r="1.3" fill="#e09a28"/><circle cx="254.6" cy="83.2" r="1.3" fill="#3cb4e0"/><circle cx="263.9" cy="83.2" r="1.3" fill="#3cb4e0"/><circle cx="262.1" cy="85.0" r="1.3" fill="#3cb4e0"/><circle cx="260.4" cy="85.5" r="1.3" fill="#a0b030"/><circle cx="252.4" cy="85.0" r="1.3" fill="#40a040"/><circle cx="248.8" cy="85.5" r="1.3" fill="#e09a28"/><circle cx="255.5" cy="85.9" r="1.3" fill="#e060b8"/><circle cx="243.1" cy="87.7" r="1.3" fill="#3cb4e0"/><circle cx="248.4" cy="87.7" r="1.3" fill="#6c90e0"/><circle cx="250.2" cy="87.7" r="1.3" fill="#e09a28"/><circle cx="253.7" cy="88.1" r="1.3" fill="#3cb4e0"/><circle cx="256.8" cy="88.5" r="1.3" fill="#40a040"/><circle cx="255.9" cy="88.5" r="1.3" fill="#a0b030"/><circle cx="259.9" cy="89.0" r="1.3" fill="#e060b8"/><circle cx="245.3" cy="90.8" r="1.3" fill="#a0b030"/><circle cx="247.5" cy="90.8" r="1.3" fill="#6c90e0"/><circle cx="251.1" cy="90.3" r="1.3" fill="#3cb4e0"/><circle cx="258.6" cy="90.3" r="1.3" fill="#e060b8"/><circle cx="246.6" cy="93.0" r="1.3" fill="#e07064"/><circle cx="250.2" cy="92.5" r="1.3" fill="#e060b8"/><circle cx="254.2" cy="92.5" r="1.3" fill="#e09a28"/><circle cx="256.4" cy="93.0" r="1.3" fill="#e09a28"/><circle cx="243.5" cy="95.6" r="1.3" fill="#30a07c"/><circle cx="249.7" cy="95.2" r="1.3" fill="#3cb4e0"/><circle cx="253.7" cy="95.6" r="1.3" fill="#3cb4e0"/><circle cx="240.4" cy="94.3" r="1.3" fill="#b070d0"/><circle cx="295.0" cy="38.2" r="1.3" fill="#6c90e0"/><circle cx="297.2" cy="36.9" r="1.3" fill="#3cb4e0"/><circle cx="299.0" cy="39.1" r="1.3" fill="#e09a28"/><circle cx="290.6" cy="43.1" r="1.3" fill="#3cb4e0"/><circle cx="293.2" cy="44.0" r="1.3" fill="#e09a28"/><circle cx="290.6" cy="47.1" r="1.3" fill="#e060b8"/><circle cx="287.9" cy="47.9" r="1.3" fill="#3cb4e0"/><circle cx="289.7" cy="49.7" r="1.3" fill="#30a07c"/><circle cx="303.0" cy="47.5" r="1.3" fill="#6c90e0"/><circle cx="297.6" cy="48.8" r="1.3" fill="#a0b030"/><circle cx="301.2" cy="49.7" r="1.3" fill="#e07064"/><circle cx="296.3" cy="51.9" r="1.3" fill="#30a07c"/><circle cx="298.5" cy="52.4" r="1.3" fill="#40a040"/><circle cx="294.5" cy="51.0" r="1.3" fill="#e060b8"/><circle cx="285.7" cy="51.9" r="1.3" fill="#6c90e0"/><circle cx="288.8" cy="52.8" r="1.3" fill="#3cb4e0"/><circle cx="284.4" cy="54.1" r="1.3" fill="#e060b8"/><circle cx="293.7" cy="54.1" r="1.3" fill="#b070d0"/><circle cx="297.6" cy="53.7" r="1.3" fill="#e07064"/><circle cx="301.2" cy="54.1" r="1.3" fill="#3cb4e0"/><circle cx="302.5" cy="53.3" r="1.3" fill="#3cb4e0"/><circle cx="285.7" cy="55.0" r="1.3" fill="#3cb4e0"/><circle cx="287.9" cy="55.5" r="1.3" fill="#3cb4e0"/><circle cx="289.2" cy="56.8" r="1.3" fill="#3cb4e0"/><circle cx="286.1" cy="57.7" r="1.3" fill="#a0b030"/><circle cx="290.1" cy="59.0" r="1.3" fill="#e09a28"/><circle cx="269.8" cy="58.6" r="1.3" fill="#3cb4e0"/><circle cx="281.3" cy="62.1" r="1.3" fill="#e09a28"/><circle cx="283.5" cy="62.1" r="1.3" fill="#3cb4e0"/><circle cx="281.7" cy="64.8" r="1.3" fill="#3cb4e0"/><circle cx="270.2" cy="63.0" r="1.3" fill="#e09a28"/><circle cx="271.5" cy="63.0" r="1.3" fill="#e07064"/><circle cx="274.6" cy="63.9" r="1.3" fill="#40a040"/><circle cx="273.8" cy="66.5" r="1.3" fill="#e09a28"/><circle cx="276.8" cy="66.1" r="1.3" fill="#3cb4e0"/><circle cx="279.1" cy="67.0" r="1.3" fill="#30a07c"/><circle cx="275.1" cy="67.9" r="1.3" fill="#e09a28"/><circle cx="278.2" cy="69.2" r="1.3" fill="#6c90e0"/><circle cx="279.1" cy="71.0" r="1.3" fill="#e09a28"/><circle cx="310.2" cy="24.4" r="1.3" fill="#3cb4e0"/><circle cx="311.9" cy="25.7" r="1.3" fill="#a0b030"/><circle cx="314.1" cy="24.4" r="1.3" fill="#b070d0"/><circle cx="315.9" cy="25.3" r="1.3" fill="#3cb4e0"/><circle cx="309.3" cy="27.0" r="1.3" fill="#3cb4e0"/><circle cx="315.9" cy="28.4" r="1.3" fill="#e060b8"/><circle cx="315.0" cy="30.1" r="1.3" fill="#6c90e0"/><circle cx="317.2" cy="31.0" r="1.3" fill="#a0b030"/><circle cx="323.0" cy="26.2" r="1.3" fill="#6c90e0"/><circle cx="326.1" cy="27.0" r="1.3" fill="#a0b030"/><circle cx="322.5" cy="28.4" r="1.3" fill="#e060b8"/><circle cx="323.0" cy="30.6" r="1.3" fill="#3cb4e0"/><circle cx="324.3" cy="31.5" r="1.3" fill="#a0b030"/><circle cx="328.7" cy="28.8" r="1.3" fill="#30a07c"/><circle cx="330.5" cy="30.1" r="1.3" fill="#d050d0"/><circle cx="331.0" cy="32.4" r="1.3" fill="#30a07c"/><circle cx="311.5" cy="31.9" r="1.3" fill="#e060b8"/><circle cx="317.7" cy="33.2" r="1.3" fill="#b070d0"/><circle cx="312.4" cy="34.6" r="1.3" fill="#e060b8"/><circle cx="315.0" cy="35.0" r="1.3" fill="#3cb4e0"/><circle cx="301.8" cy="32.4" r="1.3" fill="#3cb4e0"/><circle cx="304.0" cy="33.7" r="1.3" fill="#3cb4e0"/><circle cx="298.7" cy="34.1" r="1.3" fill="#e09a28"/><circle cx="299.5" cy="35.9" r="1.3" fill="#e060b8"/><circle cx="296.9" cy="35.5" r="1.3" fill="#3cb4e0"/><circle cx="302.2" cy="34.6" r="1.3" fill="#e060b8"/><circle cx="299.1" cy="38.5" r="1.3" fill="#a0b030"/><circle cx="309.3" cy="38.1" r="1.3" fill="#3cb4e0"/><circle cx="310.2" cy="38.5" r="1.3" fill="#b070d0"/><circle cx="316.4" cy="38.1" r="1.3" fill="#e07064"/><circle cx="321.2" cy="36.3" r="1.3" fill="#e060b8"/><circle cx="322.5" cy="35.5" r="1.3" fill="#3cb4e0"/><circle cx="323.0" cy="38.5" r="1.3" fill="#e060b8"/><circle cx="311.9" cy="40.3" r="1.3" fill="#a0b030"/><circle cx="309.7" cy="41.6" r="1.3" fill="#6c90e0"/><circle cx="318.1" cy="40.8" r="1.3" fill="#6c90e0"/><circle cx="319.9" cy="40.3" r="1.3" fill="#40a040"/><circle cx="311.5" cy="43.4" r="1.3" fill="#e060b8"/><circle cx="306.6" cy="44.7" r="1.3" fill="#6c90e0"/><circle cx="304.0" cy="47.4" r="1.3" fill="#6c90e0"/><circle cx="312.8" cy="46.1" r="1.3" fill="#3cb4e0"/><circle cx="314.6" cy="46.1" r="1.3" fill="#e07064"/><circle cx="337.2" cy="17.0" r="1.3" fill="#e07064"/><circle cx="338.6" cy="17.5" r="1.3" fill="#a0b030"/><circle cx="337.7" cy="23.7" r="1.3" fill="#e09a28"/><circle cx="339.9" cy="23.7" r="1.3" fill="#3cb4e0"/><circle cx="339.9" cy="25.5" r="1.3" fill="#40a040"/><circle cx="341.7" cy="26.8" r="1.3" fill="#3cb4e0"/><circle cx="333.7" cy="25.9" r="1.3" fill="#e07064"/></g>
<g transform="translate(167,0.5)"><polygon points="214.0,112.0 226.0,102.0 236.0,93.0 243.0,86.0 255.0,73.0 262.0,67.0 270.0,58.0 278.0,50.0 289.0,41.0 299.0,33.0 312.0,22.0 322.0,13.5 329.0,12.0 335.0,9.5 339.0,8.5 342.5,9.5 343.8,20.0 342.5,28.0 338.0,31.0 332.0,34.5 321.5,44.0 314.0,49.0 307.0,54.0 299.0,57.5 292.0,63.0 284.0,69.5 274.0,79.5 262.0,91.0 248.0,103.0 232.5,115.0 219.0,124.0" fill="#fdf6fc"/><clipPath id="cp167"><polygon points="214.0,112.0 226.0,102.0 236.0,93.0 243.0,86.0 255.0,73.0 262.0,67.0 270.0,58.0 278.0,50.0 289.0,41.0 299.0,33.0 312.0,22.0 322.0,13.5 329.0,12.0 335.0,9.5 339.0,8.5 342.5,9.5 343.8,20.0 342.5,28.0 338.0,31.0 332.0,34.5 321.5,44.0 314.0,49.0 307.0,54.0 299.0,57.5 292.0,63.0 284.0,69.5 274.0,79.5 262.0,91.0 248.0,103.0 232.5,115.0 219.0,124.0"/></clipPath><g fill="#eab0e6" opacity="0.72" clip-path="url(#cp167)"><ellipse cx="270.9" cy="74.0" rx="4.5" ry="0.44" transform="rotate(-86 270.9 74.0)"/><ellipse cx="273.0" cy="70.8" rx="1.8" ry="0.34" transform="rotate(62 273.0 70.8)"/><ellipse cx="267.1" cy="64.1" rx="1.9" ry="0.58" transform="rotate(-83 267.1 64.1)"/><ellipse cx="257.9" cy="87.8" rx="4.4" ry="0.34" transform="rotate(71 257.9 87.8)"/><ellipse cx="329.4" cy="36.1" rx="2.4" ry="0.54" transform="rotate(61 329.4 36.1)"/><ellipse cx="318.8" cy="36.5" rx="3.8" ry="0.35" transform="rotate(60 318.8 36.5)"/><ellipse cx="328.5" cy="18.4" rx="2.1" ry="0.38" transform="rotate(27 328.5 18.4)"/><ellipse cx="277.6" cy="58.7" rx="3.5" ry="0.57" transform="rotate(29 277.6 58.7)"/><ellipse cx="240.3" cy="104.6" rx="4.4" ry="0.44" transform="rotate(47 240.3 104.6)"/><ellipse cx="282.3" cy="63.2" rx="3.7" ry="0.41" transform="rotate(33 282.3 63.2)"/><ellipse cx="262.8" cy="75.1" rx="2.0" ry="0.52" transform="rotate(-51 262.8 75.1)"/><ellipse cx="224.6" cy="117.1" rx="4.3" ry="0.57" transform="rotate(87 224.6 117.1)"/><ellipse cx="311.1" cy="43.8" rx="3.0" ry="0.57" transform="rotate(35 311.1 43.8)"/><ellipse cx="232.3" cy="100.9" rx="2.4" ry="0.46" transform="rotate(21 232.3 100.9)"/><ellipse cx="281.7" cy="57.1" rx="2.0" ry="0.30" transform="rotate(27 281.7 57.1)"/><ellipse cx="319.9" cy="36.3" rx="3.8" ry="0.42" transform="rotate(-64 319.9 36.3)"/><ellipse cx="246.9" cy="82.5" rx="3.2" ry="0.48" transform="rotate(-27 246.9 82.5)"/><ellipse cx="280.3" cy="60.3" rx="2.7" ry="0.37" transform="rotate(-50 280.3 60.3)"/><ellipse cx="225.7" cy="115.6" rx="2.7" ry="0.46" transform="rotate(-55 225.7 115.6)"/><ellipse cx="297.8" cy="50.1" rx="2.4" ry="0.31" transform="rotate(-43 297.8 50.1)"/><ellipse cx="331.8" cy="28.7" rx="4.2" ry="0.32" transform="rotate(62 331.8 28.7)"/><ellipse cx="295.7" cy="40.5" rx="2.5" ry="0.52" transform="rotate(-25 295.7 40.5)"/><ellipse cx="307.0" cy="49.5" rx="3.6" ry="0.58" transform="rotate(33 307.0 49.5)"/><ellipse cx="339.5" cy="13.6" rx="1.5" ry="0.38" transform="rotate(-75 339.5 13.6)"/><ellipse cx="248.6" cy="96.8" rx="2.5" ry="0.37" transform="rotate(57 248.6 96.8)"/><ellipse cx="333.2" cy="24.5" rx="2.9" ry="0.46" transform="rotate(53 333.2 24.5)"/><ellipse cx="215.1" cy="111.9" rx="2.7" ry="0.48" transform="rotate(-26 215.1 111.9)"/><ellipse cx="283.9" cy="49.7" rx="2.5" ry="0.34" transform="rotate(-54 283.9 49.7)"/><ellipse cx="218.0" cy="109.7" rx="1.6" ry="0.56" transform="rotate(35 218.0 109.7)"/><ellipse cx="309.9" cy="30.0" rx="4.3" ry="0.33" transform="rotate(30 309.9 30.0)"/><ellipse cx="240.7" cy="91.1" rx="1.8" ry="0.53" transform="rotate(56 240.7 91.1)"/><ellipse cx="295.0" cy="48.0" rx="2.5" ry="0.43" transform="rotate(60 295.0 48.0)"/><ellipse cx="218.1" cy="113.0" rx="3.8" ry="0.48" transform="rotate(56 218.1 113.0)"/><ellipse cx="273.8" cy="61.8" rx="3.8" ry="0.40" transform="rotate(-84 273.8 61.8)"/><ellipse cx="305.5" cy="42.6" rx="2.0" ry="0.30" transform="rotate(63 305.5 42.6)"/><ellipse cx="244.4" cy="100.8" rx="3.6" ry="0.55" transform="rotate(20 244.4 100.8)"/><ellipse cx="340.6" cy="18.6" rx="2.4" ry="0.36" transform="rotate(-26 340.6 18.6)"/><ellipse cx="304.5" cy="42.3" rx="3.2" ry="0.33" transform="rotate(-75 304.5 42.3)"/><ellipse cx="254.6" cy="76.2" rx="4.2" ry="0.31" transform="rotate(65 254.6 76.2)"/><ellipse cx="241.7" cy="93.2" rx="2.2" ry="0.44" transform="rotate(-22 241.7 93.2)"/><ellipse cx="284.1" cy="63.2" rx="3.1" ry="0.56" transform="rotate(52 284.1 63.2)"/><ellipse cx="272.9" cy="69.3" rx="3.2" ry="0.34" transform="rotate(43 272.9 69.3)"/><ellipse cx="276.8" cy="73.4" rx="4.0" ry="0.49" transform="rotate(-36 276.8 73.4)"/><ellipse cx="311.9" cy="49.3" rx="2.5" ry="0.36" transform="rotate(-33 311.9 49.3)"/><ellipse cx="341.8" cy="19.7" rx="2.0" ry="0.34" transform="rotate(68 341.8 19.7)"/><ellipse cx="253.3" cy="82.4" rx="2.1" ry="0.42" transform="rotate(25 253.3 82.4)"/><ellipse cx="220.5" cy="113.4" rx="2.4" ry="0.31" transform="rotate(0 220.5 113.4)"/><ellipse cx="251.1" cy="94.4" rx="3.2" ry="0.52" transform="rotate(64 251.1 94.4)"/><ellipse cx="267.1" cy="67.5" rx="3.3" ry="0.37" transform="rotate(49 267.1 67.5)"/><ellipse cx="237.9" cy="94.0" rx="2.2" ry="0.42" transform="rotate(33 237.9 94.0)"/><ellipse cx="303.1" cy="34.3" rx="3.1" ry="0.50" transform="rotate(44 303.1 34.3)"/><ellipse cx="330.5" cy="32.3" rx="1.6" ry="0.46" transform="rotate(-45 330.5 32.3)"/><ellipse cx="239.3" cy="105.4" rx="2.9" ry="0.36" transform="rotate(-72 239.3 105.4)"/><ellipse cx="271.6" cy="57.3" rx="4.3" ry="0.36" transform="rotate(-28 271.6 57.3)"/><ellipse cx="301.5" cy="41.8" rx="3.4" ry="0.38" transform="rotate(26 301.5 41.8)"/><ellipse cx="261.2" cy="69.5" rx="2.6" ry="0.38" transform="rotate(23 261.2 69.5)"/><ellipse cx="247.1" cy="98.1" rx="2.9" ry="0.35" transform="rotate(46 247.1 98.1)"/><ellipse cx="331.9" cy="12.7" rx="2.2" ry="0.59" transform="rotate(26 331.9 12.7)"/><ellipse cx="262.0" cy="82.0" rx="3.8" ry="0.49" transform="rotate(61 262.0 82.0)"/><ellipse cx="314.8" cy="33.6" rx="2.3" ry="0.43" transform="rotate(37 314.8 33.6)"/><ellipse cx="237.6" cy="91.8" rx="2.5" ry="0.45" transform="rotate(34 237.6 91.8)"/><ellipse cx="290.7" cy="42.1" rx="1.7" ry="0.55" transform="rotate(28 290.7 42.1)"/><ellipse cx="334.2" cy="27.6" rx="3.5" ry="0.36" transform="rotate(-51 334.2 27.6)"/><ellipse cx="225.0" cy="108.2" rx="3.8" ry="0.40" transform="rotate(-37 225.0 108.2)"/><ellipse cx="238.9" cy="107.9" rx="4.4" ry="0.33" transform="rotate(70 238.9 107.9)"/><ellipse cx="331.6" cy="23.4" rx="3.1" ry="0.52" transform="rotate(-36 331.6 23.4)"/><ellipse cx="274.1" cy="76.1" rx="2.9" ry="0.47" transform="rotate(-38 274.1 76.1)"/><ellipse cx="279.6" cy="71.1" rx="4.1" ry="0.30" transform="rotate(-60 279.6 71.1)"/><ellipse cx="322.5" cy="27.0" rx="2.8" ry="0.60" transform="rotate(53 322.5 27.0)"/><ellipse cx="298.5" cy="38.6" rx="3.5" ry="0.58" transform="rotate(-44 298.5 38.6)"/><ellipse cx="261.9" cy="90.1" rx="2.1" ry="0.42" transform="rotate(-40 261.9 90.1)"/><ellipse cx="230.9" cy="99.7" rx="3.8" ry="0.36" transform="rotate(50 230.9 99.7)"/><ellipse cx="270.1" cy="68.9" rx="2.7" ry="0.45" transform="rotate(61 270.1 68.9)"/><ellipse cx="251.2" cy="89.2" rx="2.1" ry="0.51" transform="rotate(53 251.2 89.2)"/><ellipse cx="236.1" cy="111.4" rx="4.2" ry="0.46" transform="rotate(-18 236.1 111.4)"/><ellipse cx="222.1" cy="110.6" rx="3.8" ry="0.32" transform="rotate(76 222.1 110.6)"/><ellipse cx="278.7" cy="63.1" rx="3.3" ry="0.50" transform="rotate(31 278.7 63.1)"/><ellipse cx="245.1" cy="98.3" rx="4.1" ry="0.43" transform="rotate(-41 245.1 98.3)"/><ellipse cx="232.3" cy="113.6" rx="3.2" ry="0.38" transform="rotate(64 232.3 113.6)"/><ellipse cx="254.2" cy="84.4" rx="3.0" ry="0.46" transform="rotate(-45 254.2 84.4)"/><ellipse cx="323.4" cy="35.1" rx="1.5" ry="0.42" transform="rotate(-42 323.4 35.1)"/><ellipse cx="293.3" cy="60.1" rx="1.7" ry="0.44" transform="rotate(-26 293.3 60.1)"/><ellipse cx="331.4" cy="25.2" rx="2.2" ry="0.34" transform="rotate(-42 331.4 25.2)"/><ellipse cx="273.3" cy="62.0" rx="2.6" ry="0.52" transform="rotate(-38 273.3 62.0)"/><ellipse cx="300.7" cy="36.0" rx="2.9" ry="0.58" transform="rotate(35 300.7 36.0)"/><ellipse cx="252.3" cy="98.2" rx="3.6" ry="0.49" transform="rotate(-87 252.3 98.2)"/><ellipse cx="264.0" cy="72.7" rx="1.7" ry="0.41" transform="rotate(60 264.0 72.7)"/><ellipse cx="287.2" cy="53.3" rx="4.4" ry="0.35" transform="rotate(27 287.2 53.3)"/><ellipse cx="317.7" cy="31.5" rx="2.5" ry="0.38" transform="rotate(-41 317.7 31.5)"/><ellipse cx="294.9" cy="52.0" rx="4.4" ry="0.55" transform="rotate(67 294.9 52.0)"/><ellipse cx="289.6" cy="48.3" rx="2.6" ry="0.53" transform="rotate(-22 289.6 48.3)"/><ellipse cx="246.4" cy="92.7" rx="3.3" ry="0.54" transform="rotate(-34 246.4 92.7)"/><ellipse cx="325.0" cy="14.2" rx="1.9" ry="0.59" transform="rotate(66 325.0 14.2)"/><ellipse cx="317.8" cy="33.4" rx="3.2" ry="0.54" transform="rotate(6 317.8 33.4)"/><ellipse cx="244.1" cy="100.8" rx="2.7" ry="0.51" transform="rotate(19 244.1 100.8)"/><ellipse cx="335.6" cy="22.4" rx="3.9" ry="0.53" transform="rotate(7 335.6 22.4)"/><ellipse cx="247.1" cy="94.8" rx="3.0" ry="0.36" transform="rotate(64 247.1 94.8)"/><ellipse cx="241.4" cy="90.0" rx="2.7" ry="0.46" transform="rotate(34 241.4 90.0)"/><ellipse cx="233.4" cy="96.6" rx="2.9" ry="0.32" transform="rotate(-71 233.4 96.6)"/><ellipse cx="252.9" cy="76.5" rx="4.5" ry="0.56" transform="rotate(-47 252.9 76.5)"/><ellipse cx="277.2" cy="65.2" rx="3.8" ry="0.55" transform="rotate(59 277.2 65.2)"/><ellipse cx="338.2" cy="13.6" rx="1.6" ry="0.31" transform="rotate(-54 338.2 13.6)"/><ellipse cx="264.5" cy="81.2" rx="3.4" ry="0.58" transform="rotate(71 264.5 81.2)"/><ellipse cx="301.7" cy="33.7" rx="3.0" ry="0.35" transform="rotate(-74 301.7 33.7)"/><ellipse cx="322.7" cy="24.0" rx="4.3" ry="0.32" transform="rotate(56 322.7 24.0)"/><ellipse cx="281.1" cy="48.6" rx="3.4" ry="0.60" transform="rotate(2 281.1 48.6)"/><ellipse cx="222.1" cy="108.1" rx="3.3" ry="0.43" transform="rotate(67 222.1 108.1)"/><ellipse cx="297.8" cy="46.1" rx="2.0" ry="0.37" transform="rotate(40 297.8 46.1)"/><ellipse cx="236.4" cy="105.8" rx="2.0" ry="0.55" transform="rotate(-55 236.4 105.8)"/><ellipse cx="227.5" cy="111.8" rx="4.3" ry="0.42" transform="rotate(-44 227.5 111.8)"/><ellipse cx="217.3" cy="110.8" rx="3.4" ry="0.34" transform="rotate(-26 217.3 110.8)"/><ellipse cx="242.3" cy="88.4" rx="2.3" ry="0.42" transform="rotate(-34 242.3 88.4)"/><ellipse cx="235.5" cy="99.0" rx="1.8" ry="0.44" transform="rotate(37 235.5 99.0)"/><ellipse cx="273.5" cy="58.8" rx="3.2" ry="0.55" transform="rotate(-40 273.5 58.8)"/><ellipse cx="233.7" cy="109.4" rx="4.3" ry="0.33" transform="rotate(-26 233.7 109.4)"/><ellipse cx="256.2" cy="93.3" rx="1.5" ry="0.54" transform="rotate(-37 256.2 93.3)"/><ellipse cx="256.7" cy="75.3" rx="2.6" ry="0.31" transform="rotate(-55 256.7 75.3)"/><ellipse cx="266.0" cy="69.8" rx="3.6" ry="0.36" transform="rotate(-50 266.0 69.8)"/><ellipse cx="224.8" cy="104.9" rx="1.9" ry="0.50" transform="rotate(-37 224.8 104.9)"/><ellipse cx="292.2" cy="43.4" rx="2.7" ry="0.52" transform="rotate(35 292.2 43.4)"/><ellipse cx="225.5" cy="116.3" rx="1.8" ry="0.42" transform="rotate(62 225.5 116.3)"/><ellipse cx="309.4" cy="28.5" rx="1.6" ry="0.51" transform="rotate(32 309.4 28.5)"/><ellipse cx="290.5" cy="60.4" rx="1.9" ry="0.51" transform="rotate(-44 290.5 60.4)"/><ellipse cx="323.2" cy="37.9" rx="2.4" ry="0.33" transform="rotate(-45 323.2 37.9)"/><ellipse cx="308.1" cy="38.1" rx="4.4" ry="0.37" transform="rotate(-54 308.1 38.1)"/><ellipse cx="237.8" cy="93.6" rx="4.3" ry="0.52" transform="rotate(-47 237.8 93.6)"/><ellipse cx="252.3" cy="95.4" rx="1.8" ry="0.56" transform="rotate(43 252.3 95.4)"/><ellipse cx="302.7" cy="31.7" rx="1.8" ry="0.34" transform="rotate(45 302.7 31.7)"/><ellipse cx="329.0" cy="24.3" rx="3.7" ry="0.35" transform="rotate(31 329.0 24.3)"/><ellipse cx="325.1" cy="38.3" rx="1.6" ry="0.59" transform="rotate(61 325.1 38.3)"/><ellipse cx="222.7" cy="111.1" rx="3.9" ry="0.57" transform="rotate(39 222.7 111.1)"/><ellipse cx="322.9" cy="37.7" rx="2.2" ry="0.43" transform="rotate(46 322.9 37.7)"/><ellipse cx="294.1" cy="46.0" rx="3.5" ry="0.37" transform="rotate(-12 294.1 46.0)"/><ellipse cx="268.3" cy="70.3" rx="1.6" ry="0.49" transform="rotate(-25 268.3 70.3)"/><ellipse cx="251.7" cy="92.5" rx="1.8" ry="0.34" transform="rotate(76 251.7 92.5)"/><ellipse cx="217.0" cy="113.6" rx="1.9" ry="0.48" transform="rotate(-54 217.0 113.6)"/><ellipse cx="339.1" cy="18.5" rx="2.8" ry="0.45" transform="rotate(-47 339.1 18.5)"/><ellipse cx="332.4" cy="31.7" rx="3.1" ry="0.55" transform="rotate(42 332.4 31.7)"/><ellipse cx="292.8" cy="51.9" rx="4.2" ry="0.39" transform="rotate(30 292.8 51.9)"/><ellipse cx="278.1" cy="70.4" rx="2.6" ry="0.48" transform="rotate(-56 278.1 70.4)"/><ellipse cx="217.4" cy="115.1" rx="2.3" ry="0.56" transform="rotate(32 217.4 115.1)"/><ellipse cx="241.6" cy="89.0" rx="2.8" ry="0.32" transform="rotate(48 241.6 89.0)"/><ellipse cx="264.8" cy="74.9" rx="3.7" ry="0.35" transform="rotate(-49 264.8 74.9)"/><ellipse cx="257.9" cy="79.2" rx="1.8" ry="0.56" transform="rotate(63 257.9 79.2)"/><ellipse cx="338.3" cy="30.2" rx="1.9" ry="0.56" transform="rotate(24 338.3 30.2)"/><ellipse cx="218.4" cy="120.6" rx="1.9" ry="0.55" transform="rotate(83 218.4 120.6)"/><ellipse cx="253.0" cy="90.1" rx="3.7" ry="0.39" transform="rotate(63 253.0 90.1)"/><ellipse cx="266.0" cy="76.4" rx="2.6" ry="0.39" transform="rotate(36 266.0 76.4)"/><ellipse cx="285.1" cy="63.5" rx="2.5" ry="0.55" transform="rotate(39 285.1 63.5)"/><ellipse cx="326.8" cy="37.4" rx="1.6" ry="0.38" transform="rotate(-49 326.8 37.4)"/><ellipse cx="328.6" cy="18.9" rx="3.1" ry="0.46" transform="rotate(36 328.6 18.9)"/><ellipse cx="301.6" cy="41.7" rx="3.5" ry="0.46" transform="rotate(-44 301.6 41.7)"/><ellipse cx="229.0" cy="106.5" rx="4.4" ry="0.45" transform="rotate(-43 229.0 106.5)"/><ellipse cx="272.3" cy="71.7" rx="2.0" ry="0.40" transform="rotate(-25 272.3 71.7)"/><ellipse cx="342.4" cy="20.8" rx="2.5" ry="0.58" transform="rotate(71 342.4 20.8)"/><ellipse cx="282.9" cy="69.4" rx="3.0" ry="0.36" transform="rotate(-36 282.9 69.4)"/><ellipse cx="241.1" cy="101.0" rx="3.7" ry="0.51" transform="rotate(89 241.1 101.0)"/><ellipse cx="215.5" cy="111.1" rx="4.0" ry="0.48" transform="rotate(48 215.5 111.1)"/><ellipse cx="297.6" cy="39.6" rx="4.2" ry="0.45" transform="rotate(-42 297.6 39.6)"/><ellipse cx="233.6" cy="99.3" rx="1.8" ry="0.33" transform="rotate(3 233.6 99.3)"/><ellipse cx="238.9" cy="100.8" rx="3.5" ry="0.51" transform="rotate(-30 238.9 100.8)"/><ellipse cx="285.4" cy="47.8" rx="1.8" ry="0.57" transform="rotate(-84 285.4 47.8)"/><ellipse cx="287.4" cy="51.0" rx="3.2" ry="0.59" transform="rotate(39 287.4 51.0)"/><ellipse cx="272.2" cy="71.7" rx="2.4" ry="0.57" transform="rotate(-48 272.2 71.7)"/><ellipse cx="317.8" cy="26.3" rx="2.2" ry="0.42" transform="rotate(-37 317.8 26.3)"/><ellipse cx="304.5" cy="35.0" rx="1.8" ry="0.35" transform="rotate(-46 304.5 35.0)"/><ellipse cx="260.5" cy="68.9" rx="3.1" ry="0.42" transform="rotate(40 260.5 68.9)"/><ellipse cx="263.8" cy="67.1" rx="2.7" ry="0.44" transform="rotate(-51 263.8 67.1)"/><ellipse cx="259.4" cy="79.7" rx="3.6" ry="0.33" transform="rotate(-47 259.4 79.7)"/><ellipse cx="253.3" cy="94.5" rx="2.0" ry="0.41" transform="rotate(-51 253.3 94.5)"/><ellipse cx="306.4" cy="37.6" rx="2.1" ry="0.56" transform="rotate(81 306.4 37.6)"/><ellipse cx="305.0" cy="53.1" rx="3.1" ry="0.42" transform="rotate(50 305.0 53.1)"/><ellipse cx="276.6" cy="55.0" rx="3.7" ry="0.53" transform="rotate(54 276.6 55.0)"/><ellipse cx="221.4" cy="117.8" rx="2.0" ry="0.56" transform="rotate(38 221.4 117.8)"/><ellipse cx="258.3" cy="86.0" rx="3.8" ry="0.36" transform="rotate(-25 258.3 86.0)"/><ellipse cx="303.3" cy="32.3" rx="2.7" ry="0.57" transform="rotate(61 303.3 32.3)"/><ellipse cx="318.1" cy="42.6" rx="2.6" ry="0.54" transform="rotate(-29 318.1 42.6)"/><ellipse cx="306.9" cy="50.9" rx="2.6" ry="0.49" transform="rotate(55 306.9 50.9)"/><ellipse cx="237.8" cy="93.9" rx="2.7" ry="0.48" transform="rotate(-28 237.8 93.9)"/><ellipse cx="272.2" cy="75.0" rx="3.4" ry="0.35" transform="rotate(9 272.2 75.0)"/><ellipse cx="323.3" cy="29.3" rx="3.2" ry="0.58" transform="rotate(-12 323.3 29.3)"/><ellipse cx="232.8" cy="110.2" rx="3.3" ry="0.31" transform="rotate(68 232.8 110.2)"/><ellipse cx="245.3" cy="86.5" rx="4.2" ry="0.43" transform="rotate(75 245.3 86.5)"/><ellipse cx="314.9" cy="47.8" rx="4.3" ry="0.43" transform="rotate(31 314.9 47.8)"/><ellipse cx="337.0" cy="23.9" rx="3.0" ry="0.50" transform="rotate(61 337.0 23.9)"/><ellipse cx="244.3" cy="99.1" rx="1.6" ry="0.51" transform="rotate(-30 244.3 99.1)"/><ellipse cx="316.2" cy="26.6" rx="2.3" ry="0.59" transform="rotate(25 316.2 26.6)"/><ellipse cx="237.6" cy="98.6" rx="3.6" ry="0.50" transform="rotate(-65 237.6 98.6)"/><ellipse cx="245.4" cy="89.2" rx="3.6" ry="0.34" transform="rotate(42 245.4 89.2)"/><ellipse cx="306.3" cy="43.2" rx="3.8" ry="0.35" transform="rotate(51 306.3 43.2)"/><ellipse cx="300.8" cy="47.3" rx="3.6" ry="0.30" transform="rotate(-41 300.8 47.3)"/><ellipse cx="273.1" cy="56.4" rx="2.8" ry="0.33" transform="rotate(35 273.1 56.4)"/><ellipse cx="257.3" cy="82.5" rx="2.9" ry="0.59" transform="rotate(-44 257.3 82.5)"/><ellipse cx="278.5" cy="68.3" rx="3.0" ry="0.43" transform="rotate(-42 278.5 68.3)"/><ellipse cx="241.5" cy="99.0" rx="3.3" ry="0.52" transform="rotate(26 241.5 99.0)"/><ellipse cx="305.8" cy="45.4" rx="4.0" ry="0.39" transform="rotate(57 305.8 45.4)"/><ellipse cx="241.6" cy="100.8" rx="4.0" ry="0.52" transform="rotate(-60 241.6 100.8)"/><ellipse cx="255.3" cy="77.7" rx="4.3" ry="0.55" transform="rotate(-24 255.3 77.7)"/><ellipse cx="246.0" cy="84.6" rx="2.7" ry="0.32" transform="rotate(76 246.0 84.6)"/><ellipse cx="244.0" cy="94.3" rx="1.7" ry="0.51" transform="rotate(18 244.0 94.3)"/><ellipse cx="237.6" cy="100.4" rx="2.9" ry="0.37" transform="rotate(24 237.6 100.4)"/><ellipse cx="259.8" cy="70.0" rx="2.3" ry="0.50" transform="rotate(-37 259.8 70.0)"/><ellipse cx="279.4" cy="59.5" rx="4.2" ry="0.35" transform="rotate(-45 279.4 59.5)"/><ellipse cx="253.6" cy="85.5" rx="3.1" ry="0.46" transform="rotate(-38 253.6 85.5)"/><ellipse cx="270.2" cy="71.6" rx="3.4" ry="0.54" transform="rotate(-18 270.2 71.6)"/><ellipse cx="225.4" cy="114.2" rx="2.9" ry="0.49" transform="rotate(35 225.4 114.2)"/><ellipse cx="253.3" cy="83.5" rx="3.7" ry="0.51" transform="rotate(-56 253.3 83.5)"/><ellipse cx="236.3" cy="104.1" rx="3.2" ry="0.42" transform="rotate(-38 236.3 104.1)"/><ellipse cx="229.8" cy="102.3" rx="3.4" ry="0.36" transform="rotate(47 229.8 102.3)"/><ellipse cx="302.3" cy="49.1" rx="1.8" ry="0.45" transform="rotate(7 302.3 49.1)"/><ellipse cx="286.2" cy="45.7" rx="3.2" ry="0.51" transform="rotate(-11 286.2 45.7)"/><ellipse cx="308.5" cy="28.8" rx="2.7" ry="0.35" transform="rotate(-72 308.5 28.8)"/><ellipse cx="339.8" cy="18.9" rx="2.7" ry="0.31" transform="rotate(-32 339.8 18.9)"/><ellipse cx="223.1" cy="116.3" rx="2.8" ry="0.57" transform="rotate(-26 223.1 116.3)"/><ellipse cx="296.6" cy="55.9" rx="2.6" ry="0.55" transform="rotate(-38 296.6 55.9)"/><ellipse cx="320.5" cy="36.6" rx="3.7" ry="0.58" transform="rotate(-47 320.5 36.6)"/><ellipse cx="303.3" cy="31.1" rx="1.8" ry="0.58" transform="rotate(9 303.3 31.1)"/><ellipse cx="299.1" cy="40.1" rx="2.8" ry="0.54" transform="rotate(61 299.1 40.1)"/><ellipse cx="273.6" cy="56.8" rx="3.5" ry="0.55" transform="rotate(78 273.6 56.8)"/><ellipse cx="287.5" cy="48.6" rx="1.5" ry="0.40" transform="rotate(58 287.5 48.6)"/><ellipse cx="236.3" cy="102.6" rx="3.4" ry="0.49" transform="rotate(-29 236.3 102.6)"/><ellipse cx="293.6" cy="57.6" rx="4.1" ry="0.48" transform="rotate(-26 293.6 57.6)"/><ellipse cx="225.7" cy="108.3" rx="2.1" ry="0.55" transform="rotate(-49 225.7 108.3)"/><ellipse cx="306.6" cy="36.2" rx="3.2" ry="0.40" transform="rotate(67 306.6 36.2)"/><ellipse cx="219.0" cy="115.5" rx="1.9" ry="0.42" transform="rotate(-64 219.0 115.5)"/><ellipse cx="227.6" cy="117.8" rx="4.5" ry="0.31" transform="rotate(-44 227.6 117.8)"/><ellipse cx="287.9" cy="60.4" rx="1.8" ry="0.54" transform="rotate(24 287.9 60.4)"/><ellipse cx="314.3" cy="27.5" rx="3.7" ry="0.45" transform="rotate(27 314.3 27.5)"/><ellipse cx="294.4" cy="45.5" rx="3.5" ry="0.57" transform="rotate(40 294.4 45.5)"/><ellipse cx="315.5" cy="34.1" rx="1.9" ry="0.30" transform="rotate(-28 315.5 34.1)"/><ellipse cx="326.2" cy="23.4" rx="3.3" ry="0.34" transform="rotate(-42 326.2 23.4)"/><ellipse cx="304.9" cy="35.4" rx="4.3" ry="0.48" transform="rotate(-38 304.9 35.4)"/><ellipse cx="225.4" cy="105.9" rx="2.8" ry="0.56" transform="rotate(-26 225.4 105.9)"/><ellipse cx="225.4" cy="111.1" rx="3.8" ry="0.49" transform="rotate(-28 225.4 111.1)"/><ellipse cx="243.8" cy="86.0" rx="4.1" ry="0.49" transform="rotate(42 243.8 86.0)"/><ellipse cx="243.6" cy="101.0" rx="2.5" ry="0.34" transform="rotate(-76 243.6 101.0)"/><ellipse cx="241.2" cy="99.1" rx="2.5" ry="0.56" transform="rotate(-29 241.2 99.1)"/><ellipse cx="220.0" cy="115.1" rx="3.9" ry="0.33" transform="rotate(60 220.0 115.1)"/><ellipse cx="294.7" cy="55.1" rx="1.6" ry="0.40" transform="rotate(-25 294.7 55.1)"/><ellipse cx="296.7" cy="43.1" rx="1.8" ry="0.35" transform="rotate(-43 296.7 43.1)"/><ellipse cx="236.8" cy="107.1" rx="3.5" ry="0.56" transform="rotate(-14 236.8 107.1)"/><ellipse cx="239.5" cy="108.9" rx="2.9" ry="0.31" transform="rotate(21 239.5 108.9)"/><ellipse cx="298.5" cy="49.8" rx="3.1" ry="0.58" transform="rotate(55 298.5 49.8)"/><ellipse cx="231.0" cy="98.0" rx="2.0" ry="0.49" transform="rotate(53 231.0 98.0)"/><ellipse cx="270.3" cy="82.1" rx="3.0" ry="0.47" transform="rotate(-68 270.3 82.1)"/><ellipse cx="242.9" cy="105.4" rx="4.1" ry="0.53" transform="rotate(-58 242.9 105.4)"/><ellipse cx="280.5" cy="56.7" rx="3.4" ry="0.40" transform="rotate(-34 280.5 56.7)"/><ellipse cx="317.4" cy="31.3" rx="1.5" ry="0.54" transform="rotate(-71 317.4 31.3)"/><ellipse cx="334.5" cy="24.9" rx="4.3" ry="0.49" transform="rotate(31 334.5 24.9)"/><ellipse cx="243.8" cy="91.0" rx="2.5" ry="0.43" transform="rotate(-47 243.8 91.0)"/><ellipse cx="254.7" cy="94.2" rx="4.1" ry="0.56" transform="rotate(69 254.7 94.2)"/><ellipse cx="252.4" cy="93.5" rx="4.1" ry="0.37" transform="rotate(34 252.4 93.5)"/><ellipse cx="257.8" cy="85.3" rx="4.1" ry="0.52" transform="rotate(-26 257.8 85.3)"/><ellipse cx="224.1" cy="116.7" rx="3.6" ry="0.54" transform="rotate(42 224.1 116.7)"/><ellipse cx="238.9" cy="108.1" rx="1.8" ry="0.35" transform="rotate(35 238.9 108.1)"/><ellipse cx="298.7" cy="36.2" rx="4.4" ry="0.31" transform="rotate(66 298.7 36.2)"/><ellipse cx="248.7" cy="97.7" rx="3.2" ry="0.51" transform="rotate(-34 248.7 97.7)"/><ellipse cx="304.2" cy="30.5" rx="4.4" ry="0.46" transform="rotate(23 304.2 30.5)"/><ellipse cx="215.5" cy="114.6" rx="3.1" ry="0.55" transform="rotate(-39 215.5 114.6)"/><ellipse cx="336.2" cy="11.0" rx="3.7" ry="0.38" transform="rotate(-26 336.2 11.0)"/><ellipse cx="238.2" cy="96.5" rx="3.9" ry="0.59" transform="rotate(22 238.2 96.5)"/><ellipse cx="249.4" cy="87.0" rx="3.6" ry="0.59" transform="rotate(43 249.4 87.0)"/><ellipse cx="329.0" cy="28.5" rx="2.7" ry="0.42" transform="rotate(-43 329.0 28.5)"/><ellipse cx="265.2" cy="67.5" rx="3.6" ry="0.52" transform="rotate(20 265.2 67.5)"/><ellipse cx="343.1" cy="19.1" rx="4.2" ry="0.31" transform="rotate(-35 343.1 19.1)"/><ellipse cx="302.2" cy="39.5" rx="1.5" ry="0.52" transform="rotate(-33 302.2 39.5)"/><ellipse cx="324.5" cy="26.5" rx="3.9" ry="0.56" transform="rotate(-48 324.5 26.5)"/><ellipse cx="257.9" cy="72.5" rx="1.7" ry="0.54" transform="rotate(33 257.9 72.5)"/><ellipse cx="303.2" cy="53.5" rx="2.5" ry="0.48" transform="rotate(61 303.2 53.5)"/><ellipse cx="291.0" cy="63.3" rx="3.1" ry="0.54" transform="rotate(-53 291.0 63.3)"/><ellipse cx="245.0" cy="88.1" rx="4.1" ry="0.31" transform="rotate(25 245.0 88.1)"/><ellipse cx="266.9" cy="81.9" rx="2.6" ry="0.41" transform="rotate(26 266.9 81.9)"/><ellipse cx="299.7" cy="46.2" rx="4.5" ry="0.51" transform="rotate(53 299.7 46.2)"/><ellipse cx="272.2" cy="68.1" rx="1.9" ry="0.45" transform="rotate(-63 272.2 68.1)"/><ellipse cx="300.1" cy="48.2" rx="2.1" ry="0.47" transform="rotate(-44 300.1 48.2)"/><ellipse cx="222.5" cy="108.3" rx="2.3" ry="0.43" transform="rotate(-33 222.5 108.3)"/><ellipse cx="281.2" cy="59.5" rx="3.4" ry="0.41" transform="rotate(26 281.2 59.5)"/><ellipse cx="222.1" cy="112.9" rx="2.8" ry="0.48" transform="rotate(56 222.1 112.9)"/><ellipse cx="247.6" cy="86.9" rx="3.2" ry="0.32" transform="rotate(21 247.6 86.9)"/><ellipse cx="245.2" cy="102.1" rx="3.0" ry="0.57" transform="rotate(42 245.2 102.1)"/><ellipse cx="307.7" cy="27.0" rx="2.7" ry="0.44" transform="rotate(43 307.7 27.0)"/><ellipse cx="329.0" cy="21.9" rx="2.2" ry="0.36" transform="rotate(58 329.0 21.9)"/><ellipse cx="286.7" cy="65.1" rx="1.9" ry="0.37" transform="rotate(37 286.7 65.1)"/><ellipse cx="228.5" cy="114.4" rx="2.9" ry="0.55" transform="rotate(46 228.5 114.4)"/><ellipse cx="241.4" cy="94.9" rx="1.9" ry="0.42" transform="rotate(45 241.4 94.9)"/><ellipse cx="223.8" cy="114.6" rx="4.5" ry="0.38" transform="rotate(-45 223.8 114.6)"/><ellipse cx="248.8" cy="87.4" rx="4.2" ry="0.50" transform="rotate(10 248.8 87.4)"/><ellipse cx="253.5" cy="81.1" rx="2.1" ry="0.32" transform="rotate(42 253.5 81.1)"/><ellipse cx="281.8" cy="56.2" rx="4.3" ry="0.40" transform="rotate(44 281.8 56.2)"/><ellipse cx="274.8" cy="71.1" rx="2.7" ry="0.47" transform="rotate(-35 274.8 71.1)"/><ellipse cx="255.7" cy="79.5" rx="3.3" ry="0.42" transform="rotate(38 255.7 79.5)"/><ellipse cx="305.5" cy="33.6" rx="1.6" ry="0.56" transform="rotate(-49 305.5 33.6)"/><ellipse cx="226.6" cy="112.1" rx="3.0" ry="0.50" transform="rotate(-50 226.6 112.1)"/><ellipse cx="299.4" cy="40.8" rx="2.1" ry="0.33" transform="rotate(-64 299.4 40.8)"/><ellipse cx="230.8" cy="112.2" rx="3.6" ry="0.43" transform="rotate(41 230.8 112.2)"/><ellipse cx="272.3" cy="77.5" rx="2.4" ry="0.37" transform="rotate(27 272.3 77.5)"/><ellipse cx="287.2" cy="50.5" rx="3.1" ry="0.36" transform="rotate(28 287.2 50.5)"/><ellipse cx="339.0" cy="22.2" rx="3.4" ry="0.37" transform="rotate(-48 339.0 22.2)"/><ellipse cx="280.7" cy="50.5" rx="2.7" ry="0.31" transform="rotate(-13 280.7 50.5)"/><ellipse cx="262.0" cy="82.4" rx="2.4" ry="0.40" transform="rotate(-49 262.0 82.4)"/><ellipse cx="311.2" cy="37.1" rx="3.3" ry="0.46" transform="rotate(25 311.2 37.1)"/><ellipse cx="226.3" cy="104.6" rx="3.2" ry="0.39" transform="rotate(-47 226.3 104.6)"/><ellipse cx="285.2" cy="46.9" rx="1.7" ry="0.40" transform="rotate(30 285.2 46.9)"/><ellipse cx="270.4" cy="64.3" rx="3.9" ry="0.52" transform="rotate(29 270.4 64.3)"/><ellipse cx="274.9" cy="71.9" rx="1.6" ry="0.45" transform="rotate(-52 274.9 71.9)"/><ellipse cx="230.3" cy="110.2" rx="3.7" ry="0.52" transform="rotate(49 230.3 110.2)"/><ellipse cx="263.0" cy="81.7" rx="2.4" ry="0.38" transform="rotate(20 263.0 81.7)"/><ellipse cx="229.2" cy="103.9" rx="2.9" ry="0.35" transform="rotate(34 229.2 103.9)"/><ellipse cx="282.6" cy="58.6" rx="4.5" ry="0.57" transform="rotate(-44 282.6 58.6)"/><ellipse cx="308.4" cy="40.3" rx="3.0" ry="0.54" transform="rotate(-48 308.4 40.3)"/><ellipse cx="288.6" cy="58.0" rx="4.5" ry="0.43" transform="rotate(58 288.6 58.0)"/><ellipse cx="291.0" cy="42.4" rx="2.2" ry="0.48" transform="rotate(-38 291.0 42.4)"/><ellipse cx="317.7" cy="38.2" rx="1.6" ry="0.49" transform="rotate(-53 317.7 38.2)"/><ellipse cx="306.3" cy="49.2" rx="1.5" ry="0.58" transform="rotate(-45 306.3 49.2)"/><ellipse cx="267.4" cy="71.5" rx="2.0" ry="0.54" transform="rotate(42 267.4 71.5)"/><ellipse cx="311.0" cy="29.2" rx="4.5" ry="0.54" transform="rotate(-27 311.0 29.2)"/><ellipse cx="275.9" cy="64.8" rx="1.7" ry="0.56" transform="rotate(45 275.9 64.8)"/><ellipse cx="222.5" cy="111.3" rx="2.0" ry="0.59" transform="rotate(85 222.5 111.3)"/><ellipse cx="303.0" cy="49.5" rx="3.7" ry="0.55" transform="rotate(-51 303.0 49.5)"/><ellipse cx="318.8" cy="33.8" rx="2.4" ry="0.59" transform="rotate(51 318.8 33.8)"/><ellipse cx="285.6" cy="66.5" rx="3.8" ry="0.55" transform="rotate(68 285.6 66.5)"/><ellipse cx="248.0" cy="94.1" rx="4.2" ry="0.32" transform="rotate(14 248.0 94.1)"/><ellipse cx="298.7" cy="43.7" rx="2.7" ry="0.33" transform="rotate(59 298.7 43.7)"/><ellipse cx="300.7" cy="52.7" rx="1.5" ry="0.45" transform="rotate(50 300.7 52.7)"/><ellipse cx="216.8" cy="111.8" rx="1.9" ry="0.46" transform="rotate(41 216.8 111.8)"/><ellipse cx="227.0" cy="108.4" rx="2.1" ry="0.57" transform="rotate(22 227.0 108.4)"/><ellipse cx="267.8" cy="74.2" rx="4.0" ry="0.36" transform="rotate(31 267.8 74.2)"/><ellipse cx="254.4" cy="96.2" rx="4.1" ry="0.59" transform="rotate(70 254.4 96.2)"/><ellipse cx="254.2" cy="82.0" rx="2.7" ry="0.30" transform="rotate(-29 254.2 82.0)"/><ellipse cx="320.7" cy="18.1" rx="2.6" ry="0.33" transform="rotate(28 320.7 18.1)"/><ellipse cx="287.6" cy="62.8" rx="3.5" ry="0.32" transform="rotate(39 287.6 62.8)"/><ellipse cx="293.6" cy="48.2" rx="3.6" ry="0.58" transform="rotate(29 293.6 48.2)"/><ellipse cx="314.6" cy="22.1" rx="1.7" ry="0.55" transform="rotate(-35 314.6 22.1)"/><ellipse cx="302.9" cy="45.1" rx="3.3" ry="0.44" transform="rotate(70 302.9 45.1)"/><ellipse cx="338.0" cy="18.7" rx="3.3" ry="0.47" transform="rotate(-55 338.0 18.7)"/><ellipse cx="222.2" cy="112.0" rx="2.4" ry="0.46" transform="rotate(-33 222.2 112.0)"/><ellipse cx="272.7" cy="79.8" rx="3.0" ry="0.59" transform="rotate(60 272.7 79.8)"/><ellipse cx="264.9" cy="85.5" rx="3.9" ry="0.40" transform="rotate(-45 264.9 85.5)"/><ellipse cx="235.0" cy="104.0" rx="3.5" ry="0.57" transform="rotate(-29 235.0 104.0)"/><ellipse cx="292.9" cy="61.1" rx="2.4" ry="0.58" transform="rotate(38 292.9 61.1)"/><ellipse cx="241.0" cy="95.0" rx="2.5" ry="0.54" transform="rotate(25 241.0 95.0)"/><ellipse cx="272.0" cy="59.2" rx="3.4" ry="0.53" transform="rotate(51 272.0 59.2)"/><ellipse cx="253.7" cy="78.6" rx="2.7" ry="0.32" transform="rotate(11 253.7 78.6)"/><ellipse cx="267.3" cy="78.9" rx="2.3" ry="0.53" transform="rotate(-43 267.3 78.9)"/><ellipse cx="223.7" cy="117.9" rx="4.4" ry="0.57" transform="rotate(38 223.7 117.9)"/><ellipse cx="323.6" cy="15.8" rx="1.8" ry="0.39" transform="rotate(60 323.6 15.8)"/><ellipse cx="300.7" cy="55.6" rx="4.0" ry="0.54" transform="rotate(55 300.7 55.6)"/><ellipse cx="321.7" cy="25.8" rx="4.1" ry="0.46" transform="rotate(66 321.7 25.8)"/><ellipse cx="282.1" cy="62.9" rx="4.3" ry="0.32" transform="rotate(-28 282.1 62.9)"/><ellipse cx="217.3" cy="118.5" rx="2.3" ry="0.55" transform="rotate(-51 217.3 118.5)"/><ellipse cx="319.5" cy="40.4" rx="1.9" ry="0.38" transform="rotate(46 319.5 40.4)"/><ellipse cx="223.3" cy="120.3" rx="3.6" ry="0.51" transform="rotate(-38 223.3 120.3)"/><ellipse cx="290.8" cy="46.5" rx="3.3" ry="0.57" transform="rotate(50 290.8 46.5)"/><ellipse cx="254.6" cy="82.6" rx="3.6" ry="0.32" transform="rotate(-38 254.6 82.6)"/><ellipse cx="320.9" cy="24.3" rx="3.0" ry="0.59" transform="rotate(51 320.9 24.3)"/><ellipse cx="290.4" cy="54.4" rx="2.2" ry="0.49" transform="rotate(47 290.4 54.4)"/><ellipse cx="258.1" cy="78.5" rx="2.3" ry="0.59" transform="rotate(-38 258.1 78.5)"/><ellipse cx="289.7" cy="57.7" rx="2.8" ry="0.32" transform="rotate(29 289.7 57.7)"/><ellipse cx="296.6" cy="52.5" rx="2.7" ry="0.50" transform="rotate(2 296.6 52.5)"/><ellipse cx="324.2" cy="14.7" rx="1.7" ry="0.44" transform="rotate(47 324.2 14.7)"/><ellipse cx="233.8" cy="103.8" rx="3.3" ry="0.33" transform="rotate(55 233.8 103.8)"/><ellipse cx="239.7" cy="104.6" rx="3.9" ry="0.52" transform="rotate(-53 239.7 104.6)"/><ellipse cx="311.4" cy="28.8" rx="4.3" ry="0.52" transform="rotate(-32 311.4 28.8)"/><ellipse cx="303.2" cy="31.7" rx="3.7" ry="0.46" transform="rotate(65 303.2 31.7)"/><ellipse cx="286.4" cy="58.3" rx="1.6" ry="0.35" transform="rotate(-38 286.4 58.3)"/><ellipse cx="264.3" cy="86.0" rx="4.1" ry="0.41" transform="rotate(-31 264.3 86.0)"/><ellipse cx="328.4" cy="23.2" rx="4.0" ry="0.46" transform="rotate(-53 328.4 23.2)"/><ellipse cx="248.0" cy="89.8" rx="3.6" ry="0.58" transform="rotate(-44 248.0 89.8)"/><ellipse cx="341.1" cy="15.1" rx="1.9" ry="0.30" transform="rotate(39 341.1 15.1)"/><ellipse cx="244.8" cy="97.0" rx="2.9" ry="0.31" transform="rotate(-44 244.8 97.0)"/><ellipse cx="329.6" cy="23.8" rx="3.0" ry="0.49" transform="rotate(36 329.6 23.8)"/><ellipse cx="241.6" cy="92.9" rx="4.1" ry="0.58" transform="rotate(-71 241.6 92.9)"/><ellipse cx="271.8" cy="70.8" rx="3.2" ry="0.52" transform="rotate(-27 271.8 70.8)"/><ellipse cx="322.4" cy="18.6" rx="3.4" ry="0.51" transform="rotate(88 322.4 18.6)"/><ellipse cx="272.1" cy="59.8" rx="3.9" ry="0.57" transform="rotate(-28 272.1 59.8)"/><ellipse cx="217.5" cy="118.3" rx="1.6" ry="0.33" transform="rotate(43 217.5 118.3)"/><ellipse cx="342.2" cy="20.7" rx="3.8" ry="0.31" transform="rotate(-54 342.2 20.7)"/><ellipse cx="285.9" cy="57.6" rx="3.8" ry="0.33" transform="rotate(22 285.9 57.6)"/><ellipse cx="341.6" cy="19.7" rx="2.5" ry="0.45" transform="rotate(-61 341.6 19.7)"/><ellipse cx="338.2" cy="16.2" rx="4.0" ry="0.45" transform="rotate(-85 338.2 16.2)"/><ellipse cx="294.2" cy="51.3" rx="3.3" ry="0.44" transform="rotate(-80 294.2 51.3)"/><ellipse cx="301.1" cy="46.2" rx="2.1" ry="0.51" transform="rotate(29 301.1 46.2)"/><ellipse cx="310.8" cy="42.1" rx="2.6" ry="0.33" transform="rotate(-74 310.8 42.1)"/><ellipse cx="311.7" cy="46.2" rx="2.4" ry="0.39" transform="rotate(25 311.7 46.2)"/><ellipse cx="278.2" cy="64.5" rx="1.8" ry="0.51" transform="rotate(-45 278.2 64.5)"/><ellipse cx="290.9" cy="52.2" rx="2.1" ry="0.53" transform="rotate(20 290.9 52.2)"/><ellipse cx="307.5" cy="28.6" rx="3.5" ry="0.55" transform="rotate(41 307.5 28.6)"/><ellipse cx="273.1" cy="77.0" rx="1.9" ry="0.54" transform="rotate(-10 273.1 77.0)"/><ellipse cx="319.1" cy="17.3" rx="3.5" ry="0.44" transform="rotate(-61 319.1 17.3)"/><ellipse cx="295.9" cy="53.7" rx="2.7" ry="0.31" transform="rotate(-32 295.9 53.7)"/><ellipse cx="248.9" cy="99.5" rx="4.2" ry="0.54" transform="rotate(-27 248.9 99.5)"/><ellipse cx="279.0" cy="52.1" rx="1.7" ry="0.34" transform="rotate(36 279.0 52.1)"/><ellipse cx="271.1" cy="62.7" rx="4.3" ry="0.46" transform="rotate(53 271.1 62.7)"/><ellipse cx="315.9" cy="37.3" rx="3.6" ry="0.43" transform="rotate(-36 315.9 37.3)"/><ellipse cx="234.7" cy="112.0" rx="2.4" ry="0.42" transform="rotate(-60 234.7 112.0)"/><ellipse cx="263.1" cy="88.5" rx="4.4" ry="0.49" transform="rotate(25 263.1 88.5)"/><ellipse cx="291.0" cy="55.3" rx="3.7" ry="0.46" transform="rotate(-37 291.0 55.3)"/><ellipse cx="224.0" cy="105.3" rx="3.6" ry="0.38" transform="rotate(27 224.0 105.3)"/><ellipse cx="310.7" cy="28.7" rx="2.0" ry="0.60" transform="rotate(-16 310.7 28.7)"/><ellipse cx="330.9" cy="31.2" rx="4.0" ry="0.37" transform="rotate(36 330.9 31.2)"/><ellipse cx="327.4" cy="32.4" rx="1.7" ry="0.33" transform="rotate(-35 327.4 32.4)"/><ellipse cx="317.0" cy="37.3" rx="1.8" ry="0.59" transform="rotate(33 317.0 37.3)"/><ellipse cx="265.8" cy="78.8" rx="2.3" ry="0.58" transform="rotate(-38 265.8 78.8)"/><ellipse cx="335.2" cy="17.4" rx="2.3" ry="0.41" transform="rotate(-24 335.2 17.4)"/><ellipse cx="278.0" cy="53.3" rx="4.3" ry="0.31" transform="rotate(60 278.0 53.3)"/><ellipse cx="300.6" cy="53.9" rx="2.3" ry="0.30" transform="rotate(63 300.6 53.9)"/><ellipse cx="229.1" cy="106.5" rx="1.8" ry="0.44" transform="rotate(34 229.1 106.5)"/><ellipse cx="302.4" cy="33.2" rx="2.8" ry="0.32" transform="rotate(-51 302.4 33.2)"/><ellipse cx="239.9" cy="95.0" rx="1.7" ry="0.37" transform="rotate(-42 239.9 95.0)"/><ellipse cx="311.0" cy="39.1" rx="1.7" ry="0.43" transform="rotate(-29 311.0 39.1)"/><ellipse cx="224.1" cy="112.7" rx="2.3" ry="0.58" transform="rotate(36 224.1 112.7)"/><ellipse cx="275.5" cy="71.0" rx="2.3" ry="0.54" transform="rotate(-53 275.5 71.0)"/><ellipse cx="226.7" cy="113.8" rx="3.5" ry="0.45" transform="rotate(2 226.7 113.8)"/><ellipse cx="219.6" cy="115.2" rx="3.5" ry="0.34" transform="rotate(47 219.6 115.2)"/><ellipse cx="261.5" cy="76.7" rx="3.5" ry="0.50" transform="rotate(36 261.5 76.7)"/><ellipse cx="300.2" cy="32.9" rx="2.4" ry="0.59" transform="rotate(-41 300.2 32.9)"/><ellipse cx="320.8" cy="23.8" rx="3.5" ry="0.30" transform="rotate(-46 320.8 23.8)"/><ellipse cx="336.1" cy="14.3" rx="3.5" ry="0.36" transform="rotate(46 336.1 14.3)"/><ellipse cx="329.3" cy="16.3" rx="2.2" ry="0.59" transform="rotate(35 329.3 16.3)"/><ellipse cx="256.5" cy="81.8" rx="3.8" ry="0.37" transform="rotate(53 256.5 81.8)"/><ellipse cx="319.1" cy="21.0" rx="3.6" ry="0.34" transform="rotate(-4 319.1 21.0)"/><ellipse cx="244.9" cy="87.1" rx="1.9" ry="0.40" transform="rotate(-65 244.9 87.1)"/><ellipse cx="308.5" cy="30.2" rx="2.3" ry="0.47" transform="rotate(24 308.5 30.2)"/><ellipse cx="243.0" cy="89.6" rx="1.7" ry="0.57" transform="rotate(-33 243.0 89.6)"/><ellipse cx="227.6" cy="101.3" rx="2.8" ry="0.46" transform="rotate(-46 227.6 101.3)"/><ellipse cx="326.7" cy="33.1" rx="3.0" ry="0.46" transform="rotate(-35 326.7 33.1)"/><ellipse cx="300.7" cy="41.8" rx="4.2" ry="0.47" transform="rotate(-12 300.7 41.8)"/><ellipse cx="241.4" cy="102.0" rx="2.3" ry="0.55" transform="rotate(-24 241.4 102.0)"/><ellipse cx="300.8" cy="33.6" rx="2.8" ry="0.40" transform="rotate(-35 300.8 33.6)"/><ellipse cx="316.8" cy="45.4" rx="4.4" ry="0.33" transform="rotate(-28 316.8 45.4)"/><ellipse cx="340.6" cy="17.4" rx="3.7" ry="0.41" transform="rotate(27 340.6 17.4)"/><ellipse cx="301.8" cy="50.7" rx="1.8" ry="0.45" transform="rotate(31 301.8 50.7)"/><ellipse cx="329.6" cy="25.7" rx="3.2" ry="0.41" transform="rotate(43 329.6 25.7)"/><ellipse cx="304.6" cy="40.7" rx="3.8" ry="0.42" transform="rotate(-87 304.6 40.7)"/><ellipse cx="232.7" cy="107.9" rx="3.6" ry="0.59" transform="rotate(-46 232.7 107.9)"/><ellipse cx="243.7" cy="101.5" rx="2.9" ry="0.50" transform="rotate(58 243.7 101.5)"/><ellipse cx="309.1" cy="26.3" rx="2.3" ry="0.32" transform="rotate(-16 309.1 26.3)"/><ellipse cx="215.6" cy="113.7" rx="4.2" ry="0.54" transform="rotate(20 215.6 113.7)"/><ellipse cx="243.8" cy="86.1" rx="2.5" ry="0.46" transform="rotate(24 243.8 86.1)"/><ellipse cx="256.4" cy="82.2" rx="2.3" ry="0.38" transform="rotate(-41 256.4 82.2)"/><ellipse cx="222.6" cy="106.1" rx="2.5" ry="0.45" transform="rotate(27 222.6 106.1)"/><ellipse cx="243.7" cy="104.6" rx="2.8" ry="0.39" transform="rotate(-62 243.7 104.6)"/><ellipse cx="217.8" cy="114.1" rx="2.1" ry="0.51" transform="rotate(-53 217.8 114.1)"/><ellipse cx="321.0" cy="37.7" rx="2.8" ry="0.30" transform="rotate(29 321.0 37.7)"/><ellipse cx="333.7" cy="15.1" rx="2.8" ry="0.46" transform="rotate(45 333.7 15.1)"/><ellipse cx="303.5" cy="30.6" rx="3.7" ry="0.44" transform="rotate(-38 303.5 30.6)"/><ellipse cx="239.6" cy="93.6" rx="2.0" ry="0.37" transform="rotate(-25 239.6 93.6)"/><ellipse cx="317.0" cy="41.8" rx="2.7" ry="0.46" transform="rotate(68 317.0 41.8)"/><ellipse cx="257.4" cy="89.5" rx="2.0" ry="0.58" transform="rotate(-46 257.4 89.5)"/><ellipse cx="327.2" cy="23.1" rx="4.1" ry="0.51" transform="rotate(1 327.2 23.1)"/><ellipse cx="274.0" cy="62.1" rx="3.0" ry="0.38" transform="rotate(53 274.0 62.1)"/><ellipse cx="297.9" cy="40.1" rx="2.6" ry="0.43" transform="rotate(38 297.9 40.1)"/><ellipse cx="338.6" cy="28.6" rx="4.3" ry="0.34" transform="rotate(-8 338.6 28.6)"/><ellipse cx="329.1" cy="34.9" rx="2.4" ry="0.32" transform="rotate(-38 329.1 34.9)"/><ellipse cx="313.7" cy="42.6" rx="3.6" ry="0.52" transform="rotate(-42 313.7 42.6)"/><ellipse cx="222.8" cy="119.7" rx="2.0" ry="0.46" transform="rotate(47 222.8 119.7)"/><ellipse cx="318.8" cy="21.7" rx="2.6" ry="0.57" transform="rotate(58 318.8 21.7)"/><ellipse cx="273.8" cy="68.3" rx="4.2" ry="0.44" transform="rotate(79 273.8 68.3)"/><ellipse cx="339.7" cy="20.0" rx="3.9" ry="0.52" transform="rotate(39 339.7 20.0)"/><ellipse cx="333.3" cy="21.4" rx="2.3" ry="0.44" transform="rotate(-29 333.3 21.4)"/></g></g><circle cx="413.1" cy="90.9" r="1.7" fill="#c85a40" opacity="0.65"/><circle cx="407.5" cy="93.9" r="1.7" fill="#c85a40" opacity="0.65"/><circle cx="405.4" cy="95.6" r="1.7" fill="#c85a40" opacity="0.65"/><circle cx="412.2" cy="95.6" r="1.7" fill="#c85a40" opacity="0.65"/><circle cx="402.4" cy="98.6" r="1.7" fill="#c85a40" opacity="0.65"/><circle cx="401.9" cy="101.6" r="1.7" fill="#c85a40" opacity="0.65"/><circle cx="408.4" cy="100.7" r="1.7" fill="#c85a40" opacity="0.65"/><circle cx="410.1" cy="100.3" r="1.7" fill="#c85a40" opacity="0.65"/><circle cx="406.7" cy="101.6" r="1.7" fill="#c85a40" opacity="0.65"/><circle cx="395.9" cy="104.6" r="1.7" fill="#c85a40" opacity="0.65"/><circle cx="399.8" cy="104.2" r="1.7" fill="#c85a40" opacity="0.65"/><circle cx="398.5" cy="106.8" r="1.7" fill="#c85a40" opacity="0.65"/><circle cx="400.6" cy="108.0" r="1.7" fill="#c85a40" opacity="0.65"/><circle cx="407.1" cy="105.9" r="1.7" fill="#c85a40" opacity="0.65"/><circle cx="404.9" cy="109.8" r="1.7" fill="#c85a40" opacity="0.65"/><circle cx="404.1" cy="111.9" r="1.7" fill="#c85a40" opacity="0.65"/><circle cx="397.6" cy="113.2" r="1.7" fill="#c85a40" opacity="0.65"/><circle cx="399.8" cy="111.9" r="1.7" fill="#c85a40" opacity="0.65"/><circle cx="389.9" cy="108.5" r="1.7" fill="#c85a40" opacity="0.65"/><circle cx="386.0" cy="110.6" r="1.7" fill="#c85a40" opacity="0.65"/><circle cx="388.2" cy="114.1" r="1.7" fill="#c85a40" opacity="0.65"/><circle cx="386.4" cy="115.8" r="1.7" fill="#c85a40" opacity="0.65"/><circle cx="390.7" cy="116.7" r="1.7" fill="#c85a40" opacity="0.65"/><circle cx="394.6" cy="117.1" r="1.7" fill="#c85a40" opacity="0.65"/><circle cx="439.7" cy="62.6" r="1.7" fill="#c85a40" opacity="0.65"/><circle cx="442.7" cy="63.4" r="1.7" fill="#c85a40" opacity="0.65"/><circle cx="442.2" cy="66.4" r="1.7" fill="#c85a40" opacity="0.65"/><circle cx="432.8" cy="66.4" r="1.7" fill="#c85a40" opacity="0.65"/><circle cx="437.5" cy="72.0" r="1.7" fill="#c85a40" opacity="0.65"/><circle cx="441.4" cy="72.9" r="1.7" fill="#c85a40" opacity="0.65"/><circle cx="441.8" cy="74.6" r="1.7" fill="#c85a40" opacity="0.65"/><circle cx="438.0" cy="75.9" r="1.7" fill="#c85a40" opacity="0.65"/><circle cx="430.6" cy="72.9" r="1.7" fill="#c85a40" opacity="0.65"/><circle cx="432.8" cy="75.0" r="1.7" fill="#c85a40" opacity="0.65"/><circle cx="433.6" cy="76.8" r="1.7" fill="#c85a40" opacity="0.65"/><circle cx="428.5" cy="75.5" r="1.7" fill="#c85a40" opacity="0.65"/><circle cx="426.8" cy="76.8" r="1.7" fill="#c85a40" opacity="0.65"/><circle cx="424.2" cy="78.1" r="1.7" fill="#c85a40" opacity="0.65"/><circle cx="425.0" cy="78.9" r="1.7" fill="#c85a40" opacity="0.65"/><circle cx="429.8" cy="79.8" r="1.7" fill="#c85a40" opacity="0.65"/><circle cx="434.5" cy="79.8" r="1.7" fill="#c85a40" opacity="0.65"/><circle cx="432.8" cy="82.8" r="1.7" fill="#c85a40" opacity="0.65"/><circle cx="430.2" cy="85.0" r="1.7" fill="#c85a40" opacity="0.65"/><circle cx="427.6" cy="82.8" r="1.7" fill="#c85a40" opacity="0.65"/><circle cx="422.9" cy="83.6" r="1.7" fill="#c85a40" opacity="0.65"/><circle cx="418.2" cy="84.9" r="1.7" fill="#c85a40" opacity="0.65"/><circle cx="421.2" cy="84.9" r="1.7" fill="#c85a40" opacity="0.65"/><circle cx="424.2" cy="86.7" r="1.7" fill="#c85a40" opacity="0.65"/><circle cx="425.9" cy="88.8" r="1.7" fill="#c85a40" opacity="0.65"/><circle cx="422.0" cy="88.4" r="1.7" fill="#c85a40" opacity="0.65"/><circle cx="417.7" cy="87.5" r="1.7" fill="#c85a40" opacity="0.65"/><circle cx="411.7" cy="88.0" r="1.7" fill="#c85a40" opacity="0.65"/><circle cx="413.9" cy="90.5" r="1.7" fill="#c85a40" opacity="0.65"/><circle cx="419.5" cy="89.7" r="1.7" fill="#c85a40" opacity="0.65"/><circle cx="416.4" cy="92.7" r="1.7" fill="#c85a40" opacity="0.65"/><circle cx="419.9" cy="93.1" r="1.7" fill="#c85a40" opacity="0.65"/><circle cx="427.2" cy="90.1" r="1.7" fill="#c85a40" opacity="0.65"/><circle cx="423.3" cy="92.2" r="1.7" fill="#c85a40" opacity="0.65"/><circle cx="471.8" cy="33.0" r="1.7" fill="#c85a40" opacity="0.65"/><circle cx="470.1" cy="32.1" r="1.7" fill="#c85a40" opacity="0.65"/><circle cx="466.7" cy="35.2" r="1.7" fill="#c85a40" opacity="0.65"/><circle cx="465.4" cy="36.4" r="1.7" fill="#c85a40" opacity="0.65"/><circle cx="463.2" cy="38.2" r="1.7" fill="#c85a40" opacity="0.65"/><circle cx="467.5" cy="38.6" r="1.7" fill="#c85a40" opacity="0.65"/><circle cx="459.8" cy="43.3" r="1.7" fill="#c85a40" opacity="0.65"/><circle cx="461.5" cy="43.8" r="1.7" fill="#c85a40" opacity="0.65"/><circle cx="459.3" cy="45.9" r="1.7" fill="#c85a40" opacity="0.65"/><circle cx="456.8" cy="48.1" r="1.7" fill="#c85a40" opacity="0.65"/><circle cx="458.0" cy="49.3" r="1.7" fill="#c85a40" opacity="0.65"/><circle cx="454.6" cy="51.5" r="1.7" fill="#c85a40" opacity="0.65"/><circle cx="453.3" cy="53.6" r="1.7" fill="#c85a40" opacity="0.65"/><circle cx="455.9" cy="54.1" r="1.7" fill="#c85a40" opacity="0.65"/><circle cx="457.2" cy="55.8" r="1.7" fill="#c85a40" opacity="0.65"/><circle cx="455.0" cy="57.5" r="1.7" fill="#c85a40" opacity="0.65"/><circle cx="458.5" cy="58.4" r="1.7" fill="#c85a40" opacity="0.65"/><circle cx="466.2" cy="48.5" r="1.7" fill="#c85a40" opacity="0.65"/><circle cx="467.5" cy="51.1" r="1.7" fill="#c85a40" opacity="0.65"/><circle cx="464.9" cy="51.5" r="1.7" fill="#c85a40" opacity="0.65"/><circle cx="462.8" cy="52.8" r="1.7" fill="#c85a40" opacity="0.65"/><circle cx="470.1" cy="50.2" r="1.7" fill="#c85a40" opacity="0.65"/><circle cx="472.2" cy="48.1" r="1.7" fill="#c85a40" opacity="0.65"/><circle cx="472.2" cy="52.4" r="1.7" fill="#c85a40" opacity="0.65"/><circle cx="469.7" cy="53.6" r="1.7" fill="#c85a40" opacity="0.65"/><circle cx="474.4" cy="44.2" r="1.7" fill="#c85a40" opacity="0.65"/><circle cx="450.3" cy="61.8" r="1.7" fill="#c85a40" opacity="0.65"/><circle cx="442.6" cy="63.1" r="1.7" fill="#c85a40" opacity="0.65"/><circle cx="506.1" cy="16.4" r="1.7" fill="#c85a40" opacity="0.65"/><circle cx="506.1" cy="23.1" r="1.7" fill="#c85a40" opacity="0.65"/><circle cx="508.6" cy="24.1" r="1.7" fill="#c85a40" opacity="0.65"/><circle cx="510.2" cy="26.2" r="1.7" fill="#c85a40" opacity="0.65"/><circle cx="502.4" cy="25.1" r="1.7" fill="#c85a40" opacity="0.65"/><circle cx="496.8" cy="28.2" r="1.7" fill="#c85a40" opacity="0.65"/><circle cx="499.3" cy="30.3" r="1.7" fill="#c85a40" opacity="0.65"/><circle cx="494.2" cy="26.2" r="1.7" fill="#c85a40" opacity="0.65"/><circle cx="491.1" cy="25.6" r="1.7" fill="#c85a40" opacity="0.65"/><circle cx="491.6" cy="28.2" r="1.7" fill="#c85a40" opacity="0.65"/><circle cx="492.1" cy="30.8" r="1.7" fill="#c85a40" opacity="0.65"/><circle cx="490.6" cy="36.0" r="1.7" fill="#c85a40" opacity="0.65"/><circle cx="491.1" cy="38.5" r="1.7" fill="#c85a40" opacity="0.65"/><circle cx="485.4" cy="38.0" r="1.7" fill="#c85a40" opacity="0.65"/><circle cx="487.5" cy="40.6" r="1.7" fill="#c85a40" opacity="0.65"/><circle cx="484.4" cy="28.7" r="1.7" fill="#c85a40" opacity="0.65"/><circle cx="485.9" cy="32.3" r="1.7" fill="#c85a40" opacity="0.65"/><circle cx="479.7" cy="24.1" r="1.7" fill="#c85a40" opacity="0.65"/><circle cx="482.8" cy="24.6" r="1.7" fill="#c85a40" opacity="0.65"/><circle cx="478.2" cy="26.7" r="1.7" fill="#c85a40" opacity="0.65"/><circle cx="479.7" cy="31.3" r="1.7" fill="#c85a40" opacity="0.65"/><circle cx="481.3" cy="34.4" r="1.7" fill="#c85a40" opacity="0.65"/><circle cx="483.4" cy="34.4" r="1.7" fill="#c85a40" opacity="0.65"/><circle cx="478.2" cy="38.0" r="1.7" fill="#c85a40" opacity="0.65"/><circle cx="479.2" cy="40.6" r="1.7" fill="#c85a40" opacity="0.65"/><circle cx="473.0" cy="32.9" r="1.7" fill="#c85a40" opacity="0.65"/><circle cx="475.1" cy="44.2" r="1.7" fill="#c85a40" opacity="0.65"/><circle cx="482.3" cy="45.8" r="1.7" fill="#c85a40" opacity="0.65"/><circle cx="446.0" cy="66.3" r="1.7" fill="#c85a40" opacity="0.65"/><circle cx="447.1" cy="67.4" r="1.7" fill="#c85a40" opacity="0.65"/><circle cx="448.2" cy="68.9" r="1.7" fill="#c85a40" opacity="0.65"/><circle cx="447.4" cy="71.8" r="1.7" fill="#c85a40" opacity="0.65"/><circle cx="450.7" cy="64.5" r="1.7" fill="#c85a40" opacity="0.65"/><circle cx="437.5" cy="73.0" r="1.7" fill="#c85a40" opacity="0.65"/><circle cx="438.6" cy="58.6" r="1.7" fill="#c85a40" opacity="0.65"/><circle cx="479.7" cy="42.9" r="1.7" fill="#c85a40" opacity="0.65"/><circle cx="474.2" cy="49.6" r="1.7" fill="#c85a40" opacity="0.65"/><circle cx="431.4" cy="86.1" r="1.7" fill="#c85a40" opacity="0.65"/><circle cx="482.6" cy="35.6" r="1.7" fill="#c85a40" opacity="0.65"/><circle cx="419.5" cy="89.7" r="1.7" fill="#c85a40" opacity="0.65"/><circle cx="441.1" cy="72.8" r="1.7" fill="#c85a40" opacity="0.65"/><circle cx="490.6" cy="36.6" r="1.7" fill="#c85a40" opacity="0.65"/><circle cx="404.3" cy="98.0" r="1.7" fill="#c85a40" opacity="0.65"/><circle cx="481.5" cy="38.5" r="1.7" fill="#c85a40" opacity="0.65"/><circle cx="478.3" cy="44.5" r="1.7" fill="#c85a40" opacity="0.65"/><circle cx="416.8" cy="86.0" r="1.7" fill="#c85a40" opacity="0.65"/><circle cx="439.3" cy="63.4" r="1.7" fill="#c85a40" opacity="0.65"/><circle cx="414.0" cy="86.7" r="1.7" fill="#c85a40" opacity="0.65"/><circle cx="457.3" cy="54.2" r="1.7" fill="#c85a40" opacity="0.65"/><circle cx="447.0" cy="71.2" r="1.7" fill="#c85a40" opacity="0.65"/><circle cx="481.8" cy="42.1" r="1.7" fill="#c85a40" opacity="0.65"/><circle cx="481.9" cy="27.0" r="1.7" fill="#c85a40" opacity="0.65"/><circle cx="429.7" cy="85.7" r="1.7" fill="#c85a40" opacity="0.65"/><circle cx="443.5" cy="61.3" r="1.7" fill="#c85a40" opacity="0.65"/><circle cx="484.3" cy="36.1" r="1.7" fill="#c85a40" opacity="0.65"/><circle cx="488.7" cy="42.0" r="1.7" fill="#c85a40" opacity="0.65"/><circle cx="493.5" cy="26.2" r="1.7" fill="#c85a40" opacity="0.65"/><circle cx="458.6" cy="52.9" r="1.7" fill="#c85a40" opacity="0.65"/><circle cx="474.9" cy="29.9" r="1.7" fill="#c85a40" opacity="0.65"/><circle cx="421.2" cy="85.9" r="1.7" fill="#c85a40" opacity="0.65"/><circle cx="436.4" cy="79.7" r="1.7" fill="#c85a40" opacity="0.65"/><circle cx="412.3" cy="96.4" r="1.7" fill="#c85a40" opacity="0.65"/><circle cx="406.0" cy="101.6" r="1.7" fill="#c85a40" opacity="0.65"/><circle cx="477.0" cy="41.1" r="1.7" fill="#c85a40" opacity="0.65"/><circle cx="483.8" cy="32.6" r="1.7" fill="#c85a40" opacity="0.65"/><circle cx="469.1" cy="49.0" r="1.7" fill="#c85a40" opacity="0.65"/><circle cx="465.9" cy="37.0" r="1.7" fill="#c85a40" opacity="0.65"/><circle cx="479.6" cy="38.5" r="1.7" fill="#c85a40" opacity="0.65"/><circle cx="457.6" cy="56.0" r="1.7" fill="#c85a40" opacity="0.65"/><circle cx="480.4" cy="30.8" r="1.7" fill="#c85a40" opacity="0.65"/><circle cx="419.4" cy="94.5" r="1.7" fill="#c85a40" opacity="0.65"/><circle cx="442.8" cy="64.6" r="1.7" fill="#c85a40" opacity="0.65"/><circle cx="451.0" cy="55.7" r="1.7" fill="#c85a40" opacity="0.65"/><circle cx="460.1" cy="56.4" r="1.7" fill="#c85a40" opacity="0.65"/><circle cx="421.1" cy="93.3" r="1.7" fill="#c85a40" opacity="0.65"/><circle cx="399.2" cy="108.5" r="1.7" fill="#c85a40" opacity="0.65"/><circle cx="462.0" cy="41.8" r="1.7" fill="#c85a40" opacity="0.65"/><circle cx="438.3" cy="69.1" r="1.7" fill="#c85a40" opacity="0.65"/><circle cx="411.0" cy="104.8" r="1.7" fill="#c85a40" opacity="0.65"/><circle cx="489.1" cy="26.5" r="1.7" fill="#c85a40" opacity="0.65"/><circle cx="504.4" cy="26.2" r="1.7" fill="#c85a40" opacity="0.65"/><circle cx="432.2" cy="84.7" r="1.7" fill="#c85a40" opacity="0.65"/><circle cx="413.1" cy="90.9" r="0.95" fill="#420a05"/><circle cx="407.5" cy="93.9" r="0.95" fill="#420a05"/><circle cx="405.4" cy="95.6" r="0.95" fill="#420a05"/><circle cx="412.2" cy="95.6" r="0.95" fill="#420a05"/><circle cx="402.4" cy="98.6" r="0.95" fill="#420a05"/><circle cx="401.9" cy="101.6" r="0.95" fill="#420a05"/><circle cx="408.4" cy="100.7" r="0.95" fill="#420a05"/><circle cx="410.1" cy="100.3" r="0.95" fill="#420a05"/><circle cx="406.7" cy="101.6" r="0.95" fill="#420a05"/><circle cx="395.9" cy="104.6" r="0.95" fill="#420a05"/><circle cx="399.8" cy="104.2" r="0.95" fill="#420a05"/><circle cx="398.5" cy="106.8" r="0.95" fill="#420a05"/><circle cx="400.6" cy="108.0" r="0.95" fill="#420a05"/><circle cx="407.1" cy="105.9" r="0.95" fill="#420a05"/><circle cx="404.9" cy="109.8" r="0.95" fill="#420a05"/><circle cx="404.1" cy="111.9" r="0.95" fill="#420a05"/><circle cx="397.6" cy="113.2" r="0.95" fill="#420a05"/><circle cx="399.8" cy="111.9" r="0.95" fill="#420a05"/><circle cx="389.9" cy="108.5" r="0.95" fill="#420a05"/><circle cx="386.0" cy="110.6" r="0.95" fill="#420a05"/><circle cx="388.2" cy="114.1" r="0.95" fill="#420a05"/><circle cx="386.4" cy="115.8" r="0.95" fill="#420a05"/><circle cx="390.7" cy="116.7" r="0.95" fill="#420a05"/><circle cx="394.6" cy="117.1" r="0.95" fill="#420a05"/><circle cx="439.7" cy="62.6" r="0.95" fill="#420a05"/><circle cx="442.7" cy="63.4" r="0.95" fill="#420a05"/><circle cx="442.2" cy="66.4" r="0.95" fill="#420a05"/><circle cx="432.8" cy="66.4" r="0.95" fill="#420a05"/><circle cx="437.5" cy="72.0" r="0.95" fill="#420a05"/><circle cx="441.4" cy="72.9" r="0.95" fill="#420a05"/><circle cx="441.8" cy="74.6" r="0.95" fill="#420a05"/><circle cx="438.0" cy="75.9" r="0.95" fill="#420a05"/><circle cx="430.6" cy="72.9" r="0.95" fill="#420a05"/><circle cx="432.8" cy="75.0" r="0.95" fill="#420a05"/><circle cx="433.6" cy="76.8" r="0.95" fill="#420a05"/><circle cx="428.5" cy="75.5" r="0.95" fill="#420a05"/><circle cx="426.8" cy="76.8" r="0.95" fill="#420a05"/><circle cx="424.2" cy="78.1" r="0.95" fill="#420a05"/><circle cx="425.0" cy="78.9" r="0.95" fill="#420a05"/><circle cx="429.8" cy="79.8" r="0.95" fill="#420a05"/><circle cx="434.5" cy="79.8" r="0.95" fill="#420a05"/><circle cx="432.8" cy="82.8" r="0.95" fill="#420a05"/><circle cx="430.2" cy="85.0" r="0.95" fill="#420a05"/><circle cx="427.6" cy="82.8" r="0.95" fill="#420a05"/><circle cx="422.9" cy="83.6" r="0.95" fill="#420a05"/><circle cx="418.2" cy="84.9" r="0.95" fill="#420a05"/><circle cx="421.2" cy="84.9" r="0.95" fill="#420a05"/><circle cx="424.2" cy="86.7" r="0.95" fill="#420a05"/><circle cx="425.9" cy="88.8" r="0.95" fill="#420a05"/><circle cx="422.0" cy="88.4" r="0.95" fill="#420a05"/><circle cx="417.7" cy="87.5" r="0.95" fill="#420a05"/><circle cx="411.7" cy="88.0" r="0.95" fill="#420a05"/><circle cx="413.9" cy="90.5" r="0.95" fill="#420a05"/><circle cx="419.5" cy="89.7" r="0.95" fill="#420a05"/><circle cx="416.4" cy="92.7" r="0.95" fill="#420a05"/><circle cx="419.9" cy="93.1" r="0.95" fill="#420a05"/><circle cx="427.2" cy="90.1" r="0.95" fill="#420a05"/><circle cx="423.3" cy="92.2" r="0.95" fill="#420a05"/><circle cx="471.8" cy="33.0" r="0.95" fill="#420a05"/><circle cx="470.1" cy="32.1" r="0.95" fill="#420a05"/><circle cx="466.7" cy="35.2" r="0.95" fill="#420a05"/><circle cx="465.4" cy="36.4" r="0.95" fill="#420a05"/><circle cx="463.2" cy="38.2" r="0.95" fill="#420a05"/><circle cx="467.5" cy="38.6" r="0.95" fill="#420a05"/><circle cx="459.8" cy="43.3" r="0.95" fill="#420a05"/><circle cx="461.5" cy="43.8" r="0.95" fill="#420a05"/><circle cx="459.3" cy="45.9" r="0.95" fill="#420a05"/><circle cx="456.8" cy="48.1" r="0.95" fill="#420a05"/><circle cx="458.0" cy="49.3" r="0.95" fill="#420a05"/><circle cx="454.6" cy="51.5" r="0.95" fill="#420a05"/><circle cx="453.3" cy="53.6" r="0.95" fill="#420a05"/><circle cx="455.9" cy="54.1" r="0.95" fill="#420a05"/><circle cx="457.2" cy="55.8" r="0.95" fill="#420a05"/><circle cx="455.0" cy="57.5" r="0.95" fill="#420a05"/><circle cx="458.5" cy="58.4" r="0.95" fill="#420a05"/><circle cx="466.2" cy="48.5" r="0.95" fill="#420a05"/><circle cx="467.5" cy="51.1" r="0.95" fill="#420a05"/><circle cx="464.9" cy="51.5" r="0.95" fill="#420a05"/><circle cx="462.8" cy="52.8" r="0.95" fill="#420a05"/><circle cx="470.1" cy="50.2" r="0.95" fill="#420a05"/><circle cx="472.2" cy="48.1" r="0.95" fill="#420a05"/><circle cx="472.2" cy="52.4" r="0.95" fill="#420a05"/><circle cx="469.7" cy="53.6" r="0.95" fill="#420a05"/><circle cx="474.4" cy="44.2" r="0.95" fill="#420a05"/><circle cx="450.3" cy="61.8" r="0.95" fill="#420a05"/><circle cx="442.6" cy="63.1" r="0.95" fill="#420a05"/><circle cx="506.1" cy="16.4" r="0.95" fill="#420a05"/><circle cx="506.1" cy="23.1" r="0.95" fill="#420a05"/><circle cx="508.6" cy="24.1" r="0.95" fill="#420a05"/><circle cx="510.2" cy="26.2" r="0.95" fill="#420a05"/><circle cx="502.4" cy="25.1" r="0.95" fill="#420a05"/><circle cx="496.8" cy="28.2" r="0.95" fill="#420a05"/><circle cx="499.3" cy="30.3" r="0.95" fill="#420a05"/><circle cx="494.2" cy="26.2" r="0.95" fill="#420a05"/><circle cx="491.1" cy="25.6" r="0.95" fill="#420a05"/><circle cx="491.6" cy="28.2" r="0.95" fill="#420a05"/><circle cx="492.1" cy="30.8" r="0.95" fill="#420a05"/><circle cx="490.6" cy="36.0" r="0.95" fill="#420a05"/><circle cx="491.1" cy="38.5" r="0.95" fill="#420a05"/><circle cx="485.4" cy="38.0" r="0.95" fill="#420a05"/><circle cx="487.5" cy="40.6" r="0.95" fill="#420a05"/><circle cx="484.4" cy="28.7" r="0.95" fill="#420a05"/><circle cx="485.9" cy="32.3" r="0.95" fill="#420a05"/><circle cx="479.7" cy="24.1" r="0.95" fill="#420a05"/><circle cx="482.8" cy="24.6" r="0.95" fill="#420a05"/><circle cx="478.2" cy="26.7" r="0.95" fill="#420a05"/><circle cx="479.7" cy="31.3" r="0.95" fill="#420a05"/><circle cx="481.3" cy="34.4" r="0.95" fill="#420a05"/><circle cx="483.4" cy="34.4" r="0.95" fill="#420a05"/><circle cx="478.2" cy="38.0" r="0.95" fill="#420a05"/><circle cx="479.2" cy="40.6" r="0.95" fill="#420a05"/><circle cx="473.0" cy="32.9" r="0.95" fill="#420a05"/><circle cx="475.1" cy="44.2" r="0.95" fill="#420a05"/><circle cx="482.3" cy="45.8" r="0.95" fill="#420a05"/><circle cx="446.0" cy="66.3" r="0.95" fill="#420a05"/><circle cx="447.1" cy="67.4" r="0.95" fill="#420a05"/><circle cx="448.2" cy="68.9" r="0.95" fill="#420a05"/><circle cx="447.4" cy="71.8" r="0.95" fill="#420a05"/><circle cx="450.7" cy="64.5" r="0.95" fill="#420a05"/><circle cx="437.5" cy="73.0" r="0.95" fill="#420a05"/><circle cx="438.6" cy="58.6" r="0.95" fill="#420a05"/><circle cx="479.7" cy="42.9" r="0.95" fill="#420a05"/><circle cx="474.2" cy="49.6" r="0.95" fill="#420a05"/><circle cx="431.4" cy="86.1" r="0.95" fill="#420a05"/><circle cx="482.6" cy="35.6" r="0.95" fill="#420a05"/><circle cx="419.5" cy="89.7" r="0.95" fill="#420a05"/><circle cx="441.1" cy="72.8" r="0.95" fill="#420a05"/><circle cx="490.6" cy="36.6" r="0.95" fill="#420a05"/><circle cx="404.3" cy="98.0" r="0.95" fill="#420a05"/><circle cx="481.5" cy="38.5" r="0.95" fill="#420a05"/><circle cx="478.3" cy="44.5" r="0.95" fill="#420a05"/><circle cx="416.8" cy="86.0" r="0.95" fill="#420a05"/><circle cx="439.3" cy="63.4" r="0.95" fill="#420a05"/><circle cx="414.0" cy="86.7" r="0.95" fill="#420a05"/><circle cx="457.3" cy="54.2" r="0.95" fill="#420a05"/><circle cx="447.0" cy="71.2" r="0.95" fill="#420a05"/><circle cx="481.8" cy="42.1" r="0.95" fill="#420a05"/><circle cx="481.9" cy="27.0" r="0.95" fill="#420a05"/><circle cx="429.7" cy="85.7" r="0.95" fill="#420a05"/><circle cx="443.5" cy="61.3" r="0.95" fill="#420a05"/><circle cx="484.3" cy="36.1" r="0.95" fill="#420a05"/><circle cx="488.7" cy="42.0" r="0.95" fill="#420a05"/><circle cx="493.5" cy="26.2" r="0.95" fill="#420a05"/><circle cx="458.6" cy="52.9" r="0.95" fill="#420a05"/><circle cx="474.9" cy="29.9" r="0.95" fill="#420a05"/><circle cx="421.2" cy="85.9" r="0.95" fill="#420a05"/><circle cx="436.4" cy="79.7" r="0.95" fill="#420a05"/><circle cx="412.3" cy="96.4" r="0.95" fill="#420a05"/><circle cx="406.0" cy="101.6" r="0.95" fill="#420a05"/><circle cx="477.0" cy="41.1" r="0.95" fill="#420a05"/><circle cx="483.8" cy="32.6" r="0.95" fill="#420a05"/><circle cx="469.1" cy="49.0" r="0.95" fill="#420a05"/><circle cx="465.9" cy="37.0" r="0.95" fill="#420a05"/><circle cx="479.6" cy="38.5" r="0.95" fill="#420a05"/><circle cx="457.6" cy="56.0" r="0.95" fill="#420a05"/><circle cx="480.4" cy="30.8" r="0.95" fill="#420a05"/><circle cx="419.4" cy="94.5" r="0.95" fill="#420a05"/><circle cx="442.8" cy="64.6" r="0.95" fill="#420a05"/><circle cx="451.0" cy="55.7" r="0.95" fill="#420a05"/><circle cx="460.1" cy="56.4" r="0.95" fill="#420a05"/><circle cx="421.1" cy="93.3" r="0.95" fill="#420a05"/><circle cx="399.2" cy="108.5" r="0.95" fill="#420a05"/><circle cx="462.0" cy="41.8" r="0.95" fill="#420a05"/><circle cx="438.3" cy="69.1" r="0.95" fill="#420a05"/><circle cx="411.0" cy="104.8" r="0.95" fill="#420a05"/><circle cx="489.1" cy="26.5" r="0.95" fill="#420a05"/><circle cx="504.4" cy="26.2" r="0.95" fill="#420a05"/><circle cx="432.2" cy="84.7" r="0.95" fill="#420a05"/>
<rect x="251" y="115.94" width="10.8" height="13.06" fill="#d9685f"/><text x="256.4" y="121.34" text-anchor="middle" font-size="5.4" textLength="6.8" lengthAdjust="spacingAndGlyphs" style="stroke:none" fill="#fff" stroke="#fff">6.7</text><text x="256.4" y="138.8" text-anchor="middle" font-size="7.4" style="stroke-width:0.32px" fill="#1a1a1a" stroke="#1a1a1a">1</text><rect x="263" y="106.77" width="10.8" height="22.23" fill="#d8921e"/><text x="268.4" y="112.17" text-anchor="middle" font-size="5.4" textLength="9.5" lengthAdjust="spacingAndGlyphs" style="stroke:none" fill="#fff" stroke="#fff">11.4</text><text x="268.4" y="138.8" text-anchor="middle" font-size="7.4" style="stroke-width:0.32px" fill="#1a1a1a" stroke="#1a1a1a">2</text><rect x="275" y="112.62" width="10.8" height="16.38" fill="#9cb034"/><text x="280.4" y="118.02" text-anchor="middle" font-size="5.4" textLength="6.8" lengthAdjust="spacingAndGlyphs" style="stroke:none" fill="#fff" stroke="#fff">8.4</text><text x="280.4" y="138.8" text-anchor="middle" font-size="7.4" style="stroke-width:0.32px" fill="#1a1a1a" stroke="#1a1a1a">3</text><rect x="287" y="119.25" width="10.8" height="9.75" fill="#3d9a3d"/><text x="292.4" y="124.65" text-anchor="middle" font-size="5.4" textLength="6.8" lengthAdjust="spacingAndGlyphs" style="stroke:none" fill="#fff" stroke="#fff">5.0</text><text x="292.4" y="138.8" text-anchor="middle" font-size="7.4" style="stroke-width:0.32px" fill="#1a1a1a" stroke="#1a1a1a">4</text><rect x="299" y="112.62" width="10.8" height="16.38" fill="#2e9a7a"/><text x="304.4" y="118.02" text-anchor="middle" font-size="5.4" textLength="6.8" lengthAdjust="spacingAndGlyphs" style="stroke:none" fill="#fff" stroke="#fff">8.4</text><text x="304.4" y="138.8" text-anchor="middle" font-size="7.4" style="stroke-width:0.32px" fill="#1a1a1a" stroke="#1a1a1a">5</text><rect x="311" y="76.16" width="10.8" height="52.84" fill="#2aa6cc"/><text x="316.4" y="81.56" text-anchor="middle" font-size="5.4" textLength="8.3" lengthAdjust="spacingAndGlyphs" style="stroke:none" fill="#fff" stroke="#fff">27.1</text><text x="316.4" y="138.8" text-anchor="middle" font-size="7.4" style="stroke-width:0.32px" fill="#1a1a1a" stroke="#1a1a1a">6</text><rect x="323" y="100.34" width="10.8" height="28.66" fill="#6b8bca"/><text x="328.4" y="105.74" text-anchor="middle" font-size="5.4" textLength="9.8" lengthAdjust="spacingAndGlyphs" style="stroke:none" fill="#fff" stroke="#fff">14.7</text><text x="328.4" y="138.8" text-anchor="middle" font-size="7.4" style="stroke-width:0.32px" fill="#1a1a1a" stroke="#1a1a1a">7</text><rect x="335" y="121.20" width="10.8" height="7.80" fill="#a564b5"/><text x="340.4" y="126.60" text-anchor="middle" font-size="5.4" textLength="6.8" lengthAdjust="spacingAndGlyphs" style="stroke:none" fill="#fff" stroke="#fff">4.0</text><text x="340.4" y="138.8" text-anchor="middle" font-size="7.4" style="stroke-width:0.32px" fill="#1a1a1a" stroke="#1a1a1a">8</text><rect x="347" y="100.92" width="10.8" height="28.08" fill="#d95aa0"/><text x="352.4" y="106.32" text-anchor="middle" font-size="5.4" textLength="9.9" lengthAdjust="spacingAndGlyphs" style="stroke:none" fill="#fff" stroke="#fff">14.4</text><text x="352.4" y="138.8" text-anchor="middle" font-size="7.4" style="stroke-width:0.32px" fill="#1a1a1a" stroke="#1a1a1a">9</text><text x="304.5" y="151.7" text-anchor="middle" font-size="8.6" textLength="29.4" lengthAdjust="spacingAndGlyphs" style="stroke-width:0.35px" fill="#222" stroke="#222">Phenotype</text>
<polygon points="355.30,265.71 388.79,232.50 408.28,259.91 428.72,290.50 405.49,319.48 390.40,351.29 355.30,356.83 324.71,343.48 333.55,303.06 317.95,290.50 336.90,279.87 330.83,248.11" fill="#d6e1dd"/><polygon points="355.30,274.40 363.35,276.56 369.24,282.45 371.40,290.50 369.24,298.55 363.35,304.44 355.30,306.60 347.25,304.44 341.36,298.55 339.20,290.50 341.36,282.45 347.25,276.56" fill="none" stroke="rgba(110,110,110,0.45)" stroke-width="0.8"/><polygon points="355.30,258.30 371.40,262.61 383.19,274.40 387.50,290.50 383.19,306.60 371.40,318.39 355.30,322.70 339.20,318.39 327.41,306.60 323.10,290.50 327.41,274.40 339.20,262.61" fill="none" stroke="rgba(110,110,110,0.45)" stroke-width="0.8"/><polygon points="355.30,242.20 379.45,248.67 397.13,266.35 403.60,290.50 397.13,314.65 379.45,332.33 355.30,338.80 331.15,332.33 313.47,314.65 307.00,290.50 313.47,266.35 331.15,248.67" fill="none" stroke="rgba(110,110,110,0.45)" stroke-width="0.8"/><polygon points="355.30,226.10 387.50,234.73 411.07,258.30 419.70,290.50 411.07,322.70 387.50,346.27 355.30,354.90 323.10,346.27 299.53,322.70 290.90,290.50 299.53,258.30 323.10,234.73" fill="none" stroke="rgba(110,110,110,0.45)" stroke-width="0.8"/><polygon points="355.30,210.00 395.55,220.78 425.02,250.25 435.80,290.50 425.02,330.75 395.55,360.22 355.30,371.00 315.05,360.22 285.58,330.75 274.80,290.50 285.58,250.25 315.05,220.78" fill="none" stroke="rgba(110,110,110,0.45)" stroke-width="0.8"/><line x1="355.30" y1="274.40" x2="355.30" y2="210.00" stroke="rgba(110,110,110,0.45)" stroke-width="0.8"/><line x1="363.35" y1="276.56" x2="395.55" y2="220.78" stroke="rgba(110,110,110,0.45)" stroke-width="0.8"/><line x1="369.24" y1="282.45" x2="425.02" y2="250.25" stroke="rgba(110,110,110,0.45)" stroke-width="0.8"/><line x1="371.40" y1="290.50" x2="435.80" y2="290.50" stroke="rgba(110,110,110,0.45)" stroke-width="0.8"/><line x1="369.24" y1="298.55" x2="425.02" y2="330.75" stroke="rgba(110,110,110,0.45)" stroke-width="0.8"/><line x1="363.35" y1="304.44" x2="395.55" y2="360.22" stroke="rgba(110,110,110,0.45)" stroke-width="0.8"/><line x1="355.30" y1="306.60" x2="355.30" y2="371.00" stroke="rgba(110,110,110,0.45)" stroke-width="0.8"/><line x1="347.25" y1="304.44" x2="315.05" y2="360.22" stroke="rgba(110,110,110,0.45)" stroke-width="0.8"/><line x1="341.36" y1="298.55" x2="285.58" y2="330.75" stroke="rgba(110,110,110,0.45)" stroke-width="0.8"/><line x1="339.20" y1="290.50" x2="274.80" y2="290.50" stroke="rgba(110,110,110,0.45)" stroke-width="0.8"/><line x1="341.36" y1="282.45" x2="285.58" y2="250.25" stroke="rgba(110,110,110,0.45)" stroke-width="0.8"/><line x1="347.25" y1="276.56" x2="315.05" y2="220.78" stroke="rgba(110,110,110,0.45)" stroke-width="0.8"/><polygon points="355.30,265.71 388.79,232.50 408.28,259.91 428.72,290.50 405.49,319.48 390.40,351.29 355.30,356.83 324.71,343.48 333.55,303.06 317.95,290.50 336.90,279.87 330.83,248.11" fill="none" stroke="#3c7a5a" stroke-width="1"/><circle cx="355.30" cy="265.71" r="1.4" fill="#174a30"/><circle cx="388.79" cy="232.50" r="1.4" fill="#174a30"/><circle cx="408.28" cy="259.91" r="1.4" fill="#174a30"/><circle cx="428.72" cy="290.50" r="1.4" fill="#174a30"/><circle cx="405.49" cy="319.48" r="1.4" fill="#174a30"/><circle cx="390.40" cy="351.29" r="1.4" fill="#174a30"/><circle cx="355.30" cy="356.83" r="1.4" fill="#174a30"/><circle cx="324.71" cy="343.48" r="1.4" fill="#174a30"/><circle cx="333.55" cy="303.06" r="1.4" fill="#174a30"/><circle cx="317.95" cy="290.50" r="1.4" fill="#174a30"/><circle cx="336.90" cy="279.87" r="1.4" fill="#174a30"/><circle cx="330.83" cy="248.11" r="1.4" fill="#174a30"/><text x="355.5" y="212.7" text-anchor="middle" font-size="7.6" fill="#222" stroke="#222">100 (%)</text><text x="355.5" y="228" text-anchor="middle" font-size="7.6" fill="#222" stroke="#222">75 (%)</text><text x="355.5" y="242.8" text-anchor="middle" font-size="7.6" fill="#222" stroke="#222">50 (%)</text><text x="355.5" y="258.8" text-anchor="middle" font-size="7.6" fill="#222" stroke="#222">25 (%)</text><text x="355.5" y="276.3" text-anchor="middle" font-size="7.6" fill="#222" stroke="#222">0 (%)</text><text x="355.3" y="192.2" text-anchor="middle" font-size="7.6" fill="#222" stroke="#222">Distance</text><text x="355.3" y="201.8" text-anchor="middle" font-size="7.6" fill="#222" stroke="#222">between cells</text><text x="408.2" y="208.2" text-anchor="middle" font-size="7.6" fill="#dc9230" stroke="#dc9230">Similarity of cells</text><text x="408.2" y="217.6" text-anchor="middle" font-size="7.6" fill="#dc9230" stroke="#dc9230">to MF</text><text x="448" y="240.9" text-anchor="middle" font-size="7.6" fill="#dc9230" stroke="#dc9230">Similarity of cells</text><text x="448" y="250.5" text-anchor="middle" font-size="7.6" fill="#dc9230" stroke="#dc9230">to PV</text><text x="467.5" y="289.1" text-anchor="middle" font-size="7.6" fill="#dc9230" stroke="#dc9230">Similarity of cells</text><text x="467.5" y="298.5" text-anchor="middle" font-size="7.6" fill="#dc9230" stroke="#dc9230">to ET</text><text x="454.9" y="339.2" text-anchor="middle" font-size="7.6" fill="#dc9230" stroke="#dc9230">Similarity of cells</text><text x="454.9" y="348.8" text-anchor="middle" font-size="7.6" fill="#dc9230" stroke="#dc9230">to reactive</text><text x="406.9" y="371" text-anchor="middle" font-size="7.6" fill="#222" stroke="#222">Heterogeneity</text><text x="406.9" y="380.4" text-anchor="middle" font-size="7.6" fill="#222" stroke="#222">of phenotypes</text><text x="355" y="378.6" text-anchor="middle" font-size="7.6" fill="#222" stroke="#222">Standard</text><text x="355" y="388.1" text-anchor="middle" font-size="7.6" fill="#222" stroke="#222">deviation of</text><text x="355" y="397.5" text-anchor="middle" font-size="7.6" fill="#222" stroke="#222">cell radius</text><text x="305.4" y="369.7" text-anchor="middle" font-size="7.6" fill="#222" stroke="#222">Average</text><text x="305.4" y="379.3" text-anchor="middle" font-size="7.6" fill="#222" stroke="#222">cell radius</text><text x="262" y="338.6" text-anchor="middle" font-size="7.6" fill="#222" stroke="#222">Density of cells</text><text x="248.7" y="288" text-anchor="middle" font-size="7.6" fill="#222" stroke="#222">Propensity to</text><text x="248.7" y="297.4" text-anchor="middle" font-size="7.6" fill="#222" stroke="#222">form clusters</text><text x="267.4" y="236.3" text-anchor="middle" font-size="7.6" fill="#222" stroke="#222">Maximum</text><text x="267.4" y="246.1" text-anchor="middle" font-size="7.6" fill="#222" stroke="#222">cluster size</text><text x="305.5" y="204.8" text-anchor="middle" font-size="7.6" fill="#222" stroke="#222">Average</text><text x="305.5" y="214.6" text-anchor="middle" font-size="7.6" fill="#222" stroke="#222">cluster size</text>
<text x="9.7" y="17" font-size="11.6" font-weight="bold" style="stroke-width:0.35px" fill="#111" stroke="#111">A</text><text x="211.7" y="17" font-size="11.6" font-weight="bold" style="stroke-width:0.35px" fill="#111" stroke="#111">B</text><text x="377.8" y="16.6" font-size="11.6" font-weight="bold" style="stroke-width:0.35px" fill="#111" stroke="#111">C</text><text x="211.9" y="179.7" font-size="11.6" font-weight="bold" style="stroke-width:0.35px" fill="#111" stroke="#111">D</text>
<text transform="translate(14.4,162.4) rotate(-90)" text-anchor="middle" font-size="7.4" textLength="81.6" lengthAdjust="spacingAndGlyphs" style="stroke-width:0.3px" fill="#111" stroke="#111">Cytomorphological subtypes</text>
<rect x="0.5" y="0.5" width="519" height="406" fill="none" stroke="#111" stroke-width="1"/>
</svg>
</body></html>
